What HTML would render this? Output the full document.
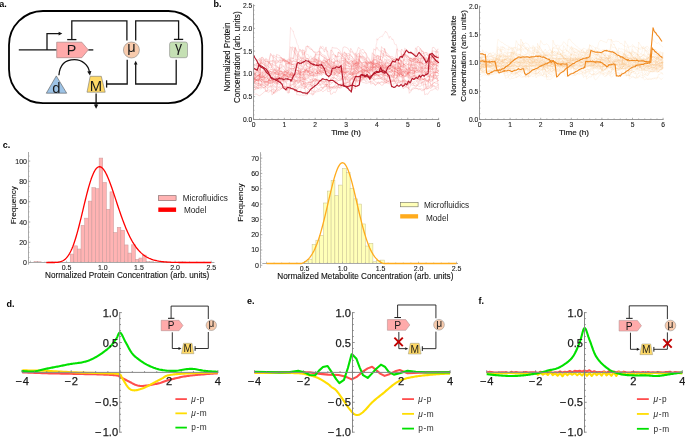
<!DOCTYPE html>
<html><head><meta charset="utf-8"><style>
html,body{margin:0;padding:0;background:#fff;}
svg{display:block;font-family:"Liberation Sans", sans-serif;will-change:transform;}
</style></head><body>
<svg width="685" height="437" viewBox="0 0 685 437">
<text x="-0.80" y="7.00" font-size="9.0" text-anchor="start" fill="#000" font-weight="bold" >a.</text>
<text x="213.50" y="7.00" font-size="9.0" text-anchor="start" fill="#000" font-weight="bold" >b.</text>
<text x="2.80" y="147.60" font-size="9.0" text-anchor="start" fill="#000" font-weight="bold" >c.</text>
<text x="6.60" y="307.30" font-size="9.0" text-anchor="start" fill="#000" font-weight="bold" >d.</text>
<text x="247.00" y="304.30" font-size="9.0" text-anchor="start" fill="#000" font-weight="bold" >e.</text>
<text x="478.50" y="304.30" font-size="9.0" text-anchor="start" fill="#000" font-weight="bold" >f.</text>
<g>
<rect x="9" y="11" width="193.2" height="92.2" rx="34" ry="34" fill="none" stroke="#000" stroke-width="1.8"/>
<line x1="18.8" y1="49.9" x2="56.7" y2="49.9" stroke="#151515" stroke-width="1.3"/>
<line x1="88.3" y1="49.9" x2="93.3" y2="49.9" stroke="#151515" stroke-width="1.3"/>
<polyline points="47,49.9 47,33.6 59.5,33.6" fill="none" stroke="#151515" stroke-width="1.3"/>
<polygon points="62.3,33.6 58.6,31.8 58.6,35.4" fill="#151515"/>
<polygon points="56.7,42.2 81.8,42.2 88.3,49.9 81.8,57.7 56.7,57.7" fill="#ffaaaa" stroke="#9a7a7a" stroke-width="0.6"/>
<text x="71.40" y="55.20" font-size="14.3" text-anchor="middle" fill="#1a1a1a" font-weight="normal" >P</text>
<polyline points="126.9,40.5 126.9,20.9 71.8,20.9 71.8,39.6" fill="none" stroke="#151515" stroke-width="1.3"/>
<line x1="67.2" y1="39.6" x2="76.4" y2="39.6" stroke="#151515" stroke-width="1.3"/>
<polyline points="135.7,40.5 135.7,20.9 178.6,20.9 178.6,39.4" fill="none" stroke="#151515" stroke-width="1.3"/>
<line x1="173.9" y1="39.4" x2="183.2" y2="39.4" stroke="#151515" stroke-width="1.3"/>
<circle cx="131.4" cy="50" r="8" fill="#f8cbad" stroke="#888" stroke-width="0.6"/>
<text x="131.40" y="51.90" font-size="14.6" text-anchor="middle" fill="#1a1a1a" font-weight="normal" >&#956;</text>
<rect x="169.6" y="42" width="17.9" height="15.7" rx="2.2" fill="#c5e0b4" stroke="#888" stroke-width="0.6"/>
<text x="178.60" y="51.90" font-size="14.2" text-anchor="middle" fill="#1a1a1a" font-weight="normal" >&#947;</text>
<polyline points="176.2,59.8 176.2,84 135.7,84 135.7,63.5" fill="none" stroke="#151515" stroke-width="1.3"/>
<polygon points="135.7,60.8 133.9,64.5 137.5,64.5" fill="#151515"/>
<polyline points="127.2,59.8 127.2,84 106.7,84" fill="none" stroke="#151515" stroke-width="1.3"/>
<line x1="106.6" y1="80.3" x2="106.6" y2="87.6" stroke="#151515" stroke-width="1.3"/>
<polygon points="56.3,75.9 66.7,93.2 46.3,93.2" fill="#9dc3e6" stroke="#555" stroke-width="0.6"/>
<text x="56.30" y="93.40" font-size="14.8" text-anchor="middle" fill="#1a1a1a" font-weight="normal" >d</text>
<polygon points="90.2,76.3 101.3,76.3 105.2,92.2 87,92.2" fill="#ffd966" stroke="#777" stroke-width="0.6"/>
<text x="95.90" y="90.80" font-size="14.8" text-anchor="middle" fill="#1a1a1a" font-weight="normal" >M</text>
<path d="M58.9,75.2 C60,62 68,59.6 74.5,59.6 C82,59.6 88.6,65 89.4,72" fill="none" stroke="#111" stroke-width="1.3"/>
<polygon points="90.0,75.6 87.2,71.4 91.4,70.9" fill="#111"/>
<line x1="96.1" y1="93.6" x2="96.1" y2="105.5" stroke="#111" stroke-width="1.3"/>
<polygon points="96.1,108.7 93.9,104.6 98.3,104.6" fill="#111"/>
</g>
<g fill="none" stroke-linejoin="round">
<polyline points="253.5,82.7 255.0,81.6 256.6,79.9 258.1,78.8 259.7,77.2 261.2,78.1 262.8,75.6 264.3,75.2 265.8,75.3 267.4,78.1 268.9,80.0 270.5,80.8 272.0,81.4 273.6,81.7 275.1,81.5 276.6,82.8 278.2,74.3 279.7,74.9 281.3,77.3 282.8,78.2 284.4,75.0 285.9,75.0 287.4,73.4 289.0,74.3 290.5,74.6 292.1,76.0 293.6,75.0 295.1,76.4 296.7,78.0 298.2,78.0 299.8,76.4 301.3,74.9 302.9,74.6 304.4,75.2 305.9,74.4 307.5,75.3 309.0,75.7 310.6,77.1 312.1,78.4 313.7,80.9 315.2,80.6 316.7,82.7 318.3,83.0 319.8,84.9 321.4,83.0 322.9,82.6 324.5,82.2 326.0,80.2 327.5,91.4 329.1,91.5 330.6,90.6 332.2,88.5 333.7,88.7 335.3,88.2 336.8,88.2 338.3,86.5 339.9,87.9 341.4,86.3 343.0,85.6 344.5,85.5 346.1,76.2 347.6,76.0 349.1,74.6 350.7,74.7 352.2,75.6 353.8,73.9 355.3,73.9 356.8,73.3 358.4,73.2 359.9,55.9 361.5,57.1 363.0,58.8 364.6,59.6 366.1,63.2 367.6,63.5 369.2,61.9 370.7,61.9 372.3,65.8 373.8,68.0 375.4,67.1 376.9,66.0 378.4,66.1 380.0,67.7 381.5,70.8 383.1,70.1 384.6,69.2 386.2,69.5 387.7,69.1 389.2,69.9 390.8,68.1 392.3,66.7 393.9,69.1 395.4,71.5 397.0,73.3 398.5,72.8 400.0,77.0 401.6,76.7 403.1,74.6 404.7,75.8 406.2,76.6 407.8,77.1 409.3,78.7 410.8,78.4 412.4,79.2 413.9,76.1 415.5,75.9 417.0,76.8 418.5,77.5 420.1,77.8 421.6,77.5 423.2,79.0 424.7,79.3 426.3,87.3 427.8,88.8 429.3,87.8 430.9,88.6 432.4,86.4 434.0,85.6 435.5,86.6 437.1,86.0 438.6,84.8" stroke="#ee5050" stroke-opacity="0.26" stroke-width="0.7"/>
<polyline points="253.5,83.0 255.0,81.6 256.6,80.9 258.1,79.2 259.7,78.1 261.2,76.6 262.8,77.1 264.3,79.4 265.8,77.0 267.4,78.6 268.9,61.7 270.5,61.7 272.0,60.6 273.6,60.4 275.1,63.2 276.6,63.4 278.2,62.2 279.7,62.4 281.3,62.6 282.8,59.9 284.4,58.7 285.9,62.1 287.4,64.2 289.0,63.6 290.5,61.3 292.1,46.9 293.6,47.6 295.1,49.6 296.7,66.6 298.2,67.8 299.8,68.7 301.3,69.9 302.9,68.4 304.4,66.9 305.9,67.8 307.5,71.6 309.0,73.3 310.6,73.4 312.1,71.7 313.7,76.4 315.2,75.0 316.7,75.2 318.3,66.5 319.8,66.7 321.4,67.6 322.9,69.7 324.5,70.6 326.0,71.3 327.5,72.4 329.1,73.4 330.6,74.1 332.2,72.0 333.7,61.9 335.3,66.0 336.8,66.5 338.3,66.2 339.9,68.7 341.4,68.4 343.0,68.7 344.5,68.9 346.1,53.4 347.6,55.8 349.1,55.4 350.7,54.6 352.2,57.0 353.8,59.3 355.3,60.2 356.8,59.0 358.4,60.5 359.9,61.0 361.5,62.9 363.0,66.5 364.6,65.0 366.1,68.1 367.6,67.5 369.2,66.8 370.7,68.8 372.3,70.2 373.8,69.1 375.4,70.1 376.9,67.4 378.4,67.1 380.0,69.3 381.5,70.1 383.1,68.7 384.6,58.8 386.2,60.1 387.7,62.7 389.2,61.7 390.8,61.8 392.3,63.3 393.9,62.1 395.4,61.7 397.0,63.0 398.5,62.7 400.0,65.4 401.6,67.1 403.1,67.5 404.7,48.3 406.2,49.5 407.8,50.5 409.3,52.6 410.8,52.8 412.4,53.5 413.9,53.5 415.5,54.3 417.0,57.3 418.5,58.2 420.1,58.5 421.6,58.7 423.2,57.9 424.7,59.1 426.3,59.6 427.8,62.0 429.3,63.0 430.9,64.4 432.4,64.6 434.0,64.1 435.5,64.5 437.1,64.9 438.6,67.1" stroke="#ee5050" stroke-opacity="0.26" stroke-width="0.7"/>
<polyline points="253.5,71.7 255.0,73.5 256.6,72.6 258.1,71.2 259.7,68.6 261.2,71.1 262.8,72.2 264.3,71.2 265.8,72.7 267.4,71.1 268.9,70.9 270.5,69.8 272.0,69.2 273.6,72.4 275.1,75.5 276.6,73.0 278.2,72.9 279.7,74.0 281.3,73.7 282.8,77.6 284.4,86.3 285.9,88.9 287.4,89.1 289.0,88.3 290.5,88.6 292.1,89.1 293.6,89.4 295.1,90.9 296.7,90.3 298.2,87.2 299.8,86.8 301.3,85.3 302.9,83.5 304.4,83.7 305.9,82.7 307.5,83.2 309.0,82.9 310.6,82.1 312.1,81.9 313.7,80.2 315.2,78.8 316.7,80.2 318.3,69.7 319.8,70.0 321.4,70.7 322.9,70.5 324.5,70.3 326.0,70.9 327.5,71.5 329.1,72.5 330.6,74.8 332.2,74.6 333.7,74.9 335.3,74.1 336.8,71.5 338.3,69.2 339.9,70.4 341.4,72.6 343.0,71.6 344.5,72.4 346.1,72.3 347.6,72.6 349.1,73.5 350.7,74.6 352.2,75.5 353.8,64.9 355.3,62.9 356.8,65.4 358.4,66.1 359.9,66.3 361.5,68.0 363.0,78.2 364.6,80.3 366.1,82.1 367.6,80.8 369.2,81.8 370.7,81.3 372.3,81.3 373.8,80.4 375.4,65.4 376.9,66.1 378.4,64.5 380.0,65.1 381.5,68.2 383.1,71.7 384.6,70.3 386.2,71.7 387.7,72.8 389.2,74.2 390.8,74.0 392.3,77.4 393.9,77.5 395.4,78.5 397.0,77.3 398.5,76.4 400.0,65.7 401.6,66.3 403.1,66.0 404.7,69.2 406.2,72.0 407.8,72.7 409.3,75.3 410.8,77.5 412.4,76.4 413.9,75.5 415.5,78.2 417.0,77.7 418.5,79.8 420.1,79.6 421.6,73.0 423.2,72.8 424.7,73.6 426.3,73.9 427.8,76.3 429.3,74.6 430.9,76.1 432.4,77.1 434.0,78.7 435.5,78.1 437.1,76.7 438.6,75.2" stroke="#ee5050" stroke-opacity="0.26" stroke-width="0.7"/>
<polyline points="253.5,75.9 255.0,77.8 256.6,80.0 258.1,80.9 259.7,79.6 261.2,81.4 262.8,80.3 264.3,77.6 265.8,78.1 267.4,78.4 268.9,79.2 270.5,77.7 272.0,77.4 273.6,93.9 275.1,91.0 276.6,89.8 278.2,90.3 279.7,90.3 281.3,88.8 282.8,86.8 284.4,86.5 285.9,88.7 287.4,87.3 289.0,86.9 290.5,85.7 292.1,85.0 293.6,84.3 295.1,83.7 296.7,81.5 298.2,80.1 299.8,80.6 301.3,80.8 302.9,81.3 304.4,83.4 305.9,84.4 307.5,82.7 309.0,82.3 310.6,82.7 312.1,80.1 313.7,80.5 315.2,78.4 316.7,80.0 318.3,79.9 319.8,80.9 321.4,81.5 322.9,80.9 324.5,80.9 326.0,81.8 327.5,81.8 329.1,83.5 330.6,94.3 332.2,94.0 333.7,91.8 335.3,92.8 336.8,89.9 338.3,87.2 339.9,88.3 341.4,88.0 343.0,85.8 344.5,84.4 346.1,85.0 347.6,86.1 349.1,87.4 350.7,78.9 352.2,77.7 353.8,77.4 355.3,77.5 356.8,78.7 358.4,78.6 359.9,78.0 361.5,79.9 363.0,68.0 364.6,69.0 366.1,70.2 367.6,71.0 369.2,69.7 370.7,69.6 372.3,70.4 373.8,72.2 375.4,73.8 376.9,74.3 378.4,75.7 380.0,75.8 381.5,77.4 383.1,77.8 384.6,77.9 386.2,78.9 387.7,78.3 389.2,78.0 390.8,79.4 392.3,79.1 393.9,79.9 395.4,79.1 397.0,76.5 398.5,74.6 400.0,75.7 401.6,77.3 403.1,76.9 404.7,79.4 406.2,81.5 407.8,82.0 409.3,80.3 410.8,77.2 412.4,75.8 413.9,77.0 415.5,62.2 417.0,61.9 418.5,62.9 420.1,62.5 421.6,50.4 423.2,52.5 424.7,56.2 426.3,54.2 427.8,56.0 429.3,56.7 430.9,58.4 432.4,59.1 434.0,60.2 435.5,60.6 437.1,61.5 438.6,62.1" stroke="#ee5050" stroke-opacity="0.26" stroke-width="0.7"/>
<polyline points="253.5,74.8 255.0,75.0 256.6,75.1 258.1,75.7 259.7,76.5 261.2,77.1 262.8,76.0 264.3,77.4 265.8,77.1 267.4,76.7 268.9,77.3 270.5,76.8 272.0,76.9 273.6,74.8 275.1,73.1 276.6,74.0 278.2,74.8 279.7,75.9 281.3,74.0 282.8,73.6 284.4,74.5 285.9,74.9 287.4,75.9 289.0,77.0 290.5,73.7 292.1,72.1 293.6,75.2 295.1,74.7 296.7,75.6 298.2,72.8 299.8,72.9 301.3,71.0 302.9,71.3 304.4,72.3 305.9,69.6 307.5,69.1 309.0,68.8 310.6,67.1 312.1,66.7 313.7,65.0 315.2,64.5 316.7,66.4 318.3,68.2 319.8,67.4 321.4,67.8 322.9,69.6 324.5,68.5 326.0,68.0 327.5,69.8 329.1,73.1 330.6,73.3 332.2,75.6 333.7,74.9 335.3,75.1 336.8,75.6 338.3,74.5 339.9,76.6 341.4,77.1 343.0,76.3 344.5,77.5 346.1,75.9 347.6,76.7 349.1,77.9 350.7,90.6 352.2,89.8 353.8,87.2 355.3,89.0 356.8,72.8 358.4,71.8 359.9,71.4 361.5,70.9 363.0,72.7 364.6,74.7 366.1,74.0 367.6,75.1 369.2,73.5 370.7,74.8 372.3,76.0 373.8,74.9 375.4,75.3 376.9,75.2 378.4,75.4 380.0,76.7 381.5,77.9 383.1,78.2 384.6,79.0 386.2,80.8 387.7,81.0 389.2,81.9 390.8,82.7 392.3,81.5 393.9,81.1 395.4,82.4 397.0,84.3 398.5,81.6 400.0,81.1 401.6,81.0 403.1,80.7 404.7,81.6 406.2,82.2 407.8,81.1 409.3,93.3 410.8,91.6 412.4,88.0 413.9,87.7 415.5,88.6 417.0,88.3 418.5,89.6 420.1,88.8 421.6,88.9 423.2,89.7 424.7,89.6 426.3,86.9 427.8,86.1 429.3,86.2 430.9,85.1 432.4,84.3 434.0,82.4 435.5,83.3 437.1,83.5 438.6,84.7" stroke="#ee5050" stroke-opacity="0.26" stroke-width="0.7"/>
<polyline points="253.5,78.8 255.0,79.0 256.6,77.6 258.1,76.6 259.7,76.0 261.2,79.4 262.8,79.7 264.3,79.9 265.8,81.5 267.4,82.3 268.9,83.3 270.5,83.1 272.0,82.3 273.6,82.2 275.1,82.3 276.6,80.7 278.2,80.8 279.7,81.0 281.3,81.4 282.8,81.2 284.4,80.3 285.9,82.6 287.4,83.9 289.0,84.0 290.5,84.5 292.1,73.7 293.6,75.5 295.1,75.8 296.7,78.1 298.2,79.8 299.8,79.5 301.3,68.3 302.9,69.6 304.4,52.0 305.9,62.1 307.5,63.2 309.0,63.8 310.6,64.3 312.1,66.7 313.7,65.0 315.2,65.4 316.7,65.5 318.3,69.4 319.8,71.5 321.4,71.8 322.9,70.3 324.5,70.1 326.0,69.5 327.5,69.9 329.1,70.3 330.6,71.1 332.2,70.5 333.7,71.8 335.3,73.1 336.8,72.3 338.3,72.9 339.9,72.7 341.4,70.1 343.0,71.9 344.5,62.0 346.1,65.3 347.6,63.0 349.1,63.8 350.7,65.1 352.2,69.2 353.8,68.2 355.3,67.3 356.8,52.2 358.4,47.4 359.9,48.4 361.5,50.2 363.0,49.2 364.6,51.7 366.1,54.0 367.6,67.1 369.2,69.4 370.7,67.5 372.3,68.1 373.8,67.3 375.4,65.7 376.9,65.8 378.4,56.7 380.0,58.4 381.5,60.8 383.1,62.8 384.6,64.6 386.2,64.0 387.7,65.9 389.2,63.8 390.8,64.0 392.3,66.2 393.9,66.8 395.4,67.4 397.0,70.5 398.5,70.2 400.0,70.5 401.6,72.6 403.1,74.7 404.7,72.6 406.2,72.7 407.8,74.0 409.3,58.4 410.8,58.1 412.4,59.2 413.9,58.7 415.5,59.3 417.0,61.2 418.5,62.5 420.1,62.4 421.6,62.5 423.2,64.9 424.7,65.3 426.3,65.8 427.8,59.9 429.3,60.3 430.9,64.0 432.4,65.9 434.0,67.1 435.5,66.9 437.1,70.4 438.6,70.2" stroke="#ee5050" stroke-opacity="0.26" stroke-width="0.7"/>
<polyline points="253.5,71.8 255.0,68.3 256.6,68.9 258.1,71.4 259.7,72.1 261.2,73.8 262.8,74.6 264.3,74.3 265.8,74.7 267.4,63.8 268.9,63.4 270.5,64.1 272.0,63.5 273.6,64.4 275.1,63.6 276.6,65.8 278.2,66.6 279.7,70.0 281.3,70.5 282.8,71.5 284.4,71.3 285.9,73.3 287.4,61.0 289.0,62.9 290.5,62.8 292.1,62.6 293.6,60.9 295.1,61.9 296.7,61.5 298.2,62.7 299.8,61.5 301.3,61.0 302.9,62.3 304.4,64.3 305.9,63.7 307.5,63.1 309.0,64.5 310.6,65.4 312.1,62.7 313.7,65.2 315.2,65.2 316.7,65.6 318.3,66.9 319.8,51.7 321.4,56.0 322.9,56.2 324.5,56.8 326.0,58.7 327.5,60.2 329.1,59.7 330.6,58.6 332.2,59.8 333.7,58.3 335.3,60.5 336.8,61.1 338.3,63.2 339.9,62.9 341.4,61.2 343.0,47.5 344.5,46.9 346.1,47.3 347.6,48.0 349.1,50.2 350.7,52.3 352.2,51.6 353.8,54.6 355.3,55.1 356.8,69.7 358.4,68.5 359.9,69.0 361.5,69.0 363.0,70.2 364.6,69.8 366.1,71.1 367.6,71.2 369.2,70.8 370.7,71.2 372.3,68.5 373.8,68.0 375.4,68.6 376.9,67.1 378.4,66.5 380.0,66.1 381.5,68.7 383.1,69.2 384.6,71.5 386.2,70.5 387.7,70.6 389.2,69.4 390.8,66.0 392.3,64.0 393.9,64.1 395.4,66.8 397.0,67.3 398.5,68.4 400.0,67.7 401.6,71.2 403.1,71.5 404.7,71.2 406.2,73.4 407.8,74.3 409.3,70.7 410.8,71.0 412.4,70.3 413.9,70.5 415.5,70.6 417.0,70.4 418.5,69.0 420.1,68.7 421.6,69.4 423.2,70.8 424.7,68.1 426.3,68.8 427.8,67.2 429.3,66.3 430.9,67.3 432.4,67.2 434.0,75.4 435.5,72.2 437.1,72.8 438.6,73.8" stroke="#ee5050" stroke-opacity="0.26" stroke-width="0.7"/>
<polyline points="253.5,73.4 255.0,70.9 256.6,70.2 258.1,68.2 259.7,69.2 261.2,81.9 262.8,80.8 264.3,82.4 265.8,81.1 267.4,80.9 268.9,81.2 270.5,81.0 272.0,79.3 273.6,81.0 275.1,82.1 276.6,81.0 278.2,79.2 279.7,78.3 281.3,78.2 282.8,77.2 284.4,78.0 285.9,76.7 287.4,76.1 289.0,75.0 290.5,74.7 292.1,75.3 293.6,76.6 295.1,77.8 296.7,76.5 298.2,78.1 299.8,77.4 301.3,77.4 302.9,75.3 304.4,77.4 305.9,78.8 307.5,78.8 309.0,77.2 310.6,76.0 312.1,76.0 313.7,73.7 315.2,72.6 316.7,71.3 318.3,72.6 319.8,73.6 321.4,71.7 322.9,72.5 324.5,71.2 326.0,71.9 327.5,70.0 329.1,70.8 330.6,71.7 332.2,71.9 333.7,73.1 335.3,71.8 336.8,71.9 338.3,71.6 339.9,70.5 341.4,71.2 343.0,69.9 344.5,79.0 346.1,79.2 347.6,79.7 349.1,80.4 350.7,78.9 352.2,78.5 353.8,81.0 355.3,80.5 356.8,82.1 358.4,81.3 359.9,82.5 361.5,80.0 363.0,79.7 364.6,63.4 366.1,64.3 367.6,66.3 369.2,66.5 370.7,68.2 372.3,66.8 373.8,57.5 375.4,57.9 376.9,56.2 378.4,56.2 380.0,56.8 381.5,60.5 383.1,61.1 384.6,63.3 386.2,63.6 387.7,63.2 389.2,62.9 390.8,65.9 392.3,67.9 393.9,67.8 395.4,69.5 397.0,70.2 398.5,70.4 400.0,71.7 401.6,70.6 403.1,71.3 404.7,73.0 406.2,74.1 407.8,73.4 409.3,72.7 410.8,69.7 412.4,67.7 413.9,68.3 415.5,67.9 417.0,68.8 418.5,69.4 420.1,60.5 421.6,61.4 423.2,60.2 424.7,58.6 426.3,60.6 427.8,61.5 429.3,62.2 430.9,61.0 432.4,62.9 434.0,61.6 435.5,62.4 437.1,61.0 438.6,63.4" stroke="#ee5050" stroke-opacity="0.26" stroke-width="0.7"/>
<polyline points="253.5,63.4 255.0,65.8 256.6,64.9 258.1,65.9 259.7,63.1 261.2,62.6 262.8,62.0 264.3,64.0 265.8,66.9 267.4,69.6 268.9,72.0 270.5,71.9 272.0,72.1 273.6,72.5 275.1,72.0 276.6,73.1 278.2,73.0 279.7,72.3 281.3,71.0 282.8,73.8 284.4,76.0 285.9,75.7 287.4,76.5 289.0,77.3 290.5,74.5 292.1,75.5 293.6,74.8 295.1,74.0 296.7,72.0 298.2,73.7 299.8,74.1 301.3,70.5 302.9,68.6 304.4,69.7 305.9,70.3 307.5,71.8 309.0,72.7 310.6,75.8 312.1,72.2 313.7,72.0 315.2,74.2 316.7,73.2 318.3,72.7 319.8,71.2 321.4,71.8 322.9,71.8 324.5,74.1 326.0,73.7 327.5,73.8 329.1,74.2 330.6,76.8 332.2,77.2 333.7,79.0 335.3,67.4 336.8,67.6 338.3,69.3 339.9,69.9 341.4,68.3 343.0,69.4 344.5,68.4 346.1,68.8 347.6,68.0 349.1,68.1 350.7,72.2 352.2,72.3 353.8,73.5 355.3,68.0 356.8,67.7 358.4,66.8 359.9,67.7 361.5,67.8 363.0,67.4 364.6,66.9 366.1,67.7 367.6,67.7 369.2,69.7 370.7,70.8 372.3,69.9 373.8,54.5 375.4,55.6 376.9,56.5 378.4,55.0 380.0,56.8 381.5,56.5 383.1,58.0 384.6,48.4 386.2,54.7 387.7,56.4 389.2,57.3 390.8,58.5 392.3,59.9 393.9,58.9 395.4,61.0 397.0,58.5 398.5,59.4 400.0,57.7 401.6,56.3 403.1,54.9 404.7,54.9 406.2,55.0 407.8,55.3 409.3,58.4 410.8,58.2 412.4,59.8 413.9,58.7 415.5,61.3 417.0,62.0 418.5,64.8 420.1,64.6 421.6,64.2 423.2,76.2 424.7,75.3 426.3,72.4 427.8,71.0 429.3,69.6 430.9,70.3 432.4,68.7 434.0,70.2 435.5,70.7 437.1,72.3 438.6,71.1" stroke="#ee5050" stroke-opacity="0.26" stroke-width="0.7"/>
<polyline points="253.5,73.2 255.0,75.2 256.6,74.9 258.1,75.2 259.7,74.9 261.2,76.3 262.8,77.4 264.3,77.6 265.8,77.1 267.4,75.3 268.9,75.3 270.5,73.5 272.0,74.2 273.6,73.1 275.1,72.3 276.6,72.3 278.2,72.6 279.7,72.0 281.3,72.6 282.8,75.4 284.4,74.4 285.9,75.7 287.4,74.5 289.0,74.5 290.5,75.0 292.1,57.7 293.6,59.1 295.1,46.9 296.7,52.3 298.2,56.2 299.8,57.2 301.3,59.4 302.9,58.4 304.4,58.9 305.9,61.4 307.5,71.9 309.0,73.0 310.6,75.4 312.1,75.5 313.7,75.4 315.2,74.1 316.7,71.1 318.3,73.8 319.8,73.7 321.4,75.7 322.9,62.0 324.5,56.9 326.0,59.4 327.5,59.1 329.1,59.9 330.6,62.5 332.2,64.7 333.7,64.7 335.3,66.6 336.8,65.1 338.3,65.4 339.9,65.4 341.4,65.3 343.0,67.7 344.5,66.8 346.1,69.2 347.6,68.9 349.1,68.6 350.7,68.8 352.2,68.0 353.8,69.2 355.3,68.4 356.8,69.6 358.4,71.2 359.9,73.9 361.5,75.4 363.0,75.6 364.6,73.3 366.1,61.2 367.6,64.5 369.2,65.7 370.7,66.3 372.3,68.2 373.8,67.5 375.4,67.3 376.9,66.4 378.4,67.9 380.0,66.0 381.5,68.3 383.1,67.7 384.6,67.2 386.2,66.9 387.7,67.2 389.2,68.5 390.8,68.3 392.3,70.6 393.9,67.9 395.4,67.8 397.0,70.3 398.5,72.3 400.0,75.2 401.6,60.1 403.1,64.2 404.7,64.8 406.2,66.0 407.8,67.4 409.3,68.3 410.8,70.0 412.4,71.1 413.9,70.4 415.5,72.4 417.0,62.8 418.5,56.2 420.1,55.0 421.6,57.2 423.2,57.9 424.7,59.3 426.3,60.9 427.8,63.8 429.3,65.1 430.9,66.9 432.4,65.9 434.0,55.2 435.5,56.2 437.1,57.2 438.6,57.6" stroke="#ee5050" stroke-opacity="0.26" stroke-width="0.7"/>
<polyline points="253.5,74.0 255.0,74.1 256.6,74.2 258.1,72.6 259.7,74.6 261.2,62.9 262.8,63.8 264.3,65.3 265.8,65.9 267.4,68.8 268.9,67.3 270.5,68.0 272.0,67.2 273.6,54.9 275.1,56.3 276.6,56.3 278.2,58.0 279.7,57.5 281.3,57.5 282.8,58.7 284.4,59.0 285.9,61.1 287.4,61.5 289.0,62.7 290.5,63.9 292.1,64.5 293.6,64.2 295.1,63.5 296.7,64.7 298.2,62.8 299.8,64.7 301.3,66.3 302.9,67.5 304.4,68.7 305.9,72.5 307.5,74.6 309.0,74.9 310.6,74.0 312.1,72.5 313.7,70.6 315.2,61.0 316.7,59.3 318.3,60.2 319.8,61.0 321.4,62.9 322.9,64.2 324.5,63.4 326.0,64.0 327.5,63.0 329.1,64.1 330.6,66.6 332.2,68.3 333.7,67.4 335.3,68.9 336.8,67.9 338.3,52.0 339.9,52.9 341.4,55.2 343.0,56.7 344.5,58.5 346.1,61.3 347.6,61.2 349.1,62.1 350.7,65.1 352.2,64.3 353.8,66.0 355.3,66.7 356.8,68.5 358.4,71.8 359.9,70.5 361.5,70.5 363.0,72.0 364.6,72.6 366.1,73.3 367.6,71.3 369.2,73.5 370.7,71.9 372.3,73.8 373.8,74.3 375.4,74.3 376.9,74.6 378.4,71.9 380.0,70.3 381.5,70.3 383.1,69.9 384.6,68.1 386.2,61.9 387.7,63.3 389.2,66.4 390.8,67.2 392.3,57.8 393.9,59.8 395.4,59.6 397.0,48.7 398.5,66.9 400.0,67.6 401.6,69.9 403.1,85.4 404.7,83.3 406.2,84.1 407.8,83.4 409.3,83.4 410.8,81.4 412.4,82.8 413.9,85.1 415.5,87.0 417.0,86.2 418.5,83.6 420.1,79.2 421.6,78.2 423.2,79.1 424.7,80.2 426.3,80.9 427.8,80.2 429.3,79.6 430.9,77.1 432.4,76.7 434.0,77.9 435.5,78.1 437.1,80.1 438.6,80.7" stroke="#ee5050" stroke-opacity="0.26" stroke-width="0.7"/>
<polyline points="253.5,78.7 255.0,79.4 256.6,75.9 258.1,74.9 259.7,76.2 261.2,77.5 262.8,76.8 264.3,75.9 265.8,74.7 267.4,76.0 268.9,75.7 270.5,74.4 272.0,73.1 273.6,71.8 275.1,72.9 276.6,72.0 278.2,70.4 279.7,71.1 281.3,71.4 282.8,72.0 284.4,72.7 285.9,70.9 287.4,70.2 289.0,72.5 290.5,73.0 292.1,73.3 293.6,86.6 295.1,86.6 296.7,87.5 298.2,86.0 299.8,85.3 301.3,83.6 302.9,84.0 304.4,82.5 305.9,95.5 307.5,94.0 309.0,92.7 310.6,93.7 312.1,94.0 313.7,93.9 315.2,92.2 316.7,91.8 318.3,91.5 319.8,91.1 321.4,90.1 322.9,87.5 324.5,87.2 326.0,85.5 327.5,83.8 329.1,82.8 330.6,79.2 332.2,77.5 333.7,76.9 335.3,78.6 336.8,78.3 338.3,75.2 339.9,72.3 341.4,71.0 343.0,73.2 344.5,72.0 346.1,73.3 347.6,77.4 349.1,76.7 350.7,77.3 352.2,77.2 353.8,77.1 355.3,75.9 356.8,74.9 358.4,74.8 359.9,75.8 361.5,74.1 363.0,72.1 364.6,70.9 366.1,70.3 367.6,69.7 369.2,70.8 370.7,69.5 372.3,66.9 373.8,67.2 375.4,67.2 376.9,65.5 378.4,68.1 380.0,59.0 381.5,60.6 383.1,77.1 384.6,75.1 386.2,75.8 387.7,77.0 389.2,76.4 390.8,75.4 392.3,74.7 393.9,75.4 395.4,73.7 397.0,74.3 398.5,57.8 400.0,60.2 401.6,62.5 403.1,60.7 404.7,60.2 406.2,62.5 407.8,59.2 409.3,59.2 410.8,60.6 412.4,61.3 413.9,61.0 415.5,47.8 417.0,49.9 418.5,53.0 420.1,53.1 421.6,54.0 423.2,53.6 424.7,53.1 426.3,52.6 427.8,55.3 429.3,55.3 430.9,57.1 432.4,56.9 434.0,56.6 435.5,59.6 437.1,60.7 438.6,62.5" stroke="#ee5050" stroke-opacity="0.26" stroke-width="0.7"/>
<polyline points="253.5,82.3 255.0,81.8 256.6,78.5 258.1,78.1 259.7,58.1 261.2,60.2 262.8,61.2 264.3,61.0 265.8,61.6 267.4,61.7 268.9,62.1 270.5,63.6 272.0,67.6 273.6,69.2 275.1,70.9 276.6,70.5 278.2,70.7 279.7,71.5 281.3,71.7 282.8,73.0 284.4,76.0 285.9,75.9 287.4,76.3 289.0,78.2 290.5,77.1 292.1,77.2 293.6,74.8 295.1,75.1 296.7,76.8 298.2,76.5 299.8,79.3 301.3,81.3 302.9,81.9 304.4,69.0 305.9,69.0 307.5,68.4 309.0,68.0 310.6,70.2 312.1,73.0 313.7,71.7 315.2,72.3 316.7,71.3 318.3,57.4 319.8,59.6 321.4,61.5 322.9,62.7 324.5,64.2 326.0,64.9 327.5,65.8 329.1,66.9 330.6,69.2 332.2,54.3 333.7,54.7 335.3,56.7 336.8,56.5 338.3,56.6 339.9,55.9 341.4,58.1 343.0,58.6 344.5,58.9 346.1,60.3 347.6,61.6 349.1,62.9 350.7,60.6 352.2,60.9 353.8,63.1 355.3,63.3 356.8,63.6 358.4,65.8 359.9,66.4 361.5,68.0 363.0,68.9 364.6,69.2 366.1,68.1 367.6,68.7 369.2,68.8 370.7,66.2 372.3,66.4 373.8,64.2 375.4,65.9 376.9,67.3 378.4,68.6 380.0,68.9 381.5,68.6 383.1,68.8 384.6,68.5 386.2,66.5 387.7,77.2 389.2,76.9 390.8,77.6 392.3,74.8 393.9,75.3 395.4,75.4 397.0,76.2 398.5,77.3 400.0,74.3 401.6,73.1 403.1,71.3 404.7,72.2 406.2,70.9 407.8,72.4 409.3,72.4 410.8,72.6 412.4,73.9 413.9,71.5 415.5,72.0 417.0,72.0 418.5,72.9 420.1,70.8 421.6,56.7 423.2,57.5 424.7,57.8 426.3,59.1 427.8,59.5 429.3,59.0 430.9,59.9 432.4,63.3 434.0,64.0 435.5,64.2 437.1,63.5 438.6,62.9" stroke="#ee5050" stroke-opacity="0.26" stroke-width="0.7"/>
<polyline points="253.5,71.0 255.0,74.6 256.6,71.5 258.1,59.2 259.7,60.9 261.2,61.2 262.8,64.2 264.3,64.6 265.8,65.9 267.4,66.0 268.9,66.7 270.5,64.6 272.0,65.7 273.6,67.6 275.1,69.1 276.6,69.7 278.2,74.7 279.7,73.6 281.3,73.7 282.8,74.4 284.4,74.1 285.9,76.0 287.4,70.5 289.0,69.0 290.5,68.6 292.1,68.2 293.6,68.6 295.1,68.5 296.7,70.6 298.2,70.9 299.8,70.3 301.3,72.3 302.9,71.8 304.4,72.2 305.9,72.3 307.5,72.6 309.0,70.7 310.6,71.4 312.1,71.2 313.7,70.7 315.2,70.2 316.7,69.2 318.3,74.1 319.8,74.2 321.4,73.5 322.9,74.6 324.5,59.7 326.0,61.5 327.5,63.1 329.1,64.5 330.6,66.5 332.2,68.1 333.7,67.2 335.3,65.5 336.8,66.4 338.3,67.3 339.9,60.1 341.4,60.1 343.0,61.1 344.5,60.5 346.1,61.9 347.6,62.1 349.1,66.7 350.7,69.1 352.2,69.8 353.8,68.7 355.3,71.1 356.8,71.6 358.4,56.7 359.9,57.2 361.5,58.3 363.0,60.9 364.6,61.0 366.1,62.5 367.6,64.1 369.2,63.4 370.7,65.4 372.3,68.2 373.8,60.0 375.4,59.7 376.9,62.2 378.4,63.5 380.0,62.8 381.5,62.2 383.1,65.8 384.6,65.4 386.2,67.2 387.7,68.0 389.2,66.4 390.8,64.8 392.3,65.2 393.9,66.1 395.4,67.5 397.0,68.6 398.5,68.5 400.0,69.5 401.6,70.2 403.1,71.2 404.7,70.2 406.2,69.5 407.8,71.4 409.3,72.6 410.8,71.8 412.4,72.8 413.9,73.3 415.5,71.1 417.0,70.2 418.5,71.7 420.1,69.4 421.6,67.7 423.2,69.3 424.7,67.6 426.3,68.8 427.8,69.0 429.3,69.0 430.9,57.9 432.4,56.7 434.0,58.1 435.5,59.5 437.1,61.0 438.6,63.3" stroke="#ee5050" stroke-opacity="0.26" stroke-width="0.7"/>
<polyline points="253.5,81.3 255.0,79.9 256.6,79.5 258.1,79.1 259.7,80.0 261.2,79.6 262.8,79.0 264.3,81.4 265.8,81.9 267.4,82.0 268.9,80.2 270.5,79.9 272.0,80.4 273.6,79.9 275.1,80.7 276.6,83.0 278.2,84.1 279.7,66.0 281.3,58.6 282.8,59.0 284.4,61.4 285.9,61.8 287.4,60.4 289.0,63.3 290.5,46.8 292.1,48.4 293.6,51.6 295.1,53.4 296.7,55.9 298.2,58.0 299.8,60.4 301.3,61.2 302.9,62.1 304.4,61.9 305.9,62.7 307.5,63.0 309.0,61.0 310.6,61.3 312.1,62.9 313.7,65.0 315.2,66.4 316.7,63.8 318.3,61.8 319.8,60.5 321.4,61.2 322.9,61.8 324.5,63.1 326.0,61.9 327.5,59.9 329.1,59.5 330.6,60.2 332.2,61.5 333.7,62.8 335.3,61.1 336.8,60.3 338.3,61.6 339.9,62.4 341.4,64.8 343.0,64.3 344.5,65.9 346.1,66.1 347.6,65.3 349.1,66.4 350.7,66.8 352.2,65.4 353.8,65.3 355.3,63.5 356.8,63.1 358.4,63.2 359.9,65.3 361.5,64.9 363.0,78.0 364.6,78.1 366.1,77.0 367.6,76.3 369.2,75.2 370.7,76.8 372.3,75.3 373.8,66.1 375.4,67.9 376.9,69.0 378.4,70.9 380.0,71.9 381.5,72.2 383.1,71.3 384.6,71.6 386.2,73.8 387.7,73.2 389.2,71.8 390.8,71.1 392.3,70.1 393.9,59.3 395.4,61.2 397.0,60.0 398.5,62.2 400.0,64.8 401.6,64.4 403.1,65.7 404.7,64.0 406.2,63.0 407.8,64.4 409.3,62.6 410.8,65.1 412.4,64.7 413.9,63.3 415.5,62.2 417.0,62.0 418.5,60.6 420.1,61.1 421.6,62.5 423.2,61.1 424.7,60.0 426.3,62.0 427.8,61.6 429.3,61.0 430.9,61.8 432.4,61.5 434.0,60.9 435.5,61.6 437.1,60.5 438.6,60.9" stroke="#ee5050" stroke-opacity="0.26" stroke-width="0.7"/>
<polyline points="253.5,72.2 255.0,84.5 256.6,84.3 258.1,85.1 259.7,85.2 261.2,84.8 262.8,85.0 264.3,85.4 265.8,84.2 267.4,84.3 268.9,83.2 270.5,75.5 272.0,74.9 273.6,74.6 275.1,72.5 276.6,72.0 278.2,69.4 279.7,70.2 281.3,71.3 282.8,72.4 284.4,72.0 285.9,72.4 287.4,72.5 289.0,75.2 290.5,76.3 292.1,74.7 293.6,75.4 295.1,74.3 296.7,74.0 298.2,73.4 299.8,74.2 301.3,74.3 302.9,73.3 304.4,73.0 305.9,74.1 307.5,74.0 309.0,76.1 310.6,75.0 312.1,75.9 313.7,76.4 315.2,75.8 316.7,75.1 318.3,72.1 319.8,71.0 321.4,70.3 322.9,71.9 324.5,73.1 326.0,73.6 327.5,73.9 329.1,72.2 330.6,72.2 332.2,71.4 333.7,70.4 335.3,71.2 336.8,71.1 338.3,72.7 339.9,73.4 341.4,61.6 343.0,60.2 344.5,61.4 346.1,62.5 347.6,61.4 349.1,63.3 350.7,63.3 352.2,62.1 353.8,60.4 355.3,62.2 356.8,62.2 358.4,62.3 359.9,61.6 361.5,64.7 363.0,64.8 364.6,66.1 366.1,64.9 367.6,65.2 369.2,63.4 370.7,64.1 372.3,65.3 373.8,64.5 375.4,64.7 376.9,66.4 378.4,69.5 380.0,68.8 381.5,69.8 383.1,52.9 384.6,55.4 386.2,55.5 387.7,55.2 389.2,56.9 390.8,58.0 392.3,61.1 393.9,60.2 395.4,61.8 397.0,64.2 398.5,66.0 400.0,65.9 401.6,68.3 403.1,69.8 404.7,69.4 406.2,68.1 407.8,70.7 409.3,73.3 410.8,58.4 412.4,58.0 413.9,58.2 415.5,58.1 417.0,59.0 418.5,60.5 420.1,48.3 421.6,50.0 423.2,51.6 424.7,57.1 426.3,57.2 427.8,59.0 429.3,61.5 430.9,62.8 432.4,62.3 434.0,65.5 435.5,51.7 437.1,52.7 438.6,53.2" stroke="#ee5050" stroke-opacity="0.26" stroke-width="0.7"/>
<polyline points="253.5,84.7 255.0,86.8 256.6,84.7 258.1,85.8 259.7,85.5 261.2,85.9 262.8,70.3 264.3,70.6 265.8,71.2 267.4,71.0 268.9,72.3 270.5,72.9 272.0,75.8 273.6,77.6 275.1,77.1 276.6,77.2 278.2,80.1 279.7,80.7 281.3,80.7 282.8,80.9 284.4,70.7 285.9,71.2 287.4,73.4 289.0,71.8 290.5,57.7 292.1,58.3 293.6,58.7 295.1,47.7 296.7,50.7 298.2,52.6 299.8,49.5 301.3,50.6 302.9,53.0 304.4,54.6 305.9,57.5 307.5,59.2 309.0,59.8 310.6,62.6 312.1,63.0 313.7,65.7 315.2,54.6 316.7,55.1 318.3,54.8 319.8,54.4 321.4,55.2 322.9,56.9 324.5,58.1 326.0,61.5 327.5,60.0 329.1,59.6 330.6,60.3 332.2,62.9 333.7,61.7 335.3,63.1 336.8,64.3 338.3,63.8 339.9,67.3 341.4,67.8 343.0,68.9 344.5,70.1 346.1,71.9 347.6,71.6 349.1,69.9 350.7,71.5 352.2,73.5 353.8,77.0 355.3,77.6 356.8,76.5 358.4,78.0 359.9,77.3 361.5,77.5 363.0,78.4 364.6,77.0 366.1,77.3 367.6,75.8 369.2,75.4 370.7,75.4 372.3,75.9 373.8,74.7 375.4,75.6 376.9,74.9 378.4,75.5 380.0,74.0 381.5,75.0 383.1,73.2 384.6,71.0 386.2,72.3 387.7,71.6 389.2,71.8 390.8,72.3 392.3,71.1 393.9,70.2 395.4,71.7 397.0,72.3 398.5,73.4 400.0,72.5 401.6,72.4 403.1,88.8 404.7,87.4 406.2,86.2 407.8,88.2 409.3,88.3 410.8,84.8 412.4,85.3 413.9,85.3 415.5,85.7 417.0,85.5 418.5,84.0 420.1,83.7 421.6,82.8 423.2,82.1 424.7,81.2 426.3,89.3 427.8,88.0 429.3,76.5 430.9,75.7 432.4,75.5 434.0,75.9 435.5,76.1 437.1,75.6 438.6,74.9" stroke="#ee5050" stroke-opacity="0.26" stroke-width="0.7"/>
<polyline points="253.5,77.3 255.0,75.2 256.6,76.1 258.1,75.7 259.7,75.2 261.2,57.8 262.8,57.8 264.3,60.7 265.8,58.4 267.4,59.5 268.9,60.4 270.5,54.7 272.0,55.6 273.6,57.1 275.1,57.6 276.6,59.6 278.2,61.4 279.7,59.1 281.3,57.4 282.8,59.3 284.4,61.9 285.9,61.2 287.4,62.0 289.0,63.0 290.5,63.1 292.1,64.6 293.6,64.2 295.1,64.3 296.7,64.7 298.2,64.7 299.8,64.6 301.3,64.6 302.9,66.7 304.4,65.7 305.9,64.7 307.5,66.6 309.0,67.5 310.6,67.0 312.1,68.6 313.7,70.0 315.2,69.1 316.7,67.6 318.3,68.6 319.8,67.1 321.4,68.1 322.9,69.6 324.5,70.4 326.0,61.2 327.5,64.4 329.1,64.3 330.6,66.4 332.2,66.7 333.7,66.5 335.3,68.9 336.8,70.8 338.3,71.3 339.9,71.5 341.4,71.6 343.0,72.1 344.5,72.5 346.1,55.8 347.6,57.3 349.1,59.8 350.7,48.3 352.2,50.7 353.8,53.5 355.3,54.3 356.8,56.4 358.4,56.0 359.9,56.4 361.5,56.2 363.0,57.4 364.6,58.3 366.1,60.5 367.6,61.9 369.2,62.8 370.7,62.3 372.3,61.1 373.8,59.2 375.4,59.2 376.9,59.2 378.4,63.1 380.0,64.2 381.5,64.0 383.1,66.9 384.6,78.3 386.2,79.9 387.7,82.0 389.2,80.8 390.8,82.0 392.3,81.5 393.9,80.9 395.4,82.4 397.0,80.0 398.5,80.4 400.0,72.3 401.6,74.5 403.1,76.0 404.7,77.4 406.2,75.5 407.8,76.1 409.3,77.7 410.8,77.2 412.4,77.1 413.9,75.3 415.5,75.6 417.0,75.9 418.5,76.3 420.1,75.3 421.6,84.3 423.2,81.2 424.7,94.7 426.3,93.9 427.8,94.3 429.3,91.9 430.9,90.2 432.4,90.0 434.0,88.9 435.5,88.7 437.1,87.2 438.6,88.7" stroke="#ee5050" stroke-opacity="0.26" stroke-width="0.7"/>
<polyline points="253.5,85.2 255.0,87.9 256.6,88.0 258.1,87.3 259.7,87.1 261.2,87.7 262.8,86.6 264.3,88.1 265.8,86.0 267.4,85.3 268.9,83.3 270.5,83.2 272.0,83.0 273.6,81.8 275.1,81.8 276.6,83.2 278.2,80.6 279.7,79.8 281.3,77.4 282.8,75.7 284.4,75.1 285.9,73.9 287.4,74.7 289.0,79.8 290.5,79.5 292.1,81.4 293.6,82.3 295.1,81.7 296.7,80.7 298.2,83.8 299.8,81.1 301.3,83.0 302.9,81.5 304.4,81.4 305.9,83.2 307.5,82.8 309.0,82.3 310.6,79.5 312.1,95.1 313.7,94.6 315.2,79.3 316.7,81.5 318.3,82.4 319.8,83.6 321.4,86.9 322.9,89.3 324.5,86.5 326.0,86.8 327.5,84.0 329.1,84.3 330.6,84.3 332.2,83.0 333.7,81.3 335.3,80.4 336.8,81.7 338.3,80.5 339.9,79.7 341.4,80.4 343.0,69.8 344.5,73.0 346.1,71.8 347.6,74.8 349.1,74.5 350.7,73.3 352.2,72.6 353.8,71.3 355.3,72.6 356.8,71.5 358.4,68.8 359.9,70.5 361.5,70.0 363.0,70.5 364.6,71.3 366.1,72.0 367.6,69.7 369.2,69.9 370.7,68.7 372.3,61.0 373.8,62.1 375.4,64.7 376.9,63.3 378.4,64.1 380.0,64.4 381.5,67.2 383.1,64.6 384.6,65.4 386.2,65.7 387.7,67.4 389.2,68.5 390.8,68.9 392.3,71.3 393.9,71.3 395.4,71.3 397.0,72.3 398.5,71.7 400.0,72.0 401.6,71.7 403.1,71.1 404.7,70.6 406.2,71.7 407.8,73.5 409.3,72.7 410.8,64.4 412.4,65.6 413.9,64.8 415.5,64.9 417.0,64.8 418.5,66.8 420.1,68.0 421.6,66.6 423.2,67.3 424.7,69.3 426.3,71.5 427.8,71.3 429.3,71.7 430.9,71.2 432.4,71.5 434.0,71.7 435.5,72.8 437.1,62.9 438.6,53.9" stroke="#ee5050" stroke-opacity="0.26" stroke-width="0.7"/>
<polyline points="253.5,83.0 255.0,83.2 256.6,82.8 258.1,83.0 259.7,84.8 261.2,84.7 262.8,85.0 264.3,86.0 265.8,86.7 267.4,88.4 268.9,87.0 270.5,87.0 272.0,85.5 273.6,84.6 275.1,86.8 276.6,88.5 278.2,72.9 279.7,74.4 281.3,73.5 282.8,72.7 284.4,74.3 285.9,74.8 287.4,72.2 289.0,70.9 290.5,71.7 292.1,73.4 293.6,73.9 295.1,74.7 296.7,74.1 298.2,74.7 299.8,74.3 301.3,73.4 302.9,71.2 304.4,71.6 305.9,70.5 307.5,70.7 309.0,70.8 310.6,71.4 312.1,71.2 313.7,60.8 315.2,60.9 316.7,62.9 318.3,64.6 319.8,48.1 321.4,47.9 322.9,48.8 324.5,52.1 326.0,46.9 327.5,55.2 329.1,58.6 330.6,58.0 332.2,47.3 333.7,47.9 335.3,48.1 336.8,48.2 338.3,49.3 339.9,50.6 341.4,54.0 343.0,54.4 344.5,55.5 346.1,54.9 347.6,57.8 349.1,61.3 350.7,61.7 352.2,61.5 353.8,61.0 355.3,63.6 356.8,62.6 358.4,65.1 359.9,50.2 361.5,51.7 363.0,53.5 364.6,52.3 366.1,53.0 367.6,57.1 369.2,58.5 370.7,61.8 372.3,62.8 373.8,64.2 375.4,63.9 376.9,63.2 378.4,61.5 380.0,63.2 381.5,62.6 383.1,62.9 384.6,64.3 386.2,66.8 387.7,67.2 389.2,67.9 390.8,67.9 392.3,70.2 393.9,68.5 395.4,68.7 397.0,70.2 398.5,70.2 400.0,72.7 401.6,74.8 403.1,76.1 404.7,76.3 406.2,76.2 407.8,74.7 409.3,75.5 410.8,77.0 412.4,77.3 413.9,78.3 415.5,79.8 417.0,78.4 418.5,79.4 420.1,77.7 421.6,79.3 423.2,79.7 424.7,78.4 426.3,80.3 427.8,81.3 429.3,82.1 430.9,84.3 432.4,86.1 434.0,72.8 435.5,71.9 437.1,72.3 438.6,74.0" stroke="#ee5050" stroke-opacity="0.26" stroke-width="0.7"/>
<polyline points="253.5,84.9 255.0,85.8 256.6,87.0 258.1,84.8 259.7,74.0 261.2,75.6 262.8,74.2 264.3,72.6 265.8,71.6 267.4,72.5 268.9,73.5 270.5,74.0 272.0,73.6 273.6,75.6 275.1,76.8 276.6,76.5 278.2,76.5 279.7,77.0 281.3,78.6 282.8,79.7 284.4,80.1 285.9,78.2 287.4,79.4 289.0,78.5 290.5,79.4 292.1,81.2 293.6,79.1 295.1,81.1 296.7,81.2 298.2,82.3 299.8,82.1 301.3,83.9 302.9,86.4 304.4,86.7 305.9,86.3 307.5,88.5 309.0,89.2 310.6,89.5 312.1,90.6 313.7,91.7 315.2,91.9 316.7,90.0 318.3,90.2 319.8,89.5 321.4,90.4 322.9,91.9 324.5,90.5 326.0,89.7 327.5,88.0 329.1,86.3 330.6,78.4 332.2,79.7 333.7,77.6 335.3,78.0 336.8,79.8 338.3,80.4 339.9,80.5 341.4,79.3 343.0,79.3 344.5,78.7 346.1,77.0 347.6,81.2 349.1,81.3 350.7,82.5 352.2,83.6 353.8,84.6 355.3,81.8 356.8,79.9 358.4,80.3 359.9,81.0 361.5,80.3 363.0,77.7 364.6,70.4 366.1,70.3 367.6,72.0 369.2,72.5 370.7,74.8 372.3,75.5 373.8,74.3 375.4,75.2 376.9,76.4 378.4,78.5 380.0,78.9 381.5,77.9 383.1,76.0 384.6,70.0 386.2,68.8 387.7,69.4 389.2,71.3 390.8,71.9 392.3,73.4 393.9,73.4 395.4,74.8 397.0,76.0 398.5,75.6 400.0,74.6 401.6,73.7 403.1,77.0 404.7,86.5 406.2,87.1 407.8,87.0 409.3,89.6 410.8,90.3 412.4,89.5 413.9,88.7 415.5,87.8 417.0,88.5 418.5,88.9 420.1,89.0 421.6,90.8 423.2,90.6 424.7,88.9 426.3,88.5 427.8,89.0 429.3,87.1 430.9,87.0 432.4,86.8 434.0,85.6 435.5,87.9 437.1,90.1 438.6,89.7" stroke="#ee5050" stroke-opacity="0.26" stroke-width="0.7"/>
<polyline points="253.5,79.9 255.0,81.3 256.6,80.3 258.1,80.5 259.7,80.9 261.2,79.6 262.8,80.7 264.3,81.9 265.8,81.8 267.4,81.8 268.9,82.4 270.5,83.1 272.0,83.3 273.6,82.8 275.1,83.9 276.6,84.2 278.2,83.7 279.7,84.5 281.3,84.9 282.8,85.0 284.4,82.3 285.9,80.3 287.4,80.5 289.0,77.4 290.5,77.7 292.1,77.2 293.6,75.8 295.1,73.4 296.7,74.0 298.2,74.5 299.8,60.7 301.3,60.3 302.9,60.6 304.4,61.7 305.9,63.9 307.5,67.1 309.0,66.7 310.6,67.4 312.1,60.0 313.7,57.3 315.2,58.1 316.7,59.6 318.3,60.9 319.8,61.5 321.4,62.2 322.9,62.2 324.5,63.1 326.0,61.8 327.5,63.9 329.1,65.9 330.6,50.1 332.2,50.7 333.7,54.0 335.3,54.9 336.8,57.6 338.3,52.3 339.9,53.5 341.4,55.7 343.0,56.0 344.5,57.7 346.1,60.1 347.6,63.4 349.1,63.4 350.7,63.2 352.2,62.8 353.8,64.1 355.3,64.1 356.8,65.5 358.4,67.8 359.9,52.6 361.5,53.9 363.0,56.8 364.6,57.9 366.1,59.1 367.6,61.0 369.2,63.2 370.7,62.7 372.3,63.1 373.8,64.4 375.4,63.5 376.9,63.7 378.4,62.8 380.0,62.5 381.5,46.6 383.1,48.8 384.6,49.0 386.2,54.7 387.7,56.5 389.2,56.4 390.8,56.5 392.3,56.4 393.9,57.8 395.4,58.3 397.0,60.7 398.5,61.8 400.0,64.1 401.6,63.4 403.1,64.2 404.7,64.7 406.2,67.1 407.8,76.5 409.3,77.6 410.8,70.4 412.4,69.5 413.9,72.3 415.5,73.0 417.0,72.0 418.5,70.8 420.1,71.3 421.6,72.1 423.2,71.2 424.7,72.4 426.3,72.5 427.8,71.6 429.3,72.1 430.9,71.7 432.4,72.5 434.0,71.4 435.5,71.9 437.1,72.5 438.6,71.4" stroke="#ee5050" stroke-opacity="0.26" stroke-width="0.7"/>
<polyline points="253.5,91.1 255.0,89.1 256.6,88.9 258.1,88.7 259.7,74.5 261.2,75.0 262.8,75.3 264.3,78.6 265.8,80.4 267.4,78.7 268.9,79.4 270.5,80.4 272.0,79.9 273.6,81.8 275.1,83.9 276.6,83.5 278.2,81.9 279.7,64.7 281.3,64.8 282.8,65.0 284.4,67.3 285.9,70.1 287.4,70.0 289.0,71.1 290.5,68.9 292.1,68.1 293.6,69.3 295.1,70.0 296.7,71.6 298.2,70.4 299.8,71.4 301.3,73.0 302.9,72.0 304.4,70.6 305.9,70.6 307.5,71.9 309.0,70.7 310.6,73.2 312.1,75.0 313.7,75.0 315.2,73.5 316.7,73.5 318.3,72.1 319.8,70.7 321.4,73.3 322.9,72.6 324.5,72.1 326.0,71.3 327.5,70.9 329.1,73.0 330.6,74.4 332.2,73.9 333.7,72.7 335.3,73.5 336.8,75.4 338.3,73.0 339.9,73.5 341.4,72.7 343.0,70.6 344.5,69.1 346.1,70.0 347.6,70.4 349.1,72.7 350.7,73.9 352.2,74.2 353.8,74.7 355.3,74.8 356.8,73.7 358.4,72.6 359.9,71.2 361.5,71.4 363.0,69.1 364.6,71.3 366.1,70.2 367.6,62.3 369.2,62.9 370.7,63.8 372.3,63.6 373.8,67.0 375.4,66.2 376.9,65.4 378.4,64.0 380.0,65.5 381.5,65.3 383.1,66.0 384.6,67.1 386.2,68.2 387.7,67.9 389.2,69.1 390.8,66.6 392.3,68.0 393.9,66.7 395.4,68.9 397.0,68.5 398.5,68.7 400.0,69.1 401.6,69.6 403.1,69.3 404.7,72.6 406.2,75.7 407.8,74.8 409.3,74.5 410.8,74.1 412.4,74.1 413.9,58.2 415.5,59.0 417.0,61.6 418.5,63.0 420.1,62.9 421.6,63.4 423.2,63.5 424.7,65.5 426.3,66.1 427.8,67.0 429.3,68.8 430.9,68.6 432.4,70.4 434.0,61.2 435.5,63.0 437.1,63.1 438.6,63.7" stroke="#ee5050" stroke-opacity="0.26" stroke-width="0.7"/>
<polyline points="253.5,81.8 255.0,81.3 256.6,80.2 258.1,79.3 259.7,79.6 261.2,81.5 262.8,82.2 264.3,81.7 265.8,82.3 267.4,81.5 268.9,80.1 270.5,78.4 272.0,78.5 273.6,76.9 275.1,76.9 276.6,78.5 278.2,81.4 279.7,80.9 281.3,78.2 282.8,78.5 284.4,80.2 285.9,80.2 287.4,92.9 289.0,93.1 290.5,79.3 292.1,79.9 293.6,81.8 295.1,80.2 296.7,80.1 298.2,80.6 299.8,81.0 301.3,78.9 302.9,79.8 304.4,79.3 305.9,79.5 307.5,78.0 309.0,75.6 310.6,68.6 312.1,69.8 313.7,67.9 315.2,69.2 316.7,70.9 318.3,70.6 319.8,69.2 321.4,68.9 322.9,67.4 324.5,68.3 326.0,67.5 327.5,68.7 329.1,69.5 330.6,70.2 332.2,70.8 333.7,69.9 335.3,68.3 336.8,69.2 338.3,70.5 339.9,71.1 341.4,72.3 343.0,71.4 344.5,72.0 346.1,71.8 347.6,71.6 349.1,71.5 350.7,72.2 352.2,63.4 353.8,63.9 355.3,62.9 356.8,63.8 358.4,64.0 359.9,58.4 361.5,57.1 363.0,58.3 364.6,60.0 366.1,60.1 367.6,61.4 369.2,61.6 370.7,62.3 372.3,63.3 373.8,64.1 375.4,63.6 376.9,63.5 378.4,63.9 380.0,65.5 381.5,66.5 383.1,65.5 384.6,64.0 386.2,61.8 387.7,62.4 389.2,64.1 390.8,65.8 392.3,66.8 393.9,65.2 395.4,64.8 397.0,66.6 398.5,66.9 400.0,68.8 401.6,71.5 403.1,72.8 404.7,71.8 406.2,69.7 407.8,69.4 409.3,68.2 410.8,68.0 412.4,67.4 413.9,67.7 415.5,67.6 417.0,70.6 418.5,71.5 420.1,69.6 421.6,70.7 423.2,72.6 424.7,71.3 426.3,75.5 427.8,76.6 429.3,76.3 430.9,86.7 432.4,84.5 434.0,82.6 435.5,82.1 437.1,81.7 438.6,80.2" stroke="#ee5050" stroke-opacity="0.26" stroke-width="0.7"/>
<polyline points="253.5,78.9 255.0,80.4 256.6,79.4 258.1,77.8 259.7,76.2 261.2,75.9 262.8,75.8 264.3,76.0 265.8,91.4 267.4,90.7 268.9,89.7 270.5,90.8 272.0,91.3 273.6,93.0 275.1,90.4 276.6,92.2 278.2,89.4 279.7,88.9 281.3,88.8 282.8,87.1 284.4,86.8 285.9,86.7 287.4,86.2 289.0,86.0 290.5,84.9 292.1,84.6 293.6,83.6 295.1,81.5 296.7,80.6 298.2,81.5 299.8,80.8 301.3,79.3 302.9,77.5 304.4,80.1 305.9,79.8 307.5,80.8 309.0,82.1 310.6,82.5 312.1,83.1 313.7,80.3 315.2,79.5 316.7,80.1 318.3,81.6 319.8,80.9 321.4,80.4 322.9,79.4 324.5,79.5 326.0,79.5 327.5,79.5 329.1,78.0 330.6,72.8 332.2,71.6 333.7,74.3 335.3,73.7 336.8,73.4 338.3,73.4 339.9,73.3 341.4,75.2 343.0,74.5 344.5,77.5 346.1,63.0 347.6,62.1 349.1,64.5 350.7,65.2 352.2,66.1 353.8,66.4 355.3,52.8 356.8,55.8 358.4,53.2 359.9,55.8 361.5,56.9 363.0,56.0 364.6,57.2 366.1,58.5 367.6,57.5 369.2,60.3 370.7,61.7 372.3,63.5 373.8,48.8 375.4,50.4 376.9,47.2 378.4,49.9 380.0,51.5 381.5,50.3 383.1,51.0 384.6,52.0 386.2,52.2 387.7,54.2 389.2,55.3 390.8,57.8 392.3,58.3 393.9,59.9 395.4,58.9 397.0,58.9 398.5,60.2 400.0,60.4 401.6,60.8 403.1,59.3 404.7,59.6 406.2,58.8 407.8,61.8 409.3,60.6 410.8,61.1 412.4,61.2 413.9,62.0 415.5,63.0 417.0,61.5 418.5,62.2 420.1,66.2 421.6,68.2 423.2,67.0 424.7,66.1 426.3,64.7 427.8,63.1 429.3,65.4 430.9,77.3 432.4,76.9 434.0,75.1 435.5,75.4 437.1,60.8 438.6,60.2" stroke="#ee5050" stroke-opacity="0.26" stroke-width="0.7"/>
<polyline points="253.5,94.4 255.0,94.1 256.6,94.1 258.1,95.2 259.7,95.7 261.2,94.6 262.8,93.3 264.3,91.9 265.8,91.2 267.4,90.7 268.9,76.8 270.5,77.5 272.0,80.1 273.6,78.8 275.1,80.4 276.6,80.4 278.2,77.9 279.7,77.7 281.3,77.0 282.8,76.1 284.4,76.5 285.9,75.8 287.4,76.7 289.0,74.6 290.5,75.4 292.1,73.6 293.6,74.0 295.1,89.9 296.7,89.6 298.2,88.2 299.8,87.2 301.3,87.5 302.9,88.0 304.4,88.6 305.9,86.4 307.5,84.3 309.0,84.2 310.6,84.3 312.1,81.0 313.7,81.6 315.2,80.9 316.7,80.4 318.3,80.5 319.8,80.6 321.4,81.9 322.9,83.9 324.5,84.0 326.0,84.9 327.5,84.5 329.1,87.1 330.6,86.6 332.2,87.1 333.7,87.5 335.3,86.2 336.8,86.6 338.3,85.0 339.9,84.9 341.4,85.1 343.0,83.9 344.5,86.0 346.1,86.8 347.6,86.5 349.1,84.7 350.7,85.3 352.2,83.4 353.8,85.2 355.3,85.8 356.8,72.8 358.4,70.6 359.9,71.8 361.5,72.0 363.0,72.0 364.6,73.4 366.1,77.1 367.6,77.2 369.2,77.1 370.7,78.6 372.3,78.4 373.8,76.7 375.4,74.0 376.9,74.9 378.4,76.9 380.0,65.7 381.5,65.9 383.1,66.9 384.6,67.0 386.2,59.6 387.7,60.6 389.2,59.4 390.8,60.5 392.3,62.5 393.9,62.0 395.4,61.6 397.0,62.1 398.5,64.0 400.0,64.2 401.6,66.6 403.1,67.7 404.7,67.4 406.2,69.2 407.8,68.9 409.3,68.9 410.8,67.9 412.4,59.6 413.9,59.9 415.5,62.0 417.0,63.4 418.5,62.0 420.1,62.5 421.6,63.1 423.2,64.5 424.7,67.7 426.3,66.4 427.8,65.5 429.3,65.0 430.9,66.2 432.4,67.1 434.0,66.2 435.5,64.5 437.1,66.3 438.6,65.0" stroke="#ee5050" stroke-opacity="0.26" stroke-width="0.7"/>
<polyline points="253.5,84.6 255.0,83.4 256.6,82.7 258.1,83.5 259.7,83.0 261.2,86.2 262.8,87.0 264.3,89.0 265.8,90.4 267.4,92.0 268.9,92.2 270.5,90.7 272.0,89.7 273.6,89.0 275.1,90.1 276.6,89.7 278.2,87.5 279.7,87.6 281.3,88.3 282.8,88.8 284.4,88.3 285.9,86.4 287.4,89.3 289.0,92.8 290.5,85.4 292.1,87.5 293.6,88.1 295.1,86.4 296.7,84.3 298.2,82.1 299.8,81.9 301.3,80.4 302.9,78.9 304.4,88.7 305.9,87.0 307.5,85.8 309.0,86.4 310.6,84.0 312.1,86.0 313.7,84.5 315.2,81.9 316.7,80.4 318.3,81.2 319.8,81.2 321.4,81.2 322.9,81.6 324.5,82.4 326.0,84.9 327.5,86.9 329.1,89.5 330.6,87.1 332.2,87.1 333.7,86.8 335.3,87.2 336.8,85.9 338.3,85.6 339.9,85.6 341.4,86.8 343.0,85.8 344.5,83.4 346.1,84.1 347.6,84.2 349.1,84.7 350.7,86.7 352.2,86.1 353.8,72.4 355.3,73.3 356.8,73.4 358.4,72.7 359.9,71.6 361.5,71.8 363.0,73.6 364.6,75.1 366.1,73.1 367.6,71.6 369.2,72.8 370.7,84.2 372.3,83.5 373.8,82.7 375.4,85.6 376.9,83.9 378.4,81.7 380.0,84.1 381.5,85.2 383.1,85.1 384.6,81.4 386.2,65.5 387.7,65.9 389.2,67.4 390.8,69.3 392.3,71.1 393.9,73.2 395.4,72.8 397.0,75.3 398.5,74.3 400.0,73.3 401.6,74.8 403.1,75.2 404.7,76.5 406.2,74.4 407.8,73.6 409.3,76.0 410.8,75.6 412.4,75.1 413.9,75.1 415.5,76.5 417.0,76.3 418.5,78.4 420.1,79.9 421.6,78.9 423.2,79.5 424.7,78.7 426.3,81.2 427.8,82.1 429.3,80.2 430.9,81.9 432.4,81.0 434.0,72.2 435.5,74.7 437.1,77.3 438.6,88.5" stroke="#ee5050" stroke-opacity="0.26" stroke-width="0.7"/>
<polyline points="253.5,89.7 255.0,89.8 256.6,87.0 258.1,88.4 259.7,88.8 261.2,89.0 262.8,87.4 264.3,87.8 265.8,86.1 267.4,85.7 268.9,83.4 270.5,82.0 272.0,80.7 273.6,79.6 275.1,80.6 276.6,80.3 278.2,80.1 279.7,82.2 281.3,80.5 282.8,78.4 284.4,77.9 285.9,76.6 287.4,76.7 289.0,76.8 290.5,76.5 292.1,68.8 293.6,68.8 295.1,66.7 296.7,64.6 298.2,65.2 299.8,79.0 301.3,77.1 302.9,78.2 304.4,79.8 305.9,68.9 307.5,70.9 309.0,71.5 310.6,60.6 312.1,62.3 313.7,61.0 315.2,61.8 316.7,63.2 318.3,65.9 319.8,66.3 321.4,67.6 322.9,66.9 324.5,64.8 326.0,65.1 327.5,67.6 329.1,68.0 330.6,68.4 332.2,70.0 333.7,69.9 335.3,70.4 336.8,69.4 338.3,68.0 339.9,69.6 341.4,71.0 343.0,73.0 344.5,72.7 346.1,72.6 347.6,72.6 349.1,73.3 350.7,74.7 352.2,61.5 353.8,64.6 355.3,65.0 356.8,66.1 358.4,67.8 359.9,68.4 361.5,68.7 363.0,69.9 364.6,70.6 366.1,71.3 367.6,71.8 369.2,73.0 370.7,73.9 372.3,74.9 373.8,74.5 375.4,73.5 376.9,73.9 378.4,74.1 380.0,77.7 381.5,78.3 383.1,79.2 384.6,79.6 386.2,82.7 387.7,74.5 389.2,72.2 390.8,71.9 392.3,73.7 393.9,76.4 395.4,78.1 397.0,77.7 398.5,79.5 400.0,81.2 401.6,81.2 403.1,80.4 404.7,80.2 406.2,83.6 407.8,83.8 409.3,67.1 410.8,70.9 412.4,69.9 413.9,71.3 415.5,71.5 417.0,72.5 418.5,72.9 420.1,72.0 421.6,73.2 423.2,57.7 424.7,57.7 426.3,61.8 427.8,60.7 429.3,61.6 430.9,60.5 432.4,50.7 434.0,51.2 435.5,51.6 437.1,51.0 438.6,51.5" stroke="#ee5050" stroke-opacity="0.26" stroke-width="0.7"/>
<polyline points="253.5,77.7 255.0,76.9 256.6,77.3 258.1,75.6 259.7,74.7 261.2,72.4 262.8,73.6 264.3,73.8 265.8,72.7 267.4,73.4 268.9,71.6 270.5,71.0 272.0,72.8 273.6,70.2 275.1,70.4 276.6,54.4 278.2,55.1 279.7,55.6 281.3,58.5 282.8,59.4 284.4,60.3 285.9,64.1 287.4,68.2 289.0,67.7 290.5,68.3 292.1,70.1 293.6,70.8 295.1,70.2 296.7,69.8 298.2,70.9 299.8,74.9 301.3,75.2 302.9,78.0 304.4,70.8 305.9,69.6 307.5,70.6 309.0,72.3 310.6,73.8 312.1,72.2 313.7,74.5 315.2,76.5 316.7,75.6 318.3,75.2 319.8,75.2 321.4,61.9 322.9,62.6 324.5,62.4 326.0,61.2 327.5,61.7 329.1,64.2 330.6,65.9 332.2,65.5 333.7,67.9 335.3,70.6 336.8,71.6 338.3,73.3 339.9,71.4 341.4,72.8 343.0,73.5 344.5,75.1 346.1,72.1 347.6,71.1 349.1,71.9 350.7,72.3 352.2,74.2 353.8,73.6 355.3,73.7 356.8,56.1 358.4,59.3 359.9,60.4 361.5,62.8 363.0,63.9 364.6,65.7 366.1,66.8 367.6,67.2 369.2,68.1 370.7,67.8 372.3,68.0 373.8,67.9 375.4,67.9 376.9,69.0 378.4,70.2 380.0,72.1 381.5,73.4 383.1,73.8 384.6,75.5 386.2,75.6 387.7,76.8 389.2,74.6 390.8,76.7 392.3,75.3 393.9,79.6 395.4,82.1 397.0,80.2 398.5,66.7 400.0,67.5 401.6,65.4 403.1,66.4 404.7,66.0 406.2,68.9 407.8,70.5 409.3,69.4 410.8,70.2 412.4,69.9 413.9,68.8 415.5,78.9 417.0,81.6 418.5,78.3 420.1,79.0 421.6,67.8 423.2,68.5 424.7,68.2 426.3,67.3 427.8,68.8 429.3,68.8 430.9,69.0 432.4,69.8 434.0,69.0 435.5,69.6 437.1,70.3 438.6,71.6" stroke="#ee5050" stroke-opacity="0.26" stroke-width="0.7"/>
<polyline points="253.5,78.9 255.0,79.1 256.6,79.5 258.1,80.4 259.7,79.4 261.2,60.1 262.8,59.0 264.3,63.4 265.8,64.5 267.4,65.8 268.9,64.1 270.5,53.3 272.0,55.2 273.6,59.1 275.1,60.6 276.6,62.4 278.2,61.6 279.7,60.5 281.3,61.0 282.8,60.5 284.4,60.3 285.9,60.5 287.4,61.6 289.0,64.2 290.5,65.3 292.1,66.4 293.6,66.4 295.1,66.2 296.7,63.0 298.2,53.4 299.8,56.1 301.3,58.9 302.9,58.8 304.4,59.3 305.9,60.2 307.5,58.1 309.0,60.2 310.6,61.7 312.1,58.2 313.7,58.0 315.2,59.4 316.7,60.6 318.3,64.4 319.8,72.8 321.4,62.1 322.9,60.3 324.5,60.5 326.0,61.3 327.5,61.8 329.1,63.4 330.6,63.7 332.2,64.1 333.7,62.9 335.3,61.5 336.8,61.4 338.3,60.3 339.9,58.8 341.4,58.7 343.0,53.2 344.5,52.6 346.1,54.4 347.6,55.7 349.1,57.6 350.7,58.2 352.2,59.3 353.8,62.4 355.3,75.8 356.8,75.6 358.4,77.8 359.9,78.2 361.5,77.7 363.0,77.6 364.6,77.6 366.1,77.1 367.6,76.3 369.2,75.9 370.7,78.2 372.3,76.3 373.8,75.5 375.4,75.1 376.9,74.3 378.4,75.7 380.0,75.1 381.5,74.4 383.1,75.6 384.6,74.2 386.2,75.0 387.7,76.2 389.2,75.5 390.8,77.4 392.3,77.0 393.9,77.4 395.4,67.8 397.0,67.8 398.5,68.9 400.0,68.3 401.6,69.7 403.1,69.0 404.7,54.3 406.2,55.0 407.8,56.5 409.3,58.6 410.8,58.8 412.4,68.9 413.9,68.3 415.5,68.1 417.0,70.9 418.5,69.6 420.1,70.9 421.6,70.9 423.2,70.1 424.7,71.2 426.3,74.0 427.8,65.4 429.3,63.8 430.9,63.8 432.4,65.7 434.0,63.1 435.5,66.2 437.1,65.6 438.6,64.9" stroke="#ee5050" stroke-opacity="0.26" stroke-width="0.7"/>
<polyline points="253.5,79.4 255.0,79.3 256.6,63.1 258.1,64.1 259.7,65.1 261.2,66.6 262.8,68.9 264.3,70.3 265.8,58.9 267.4,61.3 268.9,62.7 270.5,65.0 272.0,68.0 273.6,69.2 275.1,69.8 276.6,71.8 278.2,71.1 279.7,71.7 281.3,71.9 282.8,73.3 284.4,72.2 285.9,71.1 287.4,72.8 289.0,72.2 290.5,73.9 292.1,74.3 293.6,75.4 295.1,76.3 296.7,76.0 298.2,75.9 299.8,75.3 301.3,64.7 302.9,50.2 304.4,50.7 305.9,52.2 307.5,45.7 309.0,48.3 310.6,49.3 312.1,49.3 313.7,52.3 315.2,52.4 316.7,64.7 318.3,64.1 319.8,65.7 321.4,68.6 322.9,68.0 324.5,69.5 326.0,68.3 327.5,69.4 329.1,70.8 330.6,72.2 332.2,71.2 333.7,73.3 335.3,74.4 336.8,75.9 338.3,76.5 339.9,77.3 341.4,79.0 343.0,78.9 344.5,79.6 346.1,78.6 347.6,79.4 349.1,78.9 350.7,79.1 352.2,79.2 353.8,76.0 355.3,77.4 356.8,80.7 358.4,80.6 359.9,80.2 361.5,79.8 363.0,80.2 364.6,79.2 366.1,80.5 367.6,69.7 369.2,73.2 370.7,66.1 372.3,52.7 373.8,54.6 375.4,56.9 376.9,58.0 378.4,58.6 380.0,60.0 381.5,51.3 383.1,55.4 384.6,56.3 386.2,56.9 387.7,59.6 389.2,60.4 390.8,63.4 392.3,66.3 393.9,67.0 395.4,70.1 397.0,70.0 398.5,71.6 400.0,70.1 401.6,72.7 403.1,73.4 404.7,72.3 406.2,70.8 407.8,73.1 409.3,72.9 410.8,72.8 412.4,71.9 413.9,74.0 415.5,68.0 417.0,68.7 418.5,71.2 420.1,72.1 421.6,71.7 423.2,74.7 424.7,75.5 426.3,60.0 427.8,62.1 429.3,53.6 430.9,54.9 432.4,57.2 434.0,56.8 435.5,55.8 437.1,57.3 438.6,57.1" stroke="#ee5050" stroke-opacity="0.26" stroke-width="0.7"/>
<polyline points="253.5,77.2 255.0,77.9 256.6,76.6 258.1,75.6 259.7,75.7 261.2,77.6 262.8,77.7 264.3,75.9 265.8,79.5 267.4,80.0 268.9,80.2 270.5,80.9 272.0,82.3 273.6,81.1 275.1,78.5 276.6,77.9 278.2,78.1 279.7,77.9 281.3,77.8 282.8,76.1 284.4,74.0 285.9,73.9 287.4,73.6 289.0,73.2 290.5,73.8 292.1,72.5 293.6,73.4 295.1,72.6 296.7,72.7 298.2,71.8 299.8,71.9 301.3,72.3 302.9,74.8 304.4,74.1 305.9,86.9 307.5,88.3 309.0,86.9 310.6,86.1 312.1,87.6 313.7,71.5 315.2,72.7 316.7,73.5 318.3,73.3 319.8,73.4 321.4,72.6 322.9,72.0 324.5,72.6 326.0,73.7 327.5,60.5 329.1,61.6 330.6,61.9 332.2,61.8 333.7,63.5 335.3,63.9 336.8,66.9 338.3,67.4 339.9,66.4 341.4,67.5 343.0,66.5 344.5,51.7 346.1,53.9 347.6,53.9 349.1,53.5 350.7,56.3 352.2,56.6 353.8,60.5 355.3,60.6 356.8,62.2 358.4,62.5 359.9,63.7 361.5,65.9 363.0,66.6 364.6,66.2 366.1,68.6 367.6,67.1 369.2,69.7 370.7,71.3 372.3,71.5 373.8,59.9 375.4,59.6 376.9,61.0 378.4,61.3 380.0,62.1 381.5,64.2 383.1,66.7 384.6,68.4 386.2,68.3 387.7,69.3 389.2,69.2 390.8,70.4 392.3,71.8 393.9,71.4 395.4,71.4 397.0,72.4 398.5,73.4 400.0,74.0 401.6,74.8 403.1,75.4 404.7,73.5 406.2,74.3 407.8,73.1 409.3,73.6 410.8,73.6 412.4,74.6 413.9,73.3 415.5,74.1 417.0,74.0 418.5,74.7 420.1,73.9 421.6,75.1 423.2,74.8 424.7,78.5 426.3,78.0 427.8,77.1 429.3,75.5 430.9,74.0 432.4,73.2 434.0,77.7 435.5,78.0 437.1,78.2 438.6,81.0" stroke="#ee5050" stroke-opacity="0.26" stroke-width="0.7"/>
<polyline points="253.5,78.5 255.0,78.8 256.6,80.6 258.1,81.9 259.7,80.7 261.2,81.7 262.8,82.3 264.3,83.9 265.8,82.1 267.4,82.1 268.9,80.2 270.5,80.5 272.0,79.5 273.6,80.1 275.1,79.4 276.6,80.6 278.2,80.1 279.7,79.4 281.3,79.1 282.8,81.2 284.4,81.2 285.9,82.2 287.4,81.3 289.0,80.5 290.5,79.5 292.1,80.2 293.6,79.0 295.1,79.9 296.7,81.0 298.2,78.0 299.8,76.5 301.3,78.0 302.9,78.0 304.4,79.2 305.9,77.7 307.5,75.7 309.0,79.1 310.6,79.5 312.1,79.5 313.7,78.2 315.2,78.9 316.7,79.5 318.3,79.9 319.8,80.2 321.4,80.4 322.9,81.1 324.5,82.0 326.0,81.8 327.5,82.1 329.1,82.9 330.6,82.4 332.2,82.6 333.7,81.0 335.3,81.0 336.8,80.1 338.3,78.4 339.9,79.0 341.4,78.8 343.0,76.0 344.5,77.8 346.1,77.2 347.6,78.8 349.1,77.7 350.7,76.7 352.2,74.5 353.8,71.1 355.3,71.1 356.8,71.9 358.4,73.0 359.9,74.7 361.5,75.8 363.0,76.1 364.6,76.4 366.1,78.8 367.6,79.2 369.2,77.5 370.7,77.5 372.3,78.2 373.8,79.4 375.4,82.2 376.9,82.3 378.4,82.8 380.0,82.5 381.5,81.7 383.1,82.4 384.6,83.5 386.2,83.1 387.7,80.8 389.2,81.7 390.8,80.0 392.3,80.4 393.9,79.8 395.4,63.9 397.0,65.4 398.5,66.8 400.0,70.6 401.6,61.0 403.1,63.9 404.7,64.5 406.2,63.6 407.8,65.1 409.3,64.8 410.8,66.6 412.4,67.7 413.9,69.7 415.5,57.5 417.0,58.3 418.5,60.5 420.1,63.9 421.6,63.2 423.2,62.9 424.7,63.4 426.3,64.1 427.8,62.2 429.3,61.6 430.9,62.9 432.4,47.7 434.0,47.3 435.5,49.5 437.1,51.5 438.6,53.1" stroke="#ee5050" stroke-opacity="0.26" stroke-width="0.7"/>
<polyline points="253.5,86.8 255.0,88.1 256.6,86.6 258.1,88.9 259.7,86.9 261.2,87.2 262.8,82.9 264.3,82.7 265.8,84.2 267.4,83.6 268.9,80.0 270.5,77.8 272.0,79.8 273.6,80.1 275.1,79.3 276.6,66.8 278.2,67.9 279.7,68.4 281.3,69.0 282.8,68.9 284.4,70.3 285.9,72.1 287.4,72.1 289.0,73.0 290.5,76.9 292.1,79.1 293.6,78.0 295.1,79.3 296.7,94.8 298.2,94.7 299.8,95.3 301.3,94.8 302.9,95.4 304.4,95.4 305.9,93.8 307.5,90.6 309.0,89.1 310.6,89.4 312.1,88.0 313.7,84.5 315.2,83.4 316.7,84.2 318.3,85.4 319.8,85.2 321.4,84.7 322.9,83.7 324.5,84.7 326.0,86.5 327.5,86.0 329.1,87.7 330.6,88.4 332.2,87.7 333.7,86.7 335.3,84.4 336.8,86.4 338.3,86.1 339.9,84.0 341.4,83.8 343.0,83.5 344.5,83.0 346.1,84.2 347.6,82.0 349.1,82.9 350.7,78.6 352.2,78.4 353.8,80.1 355.3,79.5 356.8,79.5 358.4,80.0 359.9,80.3 361.5,81.6 363.0,82.5 364.6,82.8 366.1,83.3 367.6,83.0 369.2,82.5 370.7,81.9 372.3,82.7 373.8,83.9 375.4,85.2 376.9,83.5 378.4,83.8 380.0,83.3 381.5,82.2 383.1,81.9 384.6,82.0 386.2,82.9 387.7,82.2 389.2,82.3 390.8,82.2 392.3,80.3 393.9,80.7 395.4,80.2 397.0,78.6 398.5,61.6 400.0,64.3 401.6,49.0 403.1,50.9 404.7,55.1 406.2,56.0 407.8,56.4 409.3,57.9 410.8,58.5 412.4,59.9 413.9,58.3 415.5,59.0 417.0,59.2 418.5,60.0 420.1,62.6 421.6,62.5 423.2,64.1 424.7,63.6 426.3,64.4 427.8,65.1 429.3,66.3 430.9,67.7 432.4,68.6 434.0,68.6 435.5,68.0 437.1,68.5 438.6,67.1" stroke="#ee5050" stroke-opacity="0.26" stroke-width="0.7"/>
<polyline points="253.5,68.3 255.0,69.1 256.6,70.7 258.1,71.1 259.7,70.5 261.2,57.5 262.8,57.3 264.3,59.6 265.8,61.7 267.4,60.7 268.9,62.3 270.5,63.0 272.0,64.6 273.6,65.8 275.1,65.3 276.6,66.5 278.2,67.9 279.7,68.5 281.3,67.7 282.8,58.8 284.4,59.3 285.9,61.3 287.4,59.8 289.0,58.9 290.5,61.3 292.1,61.8 293.6,60.8 295.1,59.2 296.7,59.8 298.2,59.9 299.8,58.7 301.3,57.4 302.9,57.9 304.4,56.8 305.9,58.5 307.5,58.6 309.0,58.5 310.6,59.4 312.1,58.4 313.7,60.0 315.2,59.1 316.7,59.5 318.3,63.2 319.8,64.1 321.4,62.8 322.9,64.6 324.5,68.3 326.0,68.2 327.5,72.4 329.1,71.3 330.6,71.2 332.2,70.8 333.7,69.7 335.3,55.0 336.8,59.9 338.3,61.7 339.9,60.8 341.4,63.0 343.0,63.1 344.5,63.8 346.1,65.1 347.6,66.0 349.1,66.5 350.7,67.0 352.2,66.3 353.8,66.3 355.3,67.6 356.8,61.2 358.4,64.5 359.9,62.4 361.5,63.6 363.0,62.5 364.6,62.6 366.1,63.4 367.6,62.9 369.2,63.0 370.7,62.8 372.3,61.3 373.8,62.8 375.4,62.9 376.9,63.0 378.4,65.0 380.0,72.6 381.5,70.8 383.1,72.7 384.6,70.7 386.2,70.6 387.7,72.0 389.2,71.2 390.8,72.1 392.3,71.3 393.9,73.1 395.4,75.0 397.0,75.9 398.5,73.1 400.0,72.1 401.6,74.3 403.1,72.2 404.7,85.6 406.2,86.5 407.8,84.3 409.3,84.0 410.8,84.3 412.4,83.7 413.9,83.0 415.5,83.8 417.0,85.0 418.5,86.1 420.1,86.6 421.6,85.2 423.2,85.0 424.7,84.1 426.3,85.1 427.8,83.4 429.3,79.2 430.9,62.4 432.4,64.3 434.0,65.2 435.5,64.1 437.1,49.3 438.6,49.2" stroke="#ee5050" stroke-opacity="0.26" stroke-width="0.7"/>
<polyline points="253.5,77.4 255.0,79.3 256.6,80.6 258.1,80.6 259.7,78.2 261.2,77.8 262.8,77.3 264.3,75.8 265.8,74.5 267.4,74.0 268.9,73.0 270.5,71.1 272.0,73.2 273.6,73.7 275.1,73.2 276.6,74.6 278.2,74.0 279.7,73.6 281.3,76.3 282.8,75.1 284.4,75.8 285.9,62.6 287.4,63.4 289.0,63.6 290.5,63.2 292.1,64.1 293.6,64.4 295.1,65.8 296.7,67.2 298.2,67.4 299.8,69.4 301.3,86.4 302.9,84.6 304.4,84.8 305.9,85.1 307.5,84.7 309.0,83.8 310.6,85.1 312.1,85.7 313.7,86.9 315.2,86.9 316.7,87.6 318.3,89.6 319.8,87.8 321.4,87.5 322.9,87.7 324.5,85.7 326.0,83.9 327.5,84.6 329.1,86.6 330.6,87.5 332.2,87.6 333.7,86.6 335.3,87.4 336.8,87.9 338.3,87.2 339.9,87.2 341.4,85.5 343.0,85.2 344.5,84.4 346.1,82.1 347.6,82.4 349.1,83.4 350.7,83.5 352.2,89.8 353.8,78.2 355.3,80.7 356.8,80.6 358.4,83.3 359.9,82.1 361.5,70.2 363.0,69.3 364.6,71.4 366.1,70.8 367.6,70.1 369.2,71.6 370.7,69.2 372.3,69.4 373.8,71.8 375.4,70.5 376.9,54.8 378.4,56.3 380.0,73.5 381.5,75.1 383.1,75.0 384.6,73.7 386.2,73.0 387.7,73.4 389.2,75.6 390.8,75.1 392.3,76.4 393.9,76.9 395.4,63.7 397.0,64.2 398.5,63.5 400.0,63.9 401.6,54.6 403.1,57.0 404.7,55.6 406.2,57.3 407.8,59.1 409.3,60.4 410.8,60.5 412.4,61.5 413.9,61.3 415.5,60.3 417.0,46.9 418.5,46.5 420.1,48.2 421.6,51.3 423.2,51.8 424.7,52.8 426.3,52.5 427.8,53.1 429.3,57.4 430.9,57.6 432.4,58.2 434.0,58.5 435.5,59.4 437.1,60.6 438.6,61.8" stroke="#ee5050" stroke-opacity="0.26" stroke-width="0.7"/>
<polyline points="253.5,79.1 255.0,76.9 256.6,77.1 258.1,74.8 259.7,74.4 261.2,74.0 262.8,72.5 264.3,72.7 265.8,73.5 267.4,72.4 268.9,72.2 270.5,71.6 272.0,71.9 273.6,71.1 275.1,73.3 276.6,74.5 278.2,74.0 279.7,75.3 281.3,76.7 282.8,79.3 284.4,76.6 285.9,77.5 287.4,78.2 289.0,62.1 290.5,64.5 292.1,64.1 293.6,65.8 295.1,68.9 296.7,70.6 298.2,70.5 299.8,73.6 301.3,75.3 302.9,74.6 304.4,71.8 305.9,70.6 307.5,72.4 309.0,71.6 310.6,62.8 312.1,60.9 313.7,61.5 315.2,61.9 316.7,62.6 318.3,63.7 319.8,65.8 321.4,66.0 322.9,68.4 324.5,68.5 326.0,67.1 327.5,67.0 329.1,67.5 330.6,70.9 332.2,71.5 333.7,71.7 335.3,72.0 336.8,72.0 338.3,72.0 339.9,73.2 341.4,72.2 343.0,74.0 344.5,73.7 346.1,82.9 347.6,82.5 349.1,80.1 350.7,80.8 352.2,78.6 353.8,69.1 355.3,70.7 356.8,69.7 358.4,59.0 359.9,60.2 361.5,63.1 363.0,62.1 364.6,62.3 366.1,62.5 367.6,65.6 369.2,62.1 370.7,62.3 372.3,63.3 373.8,63.2 375.4,64.8 376.9,64.4 378.4,65.3 380.0,65.4 381.5,66.6 383.1,67.9 384.6,67.8 386.2,67.7 387.7,68.8 389.2,68.3 390.8,70.6 392.3,70.4 393.9,71.3 395.4,72.2 397.0,71.9 398.5,74.6 400.0,74.7 401.6,75.9 403.1,75.1 404.7,76.4 406.2,74.5 407.8,74.2 409.3,59.4 410.8,60.8 412.4,63.8 413.9,65.7 415.5,66.1 417.0,68.2 418.5,67.9 420.1,67.8 421.6,68.0 423.2,69.2 424.7,71.6 426.3,72.3 427.8,74.8 429.3,77.5 430.9,73.6 432.4,72.8 434.0,72.5 435.5,72.6 437.1,72.4 438.6,73.3" stroke="#ee5050" stroke-opacity="0.26" stroke-width="0.7"/>
<polyline points="253.5,79.6 255.0,79.3 256.6,80.5 258.1,81.1 259.7,78.1 261.2,79.3 262.8,79.1 264.3,82.4 265.8,81.8 267.4,82.3 268.9,82.5 270.5,80.7 272.0,95.1 273.6,92.7 275.1,93.1 276.6,88.5 278.2,80.1 279.7,80.1 281.3,78.9 282.8,80.2 284.4,80.2 285.9,77.8 287.4,78.4 289.0,76.8 290.5,77.1 292.1,77.5 293.6,68.0 295.1,67.3 296.7,68.0 298.2,53.8 299.8,50.5 301.3,51.8 302.9,55.1 304.4,54.2 305.9,46.5 307.5,46.3 309.0,46.7 310.6,47.9 312.1,50.1 313.7,51.5 315.2,52.0 316.7,52.3 318.3,51.6 319.8,51.0 321.4,53.4 322.9,54.9 324.5,55.4 326.0,56.3 327.5,61.4 329.1,66.1 330.6,67.3 332.2,68.3 333.7,69.1 335.3,67.6 336.8,70.5 338.3,68.0 339.9,68.2 341.4,70.6 343.0,69.9 344.5,59.6 346.1,59.0 347.6,58.9 349.1,59.5 350.7,60.2 352.2,60.9 353.8,64.9 355.3,65.5 356.8,65.6 358.4,64.8 359.9,66.3 361.5,68.1 363.0,63.4 364.6,61.6 366.1,62.3 367.6,77.7 369.2,79.1 370.7,79.2 372.3,78.8 373.8,79.7 375.4,79.1 376.9,78.9 378.4,78.9 380.0,77.7 381.5,79.4 383.1,79.9 384.6,81.7 386.2,82.3 387.7,83.4 389.2,83.7 390.8,84.1 392.3,86.3 393.9,83.2 395.4,83.4 397.0,83.2 398.5,82.9 400.0,82.8 401.6,81.6 403.1,81.3 404.7,79.9 406.2,80.7 407.8,82.0 409.3,81.8 410.8,79.6 412.4,79.4 413.9,78.3 415.5,77.5 417.0,78.6 418.5,79.9 420.1,80.3 421.6,80.1 423.2,79.3 424.7,78.5 426.3,79.2 427.8,80.8 429.3,79.4 430.9,80.5 432.4,80.0 434.0,76.6 435.5,75.6 437.1,76.1 438.6,75.5" stroke="#ee5050" stroke-opacity="0.26" stroke-width="0.7"/>
<polyline points="253.5,72.2 254.3,76.5 255.0,72.7 255.8,73.4 256.6,72.1 257.4,72.8 258.1,71.4 258.9,72.9 259.7,73.2 260.4,72.1 261.2,72.1 262.0,72.6 262.8,72.4 263.5,71.4 264.3,71.2 265.1,72.2 265.8,71.9 266.6,73.1 267.4,69.8 268.2,71.4 268.9,69.8 269.7,70.5 270.5,69.0 271.2,69.2 272.0,70.2 272.8,69.0 273.6,71.0 274.3,68.9 275.1,71.2 275.9,69.4 276.6,68.6 277.4,69.3 278.1,69.7 278.2,70.1 279.0,69.2 279.7,67.4 280.5,67.1 281.3,67.6 282.0,68.0 282.8,65.8 283.6,67.2 284.4,65.9 285.1,65.6 285.9,63.8 286.7,63.7 287.4,63.1 288.2,62.7 288.9,63.2 289.0,62.0 289.0,61.2 289.7,45.5 290.4,30.5 290.5,28.5 290.5,27.4 291.3,28.9 292.1,29.8 292.8,31.5 293.5,31.2 293.6,33.2 294.4,35.5 295.1,38.0 295.9,39.2 296.7,42.6 297.5,44.9 298.1,45.5 298.2,45.5 298.2,46.0 299.0,49.8 299.8,49.0 300.5,49.8 301.3,50.7 302.1,50.7 302.7,49.3 302.9,51.4 303.6,52.4 304.4,51.6 305.2,52.8 305.9,53.3 306.7,54.6 307.5,54.5 308.3,54.7 309.0,57.4 309.8,57.7 310.6,55.8 311.3,56.6 312.1,58.4 312.9,59.4 313.7,59.3 314.4,60.7 315.1,60.4 315.2,58.7 316.0,60.5 316.7,59.9 317.5,61.6 318.3,61.4 319.1,60.9 319.8,63.7 320.6,63.2 321.4,63.4 322.1,63.4 322.9,62.6 323.7,63.8 324.5,66.1 325.2,65.4 326.0,66.3 326.8,66.8 327.5,64.4 328.3,67.6 329.1,66.8 329.9,68.1 330.6,67.0 331.4,67.9 332.2,68.5 332.9,69.0 333.6,68.2 333.7,70.2 334.5,70.2 335.3,70.7 336.0,68.7 336.8,70.4 337.6,71.2 338.3,70.8 339.1,68.4 339.9,70.9 340.7,70.3 341.4,70.8 342.2,71.4 343.0,72.2 343.7,72.1 344.5,72.3 345.3,74.2 346.1,70.0 346.8,71.7 347.6,72.6 348.4,73.1 349.1,73.8 349.9,72.4 350.7,73.7 351.4,73.3 352.1,75.1 352.2,73.5 353.0,71.9 353.8,73.9 354.5,72.7 355.3,73.3 356.1,72.2 356.8,72.1 357.6,72.8 358.4,73.3 359.2,72.3 359.9,72.4 360.7,72.9 361.5,71.8 362.2,71.6 363.0,72.7 363.8,71.8 364.6,68.9 365.3,70.7 366.1,71.2 366.9,68.9 367.6,71.4 368.4,73.1 369.2,72.5 370.0,72.0 370.7,70.2 371.5,69.4 372.3,72.2 373.0,69.0 373.8,71.0 374.6,69.5 375.4,69.2 376.1,69.1 376.8,69.3 376.9,69.2 377.7,70.3 378.4,68.8 379.2,68.1 380.0,68.0 380.8,66.4 381.5,67.7 382.3,67.9 383.1,66.9 383.8,68.1 384.6,69.4 385.4,70.1 386.2,66.8 386.9,67.3 387.7,67.0 388.5,67.9 389.2,67.2 390.0,65.7 390.8,67.0 391.6,68.2 392.3,67.4 393.1,65.7 393.9,67.8 394.6,69.1 395.4,68.7 396.2,67.7 397.0,65.6 397.7,66.2 398.5,66.8 399.3,67.2 400.0,66.0 400.8,65.9 401.6,66.2 402.4,65.8 403.1,66.2 403.9,63.7 404.7,67.4 405.4,65.0 406.2,65.9 407.0,64.2 407.6,65.0 407.8,64.4 408.5,64.4 409.3,64.8 410.1,64.2 410.8,66.5 411.6,64.5 412.4,65.7 413.1,65.2 413.9,64.3 414.7,64.8 415.5,64.1 416.2,68.1 417.0,67.0 417.8,65.4 418.5,67.4 419.3,66.6 420.1,65.0 420.9,65.9 421.6,67.7 422.4,66.5 423.2,66.5 423.9,67.1 424.7,67.4 425.5,67.3 426.3,68.9 427.0,67.5 427.8,68.6 428.6,67.5 429.3,67.6 430.1,68.9 430.9,67.6 431.7,68.0 432.4,68.5 433.2,67.9 434.0,68.9 434.7,69.0 435.5,68.8 436.3,69.0 437.1,68.1 437.8,71.4 438.5,69.6 438.6,71.2" stroke="#f26b6b" stroke-opacity="0.22" stroke-width="0.7"/>
<polyline points="253.5,63.1 254.3,67.5 255.0,63.7 255.8,64.4 256.6,63.1 257.4,63.9 258.1,62.4 258.9,64.0 259.7,64.3 260.4,63.2 261.2,63.2 262.0,63.8 262.8,63.6 263.5,62.6 264.3,62.5 265.1,63.5 265.8,63.3 266.6,64.5 267.4,61.2 268.2,62.8 268.9,61.3 269.7,62.0 270.5,60.5 271.2,60.8 272.0,61.8 272.8,60.6 273.6,62.7 274.3,60.6 275.1,62.9 275.9,61.2 276.6,60.4 277.4,61.0 278.2,61.5 279.0,61.8 279.7,61.2 280.5,59.8 281.3,59.9 282.0,60.8 282.8,61.6 283.6,59.7 284.2,61.6 284.4,60.7 285.1,61.0 285.9,59.8 286.7,60.4 287.4,60.3 288.2,60.5 289.0,61.5 289.7,60.5 290.5,59.8 291.3,61.3 292.1,60.8 292.8,61.6 293.6,60.7 294.4,61.1 295.1,61.0 295.9,61.6 296.7,60.6 297.5,62.5 298.2,62.6 299.0,62.9 299.8,61.9 300.5,63.2 301.3,63.3 302.1,62.2 302.9,61.9 303.6,62.5 304.4,65.6 305.2,64.2 305.9,64.4 306.7,64.6 307.5,64.0 308.3,62.1 309.0,64.1 309.8,64.6 310.6,63.5 311.3,64.1 312.1,64.2 312.9,65.1 313.7,64.5 314.4,64.3 315.1,66.5 315.2,66.2 316.0,63.9 316.7,64.2 317.5,65.6 318.3,66.2 319.1,65.5 319.8,66.5 320.6,65.9 321.4,64.2 322.1,65.7 322.9,64.9 323.7,66.2 324.5,65.8 325.2,65.0 326.0,67.6 326.8,66.8 327.5,66.7 328.3,66.5 329.1,65.4 329.9,66.3 330.6,68.4 331.4,67.4 332.2,68.1 332.9,68.2 333.7,65.7 334.5,68.6 335.3,67.5 336.0,68.5 336.8,67.2 337.6,67.8 338.3,68.1 339.1,68.4 339.9,67.4 340.7,69.4 341.4,69.3 342.2,69.8 343.0,67.7 343.7,69.3 344.5,70.0 345.3,69.6 345.9,67.0 346.1,69.4 346.8,68.5 347.6,68.7 348.4,69.1 349.1,69.6 349.9,69.2 350.7,69.1 351.4,70.7 352.2,66.2 353.0,67.6 353.8,68.3 354.5,68.5 355.3,68.9 356.1,67.2 356.8,68.2 357.6,67.5 358.4,69.1 359.2,67.4 359.9,65.8 360.7,67.8 361.5,66.7 362.2,67.3 363.0,66.2 363.8,66.2 364.4,67.0 364.6,67.6 365.3,66.6 366.1,66.6 366.9,67.0 367.6,65.9 368.4,65.7 369.2,66.7 370.0,65.8 370.7,62.9 371.5,64.6 372.3,65.1 373.0,62.7 373.7,65.2 373.8,67.0 373.8,66.5 374.6,59.9 375.4,52.0 376.1,45.1 376.8,42.7 376.9,38.7 377.7,40.3 378.4,38.4 379.2,37.6 380.0,37.1 380.8,36.9 381.5,36.2 382.3,36.8 383.1,34.9 383.8,33.7 384.6,33.2 385.4,31.1 386.0,32.0 386.2,32.3 386.9,32.3 387.7,34.4 388.5,36.6 389.2,38.4 390.0,36.0 390.8,37.5 391.6,38.1 392.2,39.9 392.3,39.4 393.1,39.2 393.9,41.7 394.6,44.2 395.4,44.7 396.2,44.2 397.0,47.6 397.7,50.1 398.5,50.9 399.3,51.2 400.0,50.4 400.8,52.2 401.5,53.9 401.6,54.6 401.6,53.5 402.4,54.0 403.1,54.8 403.9,54.9 404.7,55.8 405.4,53.9 406.2,58.1 407.0,56.3 407.8,57.7 408.5,56.6 409.3,57.9 410.1,57.8 410.8,58.0 411.6,58.8 412.4,58.5 413.1,61.1 413.8,59.3 413.9,60.4 414.7,59.7 415.5,58.5 416.2,58.8 417.0,57.8 417.8,61.6 418.5,60.2 419.3,58.4 420.1,60.1 420.9,59.1 421.6,57.2 422.4,57.9 423.2,59.4 423.9,58.0 424.7,57.6 425.5,58.0 426.1,58.1 426.3,57.8 426.3,59.3 427.0,57.7 427.8,58.5 428.6,57.2 429.3,57.0 430.1,58.0 430.9,56.5 431.7,56.6 432.4,56.8 433.2,56.0 434.0,56.8 434.7,56.6 435.5,56.2 436.3,56.2 437.1,54.9 437.8,58.0 438.5,56.0 438.6,57.5" stroke="#f26b6b" stroke-opacity="0.22" stroke-width="0.7"/>
<polyline points="253.5,83.0 254.3,81.9 255.0,82.1 255.8,83.8 256.6,83.7 257.4,84.0 258.1,83.1 258.9,83.8 259.7,83.2 260.4,85.7 261.2,82.7 262.0,84.3 262.8,83.7 263.5,84.6 264.3,84.9 265.1,84.3 265.8,84.1 266.6,85.1 267.4,85.2 268.2,84.5 268.9,86.1 269.7,86.8 270.5,85.1 271.2,86.2 272.0,87.5 272.8,86.6 273.6,86.4 274.3,87.1 275.1,87.5 275.9,86.3 276.6,85.6 277.4,86.7 278.2,87.3 279.0,86.4 279.7,86.2 280.5,87.2 281.3,86.6 282.0,86.2 282.8,87.5 283.6,88.2 284.2,87.2 284.4,87.3 285.1,86.8 285.9,89.2 286.7,88.8 287.4,89.2 288.2,90.3 289.0,88.8 289.7,88.6 290.5,90.0 291.3,88.3 292.1,89.1 292.8,89.5 293.6,89.9 294.4,89.6 295.1,91.9 295.9,90.4 296.7,90.6 297.5,93.0 298.2,91.3 299.0,92.1 299.7,91.3 299.8,92.5 300.5,90.3 301.3,88.1 302.1,87.4 302.9,84.3 303.6,83.1 304.4,80.7 305.2,79.8 305.9,76.5 306.7,75.1 307.5,74.0 308.3,71.5 309.0,69.1 309.8,66.8 310.6,68.0 311.3,64.0 312.1,62.5 312.9,61.2 313.7,60.2 314.4,56.3 315.1,57.1 315.2,55.2 316.0,53.3 316.7,54.9 317.5,52.5 318.3,52.3 319.1,49.8 319.8,47.5 320.6,45.9 321.2,48.4 321.4,47.1 322.1,46.5 322.9,46.3 323.7,47.9 324.5,49.5 325.2,49.1 326.0,50.0 326.8,50.7 327.4,51.7 327.5,50.8 327.5,50.8 328.3,54.6 329.1,58.1 329.9,62.5 330.5,64.7 330.6,63.7 331.4,65.4 332.2,67.0 332.9,64.9 333.7,66.1 334.5,65.1 335.3,67.5 336.0,68.4 336.8,69.7 337.6,67.7 338.3,67.0 339.1,70.5 339.9,70.8 340.7,70.2 341.4,71.9 342.2,71.9 343.0,72.4 343.7,72.3 344.5,72.0 345.3,73.4 345.9,73.0 346.1,74.3 346.8,73.7 347.6,76.1 348.4,75.5 349.1,73.6 349.9,75.0 350.7,74.0 351.4,74.2 352.2,73.6 353.0,74.2 353.8,74.1 354.5,75.2 355.3,75.9 356.1,76.0 356.8,75.9 357.6,76.6 358.4,76.2 359.2,75.9 359.9,75.7 360.7,76.4 361.5,77.9 362.2,76.3 363.0,76.2 363.8,75.5 364.6,76.1 365.3,77.3 366.1,77.5 366.9,75.1 367.6,76.4 368.4,75.5 369.2,75.4 370.0,78.2 370.7,77.2 371.5,77.2 372.3,77.2 373.0,77.4 373.8,77.8 374.6,77.9 375.4,79.6 376.1,78.5 376.8,79.1 376.9,78.3 377.7,79.0 378.4,78.1 379.2,78.0 380.0,78.6 380.8,78.7 381.5,79.0 382.3,79.6 383.1,79.5 383.8,79.9 384.6,79.2 385.4,79.7 386.2,79.3 386.9,81.1 387.7,79.2 388.5,80.8 389.2,80.9 390.0,80.5 390.8,81.0 391.6,80.3 392.3,81.2 393.1,81.8 393.9,81.7 394.6,79.9 395.4,81.1 396.2,82.3 397.0,81.4 397.7,82.9 398.5,80.0 399.3,83.1 400.0,81.4 400.8,81.5 401.6,83.4 402.4,81.9 403.1,81.4 403.9,82.0 404.7,82.3 405.4,81.8 406.2,82.6 407.0,82.6 407.6,83.1 407.8,82.4 408.5,83.7 409.3,82.0 410.1,83.1 410.8,83.5 411.6,82.1 412.4,80.8 413.1,81.3 413.9,82.5 414.7,81.3 415.5,82.3 416.2,81.8 417.0,81.5 417.8,83.6 418.5,81.2 419.3,82.2 420.1,81.8 420.9,82.4 421.6,82.3 422.4,81.7 423.2,80.0 423.9,79.1 424.7,80.5 425.5,79.4 426.3,80.5 427.0,81.9 427.8,79.9 428.6,79.5 429.3,80.2 430.1,79.4 430.9,79.0 431.7,80.2 432.4,80.7 433.2,79.4 434.0,79.3 434.7,79.3 435.5,78.0 436.3,77.2 437.1,79.0 437.8,77.9 438.5,77.6 438.6,77.8" stroke="#f26b6b" stroke-opacity="0.22" stroke-width="0.7"/>
<polyline points="253.5,55.1 255.0,58.0 256.6,60.3 258.1,63.5 259.2,64.6 259.4,65.3 259.7,65.2 261.2,65.9 262.8,66.8 262.9,66.9 263.1,67.4 264.3,67.9 265.8,68.9 266.6,69.3 266.8,70.1 267.4,70.9 268.9,73.4 269.1,73.6 269.2,73.9 270.5,76.6 271.0,77.4 271.1,77.6 272.0,78.8 273.6,79.0 273.7,79.0 273.9,79.1 275.1,79.5 276.2,80.5 276.3,80.1 276.6,80.4 278.2,81.3 279.7,82.3 279.9,82.2 280.0,82.0 281.3,83.5 281.8,84.0 281.9,83.8 282.8,86.1 283.0,87.2 283.1,87.6 284.4,88.6 285.9,89.9 286.1,90.0 286.2,89.0 287.3,87.5 287.4,87.4 289.0,87.6 290.5,87.7 290.7,88.3 290.8,88.2 292.1,88.6 293.6,89.0 295.1,90.3 295.6,90.2 295.8,89.8 296.7,90.9 298.2,91.5 299.8,91.6 301.3,92.0 302.9,92.9 303.4,93.0 303.5,92.8 304.4,92.9 305.9,93.3 307.1,93.2 307.2,93.9 307.5,93.0 309.0,91.6 310.6,89.5 310.8,89.5 310.9,88.9 312.1,88.2 313.7,86.9 314.5,86.2 314.6,85.9 315.2,85.7 316.7,84.6 318.2,83.3 318.3,82.8 319.8,80.9 321.4,80.0 322.2,78.8 322.3,79.2 322.9,78.8 324.5,79.5 325.9,79.8 326.0,79.4 327.5,79.8 328.3,80.7 328.5,81.0 329.1,80.9 330.6,80.4 332.2,80.4 333.0,80.4 333.1,80.5 333.7,80.8 335.3,82.4 335.4,82.1 335.6,82.6 336.8,83.1 338.2,84.4 338.3,84.6 339.9,84.8 341.4,85.4 343.0,85.0 343.5,84.9 343.6,85.3 344.5,85.9 346.1,86.3 347.6,86.8 347.8,86.9 347.9,86.2 349.1,86.2 350.7,85.4 351.8,85.5 351.9,85.0 352.2,85.2 353.8,85.5 355.2,86.3 355.3,86.2 355.3,86.4 356.8,86.1 358.4,85.4 359.2,84.9 359.3,84.9 359.9,80.7 360.4,77.2 360.5,75.9 361.5,75.8 363.0,75.4 364.4,75.1 364.6,75.2 366.1,75.7 367.6,76.8 369.1,77.5 369.2,77.5 370.7,76.1 372.3,75.3 373.7,74.1 373.8,74.2 373.8,73.8 375.4,73.4 376.9,72.3 378.4,72.5 379.9,71.6 380.0,71.1 380.0,71.0 381.5,71.6 382.9,70.2 383.1,70.7 384.6,71.6 384.8,71.4 384.9,71.5 386.2,72.2 387.7,74.5 388.8,75.4 388.9,75.5 389.2,76.5 390.4,80.8 390.5,80.9 390.8,82.9 391.6,86.3 391.7,86.6 392.3,86.6 393.9,87.5 394.4,87.4 394.5,87.0 395.4,86.9 397.0,85.0 397.1,84.9 397.3,85.5 398.5,86.1 399.0,86.2 399.1,86.2 400.0,85.6 400.8,84.6 401.0,84.3 401.6,85.0 402.7,86.3 402.8,86.6 403.1,85.9 404.7,84.9 405.2,83.7 405.3,83.6 406.2,84.3 406.7,84.3 406.8,85.0 407.8,82.7 408.6,81.1 408.7,81.5 409.3,81.8 410.1,82.8 410.2,82.6 410.8,81.4 411.9,78.9 412.1,78.7 412.4,78.4 413.8,79.5 413.9,79.5 415.5,77.9 416.0,77.9 416.1,77.6 417.0,78.0 417.5,78.2 417.6,78.5 418.5,76.9 419.0,75.9 419.2,75.4 420.1,76.8 420.6,76.6 420.7,77.1 421.6,75.9 422.1,75.5 422.2,75.1 423.2,75.4 424.0,75.7 424.1,76.3 424.7,75.6 426.1,74.2 426.3,74.3 426.3,74.7 427.8,73.5 428.0,73.9 428.1,73.6 429.3,58.2 429.5,55.2 429.7,54.4 430.9,54.8 432.0,55.1 432.1,55.5 432.4,56.5 434.0,58.1 435.1,59.8 435.2,59.5 435.5,60.2 437.1,61.6 438.5,62.4 438.6,61.9" stroke="#b81a2c" stroke-width="1.15"/>
<polyline points="253.5,68.1 255.0,69.1 256.6,69.8 257.1,69.8 257.2,70.3 258.1,67.5 258.6,65.8 258.7,64.7 259.7,66.0 261.2,67.2 262.6,68.0 262.8,67.9 262.8,67.9 264.3,69.2 265.8,71.4 267.4,73.5 268.8,74.2 268.9,74.7 270.5,76.7 271.0,77.6 271.1,77.8 272.0,77.6 273.4,79.2 273.6,79.1 275.1,79.4 276.6,78.9 277.1,79.2 277.3,79.5 278.2,78.8 279.6,77.9 279.7,78.7 279.7,78.7 281.3,78.7 282.8,79.1 283.6,79.6 283.7,79.5 284.4,79.3 285.9,78.8 287.3,79.3 287.4,78.7 289.0,79.5 290.5,79.8 291.0,81.3 291.1,80.8 292.1,79.1 293.6,75.7 294.7,74.4 294.8,74.0 295.1,72.4 296.7,65.5 297.2,63.4 297.3,63.3 298.2,62.5 299.8,63.4 300.9,63.3 301.0,63.1 301.3,63.3 302.9,62.1 304.4,61.6 305.8,60.3 305.9,60.4 305.9,60.7 307.5,61.0 308.3,61.4 308.4,60.9 309.0,61.8 310.6,63.2 312.1,63.9 313.2,64.8 313.3,64.0 313.7,64.3 315.2,65.0 316.7,65.4 316.9,64.6 317.1,65.2 318.3,65.6 319.8,64.8 321.2,65.3 321.4,64.4 322.9,66.5 324.3,68.6 324.5,68.6 324.5,69.1 325.9,73.4 326.0,74.3 327.5,75.6 328.3,76.1 328.5,76.7 329.1,76.2 330.6,74.8 330.8,74.4 330.9,74.6 332.0,69.1 332.2,68.3 332.2,68.4 333.7,68.2 335.3,67.9 335.4,67.7 335.6,67.3 336.7,66.7 336.8,66.7 338.3,67.4 339.4,67.3 339.6,67.4 339.9,66.7 341.0,66.1 341.1,65.3 341.4,68.1 342.2,74.7 342.3,75.0 343.0,80.4 343.5,85.6 343.6,86.1 344.5,86.3 346.1,86.9 347.6,88.2 347.8,87.8 347.9,87.9 349.1,89.7 350.7,91.1 351.2,92.1 351.3,92.1 352.2,86.2 352.4,84.6 352.5,83.7 353.8,80.8 355.2,77.2 355.3,76.6 355.3,76.5 356.8,76.6 358.4,76.7 359.2,76.3 359.3,76.7 359.9,76.1 361.5,74.4 362.0,74.7 362.1,74.3 363.0,75.0 364.6,76.6 364.7,76.9 364.9,76.9 366.1,76.0 366.9,74.5 367.0,74.4 367.6,75.2 369.2,77.7 369.7,79.1 369.8,79.3 370.7,77.5 370.9,77.4 371.0,77.5 372.3,75.5 373.7,73.1 373.8,73.0 373.8,73.0 375.4,72.1 376.5,71.2 376.6,71.3 376.9,71.2 378.4,71.8 379.2,71.8 379.4,71.6 380.0,69.1 380.5,67.9 380.6,67.3 381.5,69.4 382.0,71.2 382.1,71.7 383.1,72.6 384.6,72.9 384.8,72.6 384.9,73.3 386.0,71.4 386.2,71.2 387.6,67.7 387.7,67.8 387.7,67.3 389.2,65.8 390.4,65.2 390.5,65.6 390.8,64.1 392.3,61.7 392.8,60.9 392.9,61.2 393.9,61.5 395.0,62.1 395.1,62.0 395.4,61.6 396.8,58.8 397.0,59.2 398.4,60.5 398.5,60.3 400.0,56.9 400.5,56.8 400.7,56.6 401.6,56.4 402.1,57.6 402.2,57.5 403.1,55.4 404.7,53.3 406.1,50.4 406.2,50.1 407.8,51.7 408.6,52.5 408.7,52.7 409.3,52.6 410.8,52.2 411.0,53.2 411.1,52.4 412.4,53.5 413.9,54.8 415.5,56.1 416.0,56.5 416.1,56.4 417.0,56.0 418.5,53.1 419.0,52.5 419.2,52.5 420.1,53.7 421.6,55.3 423.1,56.7 423.2,57.0 424.7,59.6 426.1,62.8 426.3,62.0 426.3,62.5 427.8,60.8 428.0,60.3 428.1,59.9 429.3,56.0 429.5,54.6 429.7,54.5 430.9,53.8 432.0,53.5 432.1,53.2 432.4,53.7 434.0,55.5 435.1,56.7 435.2,56.7 435.5,56.5 437.1,57.5 438.5,57.7 438.6,57.6" stroke="#b81a2c" stroke-width="1.15"/>
</g>
<line x1="253.50" y1="4.40" x2="253.50" y2="120.00" stroke="#999" stroke-width="1"/>
<line x1="253.00" y1="119.50" x2="439.10" y2="119.50" stroke="#999" stroke-width="1"/>
<line x1="253.50" y1="117.80" x2="253.50" y2="119.40" stroke="#888" stroke-width="0.7"/>
<line x1="259.67" y1="118.50" x2="259.67" y2="119.40" stroke="#888" stroke-width="0.7"/>
<line x1="265.84" y1="118.50" x2="265.84" y2="119.40" stroke="#888" stroke-width="0.7"/>
<line x1="272.01" y1="118.50" x2="272.01" y2="119.40" stroke="#888" stroke-width="0.7"/>
<line x1="278.18" y1="118.50" x2="278.18" y2="119.40" stroke="#888" stroke-width="0.7"/>
<line x1="284.35" y1="117.80" x2="284.35" y2="119.40" stroke="#888" stroke-width="0.7"/>
<line x1="290.52" y1="118.50" x2="290.52" y2="119.40" stroke="#888" stroke-width="0.7"/>
<line x1="296.69" y1="118.50" x2="296.69" y2="119.40" stroke="#888" stroke-width="0.7"/>
<line x1="302.86" y1="118.50" x2="302.86" y2="119.40" stroke="#888" stroke-width="0.7"/>
<line x1="309.03" y1="118.50" x2="309.03" y2="119.40" stroke="#888" stroke-width="0.7"/>
<line x1="315.20" y1="117.80" x2="315.20" y2="119.40" stroke="#888" stroke-width="0.7"/>
<line x1="321.37" y1="118.50" x2="321.37" y2="119.40" stroke="#888" stroke-width="0.7"/>
<line x1="327.54" y1="118.50" x2="327.54" y2="119.40" stroke="#888" stroke-width="0.7"/>
<line x1="333.71" y1="118.50" x2="333.71" y2="119.40" stroke="#888" stroke-width="0.7"/>
<line x1="339.88" y1="118.50" x2="339.88" y2="119.40" stroke="#888" stroke-width="0.7"/>
<line x1="346.05" y1="117.80" x2="346.05" y2="119.40" stroke="#888" stroke-width="0.7"/>
<line x1="352.22" y1="118.50" x2="352.22" y2="119.40" stroke="#888" stroke-width="0.7"/>
<line x1="358.39" y1="118.50" x2="358.39" y2="119.40" stroke="#888" stroke-width="0.7"/>
<line x1="364.56" y1="118.50" x2="364.56" y2="119.40" stroke="#888" stroke-width="0.7"/>
<line x1="370.73" y1="118.50" x2="370.73" y2="119.40" stroke="#888" stroke-width="0.7"/>
<line x1="376.90" y1="117.80" x2="376.90" y2="119.40" stroke="#888" stroke-width="0.7"/>
<line x1="383.07" y1="118.50" x2="383.07" y2="119.40" stroke="#888" stroke-width="0.7"/>
<line x1="389.24" y1="118.50" x2="389.24" y2="119.40" stroke="#888" stroke-width="0.7"/>
<line x1="395.41" y1="118.50" x2="395.41" y2="119.40" stroke="#888" stroke-width="0.7"/>
<line x1="401.58" y1="118.50" x2="401.58" y2="119.40" stroke="#888" stroke-width="0.7"/>
<line x1="407.75" y1="117.80" x2="407.75" y2="119.40" stroke="#888" stroke-width="0.7"/>
<line x1="413.92" y1="118.50" x2="413.92" y2="119.40" stroke="#888" stroke-width="0.7"/>
<line x1="420.09" y1="118.50" x2="420.09" y2="119.40" stroke="#888" stroke-width="0.7"/>
<line x1="426.26" y1="118.50" x2="426.26" y2="119.40" stroke="#888" stroke-width="0.7"/>
<line x1="432.43" y1="118.50" x2="432.43" y2="119.40" stroke="#888" stroke-width="0.7"/>
<line x1="438.60" y1="117.80" x2="438.60" y2="119.40" stroke="#888" stroke-width="0.7"/>
<line x1="253.50" y1="119.40" x2="255.10" y2="119.40" stroke="#888" stroke-width="0.7"/>
<line x1="253.50" y1="114.85" x2="254.40" y2="114.85" stroke="#888" stroke-width="0.7"/>
<line x1="253.50" y1="110.30" x2="254.40" y2="110.30" stroke="#888" stroke-width="0.7"/>
<line x1="253.50" y1="105.74" x2="254.40" y2="105.74" stroke="#888" stroke-width="0.7"/>
<line x1="253.50" y1="101.19" x2="254.40" y2="101.19" stroke="#888" stroke-width="0.7"/>
<line x1="253.50" y1="96.64" x2="255.10" y2="96.64" stroke="#888" stroke-width="0.7"/>
<line x1="253.50" y1="92.09" x2="254.40" y2="92.09" stroke="#888" stroke-width="0.7"/>
<line x1="253.50" y1="87.54" x2="254.40" y2="87.54" stroke="#888" stroke-width="0.7"/>
<line x1="253.50" y1="82.98" x2="254.40" y2="82.98" stroke="#888" stroke-width="0.7"/>
<line x1="253.50" y1="78.43" x2="254.40" y2="78.43" stroke="#888" stroke-width="0.7"/>
<line x1="253.50" y1="73.88" x2="255.10" y2="73.88" stroke="#888" stroke-width="0.7"/>
<line x1="253.50" y1="69.33" x2="254.40" y2="69.33" stroke="#888" stroke-width="0.7"/>
<line x1="253.50" y1="64.78" x2="254.40" y2="64.78" stroke="#888" stroke-width="0.7"/>
<line x1="253.50" y1="60.22" x2="254.40" y2="60.22" stroke="#888" stroke-width="0.7"/>
<line x1="253.50" y1="55.67" x2="254.40" y2="55.67" stroke="#888" stroke-width="0.7"/>
<line x1="253.50" y1="51.12" x2="255.10" y2="51.12" stroke="#888" stroke-width="0.7"/>
<line x1="253.50" y1="46.57" x2="254.40" y2="46.57" stroke="#888" stroke-width="0.7"/>
<line x1="253.50" y1="42.02" x2="254.40" y2="42.02" stroke="#888" stroke-width="0.7"/>
<line x1="253.50" y1="37.46" x2="254.40" y2="37.46" stroke="#888" stroke-width="0.7"/>
<line x1="253.50" y1="32.91" x2="254.40" y2="32.91" stroke="#888" stroke-width="0.7"/>
<line x1="253.50" y1="28.36" x2="255.10" y2="28.36" stroke="#888" stroke-width="0.7"/>
<line x1="253.50" y1="23.81" x2="254.40" y2="23.81" stroke="#888" stroke-width="0.7"/>
<line x1="253.50" y1="19.26" x2="254.40" y2="19.26" stroke="#888" stroke-width="0.7"/>
<line x1="253.50" y1="14.70" x2="254.40" y2="14.70" stroke="#888" stroke-width="0.7"/>
<line x1="253.50" y1="10.15" x2="254.40" y2="10.15" stroke="#888" stroke-width="0.7"/>
<line x1="253.50" y1="5.60" x2="255.10" y2="5.60" stroke="#888" stroke-width="0.7"/>
<text x="253.50" y="127.20" font-size="6.7" text-anchor="middle" fill="#222" font-weight="normal" stroke="#222" stroke-width="0.12">0</text>
<text x="284.35" y="127.20" font-size="6.7" text-anchor="middle" fill="#222" font-weight="normal" stroke="#222" stroke-width="0.12">1</text>
<text x="315.20" y="127.20" font-size="6.7" text-anchor="middle" fill="#222" font-weight="normal" stroke="#222" stroke-width="0.12">2</text>
<text x="346.05" y="127.20" font-size="6.7" text-anchor="middle" fill="#222" font-weight="normal" stroke="#222" stroke-width="0.12">3</text>
<text x="376.90" y="127.20" font-size="6.7" text-anchor="middle" fill="#222" font-weight="normal" stroke="#222" stroke-width="0.12">4</text>
<text x="407.75" y="127.20" font-size="6.7" text-anchor="middle" fill="#222" font-weight="normal" stroke="#222" stroke-width="0.12">5</text>
<text x="438.60" y="127.20" font-size="6.7" text-anchor="middle" fill="#222" font-weight="normal" stroke="#222" stroke-width="0.12">6</text>
<text x="252.30" y="121.80" font-size="6.7" text-anchor="end" fill="#222" font-weight="normal" stroke="#222" stroke-width="0.12">0.0</text>
<text x="252.30" y="99.04" font-size="6.7" text-anchor="end" fill="#222" font-weight="normal" stroke="#222" stroke-width="0.12">0.5</text>
<text x="252.30" y="76.28" font-size="6.7" text-anchor="end" fill="#222" font-weight="normal" stroke="#222" stroke-width="0.12">1.0</text>
<text x="252.30" y="53.52" font-size="6.7" text-anchor="end" fill="#222" font-weight="normal" stroke="#222" stroke-width="0.12">1.5</text>
<text x="252.30" y="30.76" font-size="6.7" text-anchor="end" fill="#222" font-weight="normal" stroke="#222" stroke-width="0.12">2.0</text>
<text x="252.30" y="8.00" font-size="6.7" text-anchor="end" fill="#222" font-weight="normal" stroke="#222" stroke-width="0.12">2.5</text>
<text x="346.05" y="134.50" font-size="8.1" text-anchor="middle" fill="#111" font-weight="normal" stroke="#111" stroke-width="0.15">Time (h)</text>
<text transform="translate(229.7,57.0) rotate(-90)" font-size="8.15" text-anchor="middle" fill="#111" stroke="#111" stroke-width="0.12">Normalized Protein</text>
<text transform="translate(240.0,57.2) rotate(-90)" font-size="8.15" text-anchor="middle" fill="#111" stroke="#111" stroke-width="0.12">Concentration (arb. units)</text>
<g fill="none" stroke-linejoin="round">
<polyline points="479.5,68.8 481.0,68.7 482.6,69.5 484.1,70.3 485.6,70.4 487.1,71.3 488.7,70.9 490.2,70.4 491.7,70.1 493.3,69.5 494.8,69.4 496.3,71.6 497.9,70.1 499.4,69.6 500.9,68.5 502.4,69.4 504.0,70.3 505.5,70.2 507.0,69.7 508.6,77.9 510.1,79.3 511.6,78.4 513.2,78.5 514.7,77.8 516.2,77.1 517.8,76.7 519.3,75.0 520.8,74.2 522.3,73.1 523.9,72.0 525.4,72.6 526.9,72.9 528.5,70.7 530.0,70.6 531.5,72.3 533.0,73.2 534.6,73.7 536.1,73.1 537.6,73.6 539.2,71.6 540.7,60.5 542.2,61.1 543.8,53.2 545.3,53.1 546.8,52.7 548.4,52.4 549.9,53.5 551.4,51.9 552.9,51.2 554.5,51.6 556.0,53.1 557.5,53.1 559.1,52.3 560.6,54.3 562.1,55.8 563.6,56.3 565.2,58.8 566.7,59.7 568.2,62.8 569.8,61.4 571.3,62.3 572.8,63.5 574.4,63.5 575.9,64.2 577.4,63.9 579.0,62.3 580.5,62.3 582.0,62.7 583.5,61.0 585.1,61.2 586.6,60.7 588.1,60.8 589.7,61.3 591.2,61.7 592.7,61.8 594.2,61.3 595.8,62.5 597.3,63.9 598.8,66.2 600.4,66.3 601.9,66.2 603.4,66.2 605.0,65.5 606.5,65.1 608.0,64.7 609.5,64.5 611.1,64.0 612.6,63.2 614.1,62.1 615.7,59.7 617.2,59.1 618.7,59.6 620.3,60.0 621.8,56.6 623.3,56.5 624.9,56.8 626.4,59.9 627.9,61.2 629.4,61.9 631.0,62.2 632.5,62.1 634.0,62.2 635.6,62.3 637.1,62.3 638.6,62.7 640.1,60.6 641.7,59.8 643.2,60.8 644.7,59.5 646.3,60.1 647.8,61.8 649.3,61.8 650.9,59.8 652.4,60.8 653.9,61.7 655.5,62.7 657.0,61.7 658.5,61.2 660.0,63.3 661.6,62.6 663.1,61.0" stroke="#f7a04a" stroke-opacity="0.14" stroke-width="0.7"/>
<polyline points="479.5,65.6 481.0,66.9 482.6,69.0 484.1,62.3 485.6,62.8 487.1,62.0 488.7,62.9 490.2,62.6 491.7,63.7 493.3,63.7 494.8,63.3 496.3,56.5 497.9,55.6 499.4,55.6 500.9,56.8 502.4,57.2 504.0,56.4 505.5,57.1 507.0,56.3 508.6,56.1 510.1,56.6 511.6,56.7 513.2,58.2 514.7,58.0 516.2,59.6 517.8,60.0 519.3,58.6 520.8,60.6 522.3,60.3 523.9,61.7 525.4,60.5 526.9,58.8 528.5,60.5 530.0,63.3 531.5,63.5 533.0,57.4 534.6,47.8 536.1,49.6 537.6,50.1 539.2,53.2 540.7,54.8 542.2,54.4 543.8,55.1 545.3,55.4 546.8,53.7 548.4,53.0 549.9,54.9 551.4,55.6 552.9,54.8 554.5,55.2 556.0,56.0 557.5,54.7 559.1,47.0 560.6,49.9 562.1,51.2 563.6,50.3 565.2,49.4 566.7,50.7 568.2,51.5 569.8,53.5 571.3,55.3 572.8,54.3 574.4,55.8 575.9,57.8 577.4,59.5 579.0,60.1 580.5,59.1 582.0,60.1 583.5,58.8 585.1,58.2 586.6,60.1 588.1,60.1 589.7,61.9 591.2,63.7 592.7,64.2 594.2,63.6 595.8,61.0 597.3,59.8 598.8,60.8 600.4,62.6 601.9,56.9 603.4,57.7 605.0,57.1 606.5,58.6 608.0,59.2 609.5,61.6 611.1,69.6 612.6,69.1 614.1,69.8 615.7,70.3 617.2,70.3 618.7,70.5 620.3,70.4 621.8,73.0 623.3,75.0 624.9,75.0 626.4,75.5 627.9,75.4 629.4,75.8 631.0,72.6 632.5,72.4 634.0,71.4 635.6,73.2 637.1,78.0 638.6,77.7 640.1,74.6 641.7,75.2 643.2,75.4 644.7,75.0 646.3,72.6 647.8,73.6 649.3,70.3 650.9,71.6 652.4,70.9 653.9,71.2 655.5,70.1 657.0,69.1 658.5,71.9 660.0,69.7 661.6,69.8 663.1,68.6" stroke="#f7a04a" stroke-opacity="0.14" stroke-width="0.7"/>
<polyline points="479.5,66.1 481.0,66.3 482.6,64.0 484.1,63.3 485.6,61.5 487.1,64.3 488.7,64.2 490.2,63.0 491.7,63.0 493.3,61.1 494.8,60.6 496.3,59.7 497.9,59.2 499.4,58.2 500.9,59.8 502.4,59.2 504.0,60.5 505.5,60.1 507.0,58.6 508.6,47.4 510.1,47.2 511.6,47.7 513.2,48.8 514.7,51.9 516.2,40.6 517.8,43.6 519.3,44.9 520.8,47.0 522.3,48.0 523.9,50.7 525.4,52.3 526.9,53.6 528.5,54.0 530.0,56.0 531.5,58.3 533.0,59.8 534.6,59.5 536.1,59.7 537.6,60.8 539.2,62.8 540.7,62.9 542.2,63.4 543.8,63.2 545.3,63.7 546.8,62.3 548.4,70.7 549.9,70.2 551.4,69.7 552.9,68.8 554.5,67.4 556.0,67.7 557.5,66.0 559.1,66.7 560.6,67.7 562.1,66.1 563.6,65.9 565.2,66.3 566.7,65.8 568.2,65.5 569.8,63.8 571.3,54.8 572.8,53.4 574.4,54.3 575.9,54.4 577.4,53.4 579.0,54.7 580.5,55.4 582.0,49.0 583.5,50.0 585.1,57.9 586.6,58.2 588.1,48.5 589.7,49.9 591.2,50.7 592.7,50.2 594.2,50.1 595.8,52.3 597.3,51.7 598.8,52.6 600.4,53.2 601.9,53.9 603.4,54.2 605.0,55.9 606.5,49.5 608.0,50.0 609.5,50.3 611.1,52.0 612.6,51.6 614.1,53.1 615.7,52.3 617.2,52.4 618.7,52.6 620.3,51.7 621.8,51.0 623.3,53.5 624.9,54.5 626.4,55.1 627.9,55.1 629.4,56.1 631.0,56.5 632.5,57.4 634.0,59.0 635.6,58.2 637.1,63.2 638.6,61.7 640.1,61.0 641.7,70.6 643.2,69.9 644.7,69.3 646.3,71.0 647.8,70.7 649.3,71.9 650.9,71.4 652.4,72.3 653.9,71.7 655.5,71.9 657.0,71.5 658.5,71.3 660.0,70.3 661.6,69.4 663.1,67.6" stroke="#f7a04a" stroke-opacity="0.14" stroke-width="0.7"/>
<polyline points="479.5,69.4 481.0,68.9 482.6,66.7 484.1,67.8 485.6,67.2 487.1,65.8 488.7,64.8 490.2,65.8 491.7,65.6 493.3,57.3 494.8,59.7 496.3,57.7 497.9,48.9 499.4,50.2 500.9,49.4 502.4,49.6 504.0,49.8 505.5,52.5 507.0,53.4 508.6,56.2 510.1,61.8 511.6,52.8 513.2,52.3 514.7,51.8 516.2,53.4 517.8,53.1 519.3,54.7 520.8,54.5 522.3,56.3 523.9,56.0 525.4,56.5 526.9,57.3 528.5,57.3 530.0,58.9 531.5,57.8 533.0,58.8 534.6,61.6 536.1,62.5 537.6,63.3 539.2,63.2 540.7,64.8 542.2,64.9 543.8,63.2 545.3,64.5 546.8,64.8 548.4,64.4 549.9,63.7 551.4,62.7 552.9,62.3 554.5,63.6 556.0,63.0 557.5,63.9 559.1,62.7 560.6,63.4 562.1,62.1 563.6,62.4 565.2,62.6 566.7,62.3 568.2,62.3 569.8,62.4 571.3,64.0 572.8,64.1 574.4,65.3 575.9,69.2 577.4,67.1 579.0,66.6 580.5,68.0 582.0,68.9 583.5,67.1 585.1,66.5 586.6,66.5 588.1,65.7 589.7,65.9 591.2,66.2 592.7,63.4 594.2,64.6 595.8,63.6 597.3,63.3 598.8,61.8 600.4,64.0 601.9,63.8 603.4,64.1 605.0,62.4 606.5,61.2 608.0,61.7 609.5,55.0 611.1,55.1 612.6,54.7 614.1,54.8 615.7,55.6 617.2,56.7 618.7,55.8 620.3,57.2 621.8,58.8 623.3,58.2 624.9,58.0 626.4,59.4 627.9,57.2 629.4,58.5 631.0,61.3 632.5,61.4 634.0,62.0 635.6,55.3 637.1,56.4 638.6,48.0 640.1,48.3 641.7,47.0 643.2,48.4 644.7,48.8 646.3,46.2 647.8,46.5 649.3,49.2 650.9,51.3 652.4,52.0 653.9,53.7 655.5,54.7 657.0,55.4 658.5,56.6 660.0,54.2 661.6,55.2 663.1,54.5" stroke="#f7a04a" stroke-opacity="0.14" stroke-width="0.7"/>
<polyline points="479.5,72.9 481.0,72.6 482.6,73.0 484.1,72.8 485.6,72.1 487.1,71.8 488.7,70.7 490.2,70.8 491.7,70.3 493.3,70.9 494.8,70.9 496.3,69.6 497.9,69.7 499.4,68.6 500.9,70.2 502.4,67.5 504.0,74.7 505.5,75.8 507.0,75.2 508.6,74.7 510.1,75.1 511.6,71.8 513.2,71.4 514.7,73.6 516.2,72.7 517.8,71.8 519.3,71.1 520.8,71.6 522.3,71.8 523.9,71.1 525.4,71.0 526.9,61.8 528.5,60.8 530.0,72.0 531.5,70.1 533.0,57.3 534.6,48.9 536.1,51.4 537.6,53.4 539.2,45.8 540.7,48.4 542.2,50.5 543.8,53.0 545.3,55.3 546.8,57.7 548.4,60.1 549.9,58.5 551.4,52.3 552.9,54.8 554.5,54.0 556.0,54.2 557.5,53.9 559.1,54.1 560.6,53.8 562.1,53.8 563.6,52.7 565.2,52.2 566.7,51.8 568.2,39.4 569.8,39.0 571.3,41.3 572.8,43.1 574.4,44.1 575.9,46.1 577.4,46.6 579.0,48.8 580.5,49.2 582.0,51.2 583.5,48.1 585.1,48.7 586.6,49.9 588.1,49.9 589.7,49.9 591.2,52.4 592.7,53.4 594.2,54.9 595.8,55.0 597.3,55.1 598.8,56.6 600.4,57.1 601.9,57.5 603.4,57.6 605.0,58.1 606.5,60.1 608.0,58.7 609.5,58.4 611.1,60.3 612.6,59.3 614.1,51.3 615.7,51.7 617.2,51.3 618.7,53.1 620.3,53.4 621.8,54.5 623.3,54.1 624.9,53.8 626.4,56.7 627.9,57.3 629.4,57.1 631.0,59.3 632.5,58.2 634.0,58.9 635.6,60.2 637.1,59.4 638.6,58.5 640.1,59.9 641.7,60.3 643.2,60.0 644.7,61.2 646.3,62.9 647.8,62.5 649.3,62.8 650.9,64.8 652.4,64.3 653.9,65.2 655.5,64.8 657.0,65.4 658.5,58.9 660.0,51.5 661.6,52.8 663.1,52.7" stroke="#f7a04a" stroke-opacity="0.14" stroke-width="0.7"/>
<polyline points="479.5,58.3 481.0,58.5 482.6,60.7 484.1,60.8 485.6,61.3 487.1,61.1 488.7,61.1 490.2,61.5 491.7,62.2 493.3,63.2 494.8,62.9 496.3,60.5 497.9,63.1 499.4,62.8 500.9,61.9 502.4,61.1 504.0,59.4 505.5,59.6 507.0,59.3 508.6,61.4 510.1,61.1 511.6,60.3 513.2,59.8 514.7,59.7 516.2,58.6 517.8,58.8 519.3,59.3 520.8,58.5 522.3,58.0 523.9,59.7 525.4,58.1 526.9,59.8 528.5,59.8 530.0,58.9 531.5,61.3 533.0,61.4 534.6,61.9 536.1,63.0 537.6,62.9 539.2,64.0 540.7,63.3 542.2,62.1 543.8,64.8 545.3,55.1 546.8,55.8 548.4,55.4 549.9,53.1 551.4,51.3 552.9,51.8 554.5,53.7 556.0,54.6 557.5,55.3 559.1,54.5 560.6,54.7 562.1,55.6 563.6,55.7 565.2,55.6 566.7,56.0 568.2,55.7 569.8,56.4 571.3,58.1 572.8,58.6 574.4,60.3 575.9,59.4 577.4,58.4 579.0,58.9 580.5,59.3 582.0,59.2 583.5,59.8 585.1,59.9 586.6,60.3 588.1,59.9 589.7,59.5 591.2,59.7 592.7,60.5 594.2,61.5 595.8,62.9 597.3,63.7 598.8,62.0 600.4,63.2 601.9,64.1 603.4,65.9 605.0,66.2 606.5,65.9 608.0,66.1 609.5,57.7 611.1,56.8 612.6,57.8 614.1,57.7 615.7,57.6 617.2,60.2 618.7,61.8 620.3,64.0 621.8,64.6 623.3,64.2 624.9,63.6 626.4,75.9 627.9,75.0 629.4,72.0 631.0,72.7 632.5,71.3 634.0,71.2 635.6,72.1 637.1,71.5 638.6,70.6 640.1,70.0 641.7,69.3 643.2,68.7 644.7,68.7 646.3,66.6 647.8,67.8 649.3,68.4 650.9,67.5 652.4,67.7 653.9,67.8 655.5,68.2 657.0,66.9 658.5,65.1 660.0,65.5 661.6,65.9 663.1,66.4" stroke="#f7a04a" stroke-opacity="0.14" stroke-width="0.7"/>
<polyline points="479.5,68.1 481.0,70.6 482.6,71.9 484.1,64.4 485.6,65.1 487.1,61.8 488.7,61.0 490.2,59.2 491.7,57.9 493.3,59.5 494.8,60.2 496.3,59.3 497.9,59.2 499.4,58.5 500.9,56.5 502.4,46.5 504.0,47.4 505.5,48.8 507.0,49.3 508.6,49.8 510.1,49.5 511.6,47.8 513.2,48.3 514.7,47.4 516.2,47.5 517.8,48.9 519.3,48.7 520.8,49.4 522.3,50.3 523.9,48.5 525.4,49.3 526.9,47.0 528.5,48.2 530.0,50.9 531.5,51.8 533.0,50.5 534.6,50.9 536.1,52.5 537.6,52.0 539.2,51.9 540.7,52.8 542.2,52.8 543.8,53.3 545.3,54.4 546.8,55.5 548.4,56.1 549.9,58.2 551.4,59.2 552.9,69.6 554.5,70.5 556.0,70.5 557.5,71.5 559.1,70.3 560.6,67.8 562.1,67.5 563.6,67.7 565.2,68.3 566.7,68.6 568.2,69.5 569.8,68.7 571.3,69.3 572.8,62.8 574.4,63.2 575.9,63.7 577.4,64.0 579.0,64.1 580.5,65.2 582.0,65.3 583.5,65.0 585.1,65.5 586.6,64.6 588.1,62.2 589.7,61.0 591.2,50.7 592.7,53.2 594.2,53.7 595.8,54.1 597.3,54.0 598.8,55.9 600.4,57.4 601.9,57.5 603.4,60.5 605.0,61.8 606.5,62.9 608.0,63.7 609.5,64.9 611.1,64.7 612.6,64.8 614.1,65.4 615.7,63.4 617.2,63.8 618.7,64.1 620.3,64.5 621.8,63.9 623.3,63.7 624.9,63.7 626.4,65.7 627.9,66.9 629.4,66.8 631.0,68.0 632.5,65.5 634.0,65.2 635.6,65.0 637.1,64.4 638.6,64.8 640.1,63.5 641.7,64.7 643.2,65.3 644.7,65.3 646.3,65.3 647.8,65.9 649.3,64.3 650.9,65.2 652.4,65.5 653.9,64.5 655.5,65.4 657.0,64.6 658.5,63.8 660.0,66.3 661.6,67.1 663.1,68.8" stroke="#f7a04a" stroke-opacity="0.14" stroke-width="0.7"/>
<polyline points="479.5,67.9 481.0,68.2 482.6,69.8 484.1,68.2 485.6,67.5 487.1,68.4 488.7,66.6 490.2,67.7 491.7,66.0 493.3,65.5 494.8,64.5 496.3,64.1 497.9,65.3 499.4,63.7 500.9,63.4 502.4,60.7 504.0,60.5 505.5,60.7 507.0,63.5 508.6,64.9 510.1,64.4 511.6,65.2 513.2,63.9 514.7,65.0 516.2,64.8 517.8,66.4 519.3,66.5 520.8,63.3 522.3,63.4 523.9,63.4 525.4,62.2 526.9,63.3 528.5,64.4 530.0,65.0 531.5,64.8 533.0,62.4 534.6,60.5 536.1,59.8 537.6,59.2 539.2,58.7 540.7,58.8 542.2,60.7 543.8,59.8 545.3,60.1 546.8,63.2 548.4,62.2 549.9,64.7 551.4,66.7 552.9,66.7 554.5,65.4 556.0,65.6 557.5,64.9 559.1,66.2 560.6,64.6 562.1,66.1 563.6,66.9 565.2,64.2 566.7,63.2 568.2,62.6 569.8,63.9 571.3,65.2 572.8,66.5 574.4,69.0 575.9,69.4 577.4,68.8 579.0,67.0 580.5,62.0 582.0,60.7 583.5,60.4 585.1,61.4 586.6,58.6 588.1,57.3 589.7,58.6 591.2,59.1 592.7,60.1 594.2,61.1 595.8,63.0 597.3,53.0 598.8,48.4 600.4,50.1 601.9,51.7 603.4,51.4 605.0,54.4 606.5,53.6 608.0,54.8 609.5,56.5 611.1,54.7 612.6,53.3 614.1,54.9 615.7,55.5 617.2,55.8 618.7,59.4 620.3,67.5 621.8,68.4 623.3,66.3 624.9,65.5 626.4,64.9 627.9,66.1 629.4,75.9 631.0,74.6 632.5,65.8 634.0,67.6 635.6,68.0 637.1,68.4 638.6,68.1 640.1,67.0 641.7,66.6 643.2,66.2 644.7,66.7 646.3,67.9 647.8,68.5 649.3,68.5 650.9,68.6 652.4,69.6 653.9,69.8 655.5,69.0 657.0,69.7 658.5,69.2 660.0,67.7 661.6,68.7 663.1,69.2" stroke="#f7a04a" stroke-opacity="0.14" stroke-width="0.7"/>
<polyline points="479.5,58.0 481.0,58.2 482.6,57.6 484.1,57.2 485.6,56.4 487.1,56.7 488.7,57.5 490.2,56.3 491.7,56.9 493.3,58.1 494.8,58.3 496.3,58.1 497.9,59.6 499.4,60.3 500.9,60.0 502.4,62.3 504.0,63.0 505.5,54.7 507.0,55.0 508.6,55.6 510.1,56.8 511.6,49.4 513.2,50.7 514.7,59.8 516.2,59.7 517.8,62.0 519.3,62.5 520.8,62.3 522.3,62.8 523.9,63.0 525.4,62.3 526.9,62.0 528.5,61.3 530.0,64.2 531.5,62.3 533.0,62.5 534.6,62.7 536.1,64.3 537.6,65.2 539.2,74.0 540.7,72.6 542.2,75.3 543.8,75.1 545.3,63.1 546.8,64.3 548.4,63.9 549.9,64.1 551.4,63.7 552.9,64.0 554.5,62.3 556.0,61.6 557.5,51.8 559.1,51.6 560.6,53.7 562.1,55.0 563.6,54.8 565.2,55.4 566.7,54.0 568.2,54.2 569.8,48.6 571.3,47.3 572.8,49.5 574.4,48.4 575.9,49.0 577.4,49.7 579.0,50.6 580.5,50.8 582.0,50.4 583.5,52.0 585.1,52.8 586.6,52.0 588.1,52.7 589.7,53.7 591.2,64.1 592.7,63.6 594.2,61.6 595.8,62.5 597.3,61.9 598.8,61.5 600.4,59.8 601.9,58.6 603.4,60.1 605.0,61.8 606.5,60.7 608.0,60.7 609.5,61.6 611.1,62.3 612.6,60.7 614.1,61.8 615.7,62.0 617.2,61.7 618.7,61.9 620.3,60.8 621.8,59.7 623.3,58.6 624.9,56.5 626.4,57.6 627.9,54.7 629.4,52.8 631.0,53.0 632.5,51.2 634.0,52.4 635.6,54.3 637.1,54.3 638.6,56.0 640.1,57.3 641.7,56.5 643.2,57.7 644.7,58.6 646.3,59.8 647.8,57.6 649.3,57.1 650.9,52.0 652.4,53.1 653.9,54.7 655.5,54.5 657.0,54.7 658.5,56.9 660.0,57.3 661.6,56.6 663.1,60.8" stroke="#f7a04a" stroke-opacity="0.14" stroke-width="0.7"/>
<polyline points="479.5,71.0 481.0,72.8 482.6,72.3 484.1,73.0 485.6,74.7 487.1,72.7 488.7,71.5 490.2,71.6 491.7,70.3 493.3,68.3 494.8,67.5 496.3,66.0 497.9,66.0 499.4,64.0 500.9,61.1 502.4,62.2 504.0,63.6 505.5,64.1 507.0,63.0 508.6,62.5 510.1,61.5 511.6,60.1 513.2,62.2 514.7,60.3 516.2,58.9 517.8,58.2 519.3,58.4 520.8,57.5 522.3,55.5 523.9,58.1 525.4,57.4 526.9,58.5 528.5,58.5 530.0,58.2 531.5,58.8 533.0,57.3 534.6,57.8 536.1,56.3 537.6,57.2 539.2,57.4 540.7,59.1 542.2,58.7 543.8,60.7 545.3,62.3 546.8,63.6 548.4,61.9 549.9,63.9 551.4,64.6 552.9,64.1 554.5,62.0 556.0,60.7 557.5,61.7 559.1,61.9 560.6,61.2 562.1,61.5 563.6,62.5 565.2,61.4 566.7,63.2 568.2,62.9 569.8,64.3 571.3,65.8 572.8,66.8 574.4,65.0 575.9,64.5 577.4,65.0 579.0,63.1 580.5,65.5 582.0,65.8 583.5,67.1 585.1,67.1 586.6,79.3 588.1,77.8 589.7,76.6 591.2,77.1 592.7,74.2 594.2,73.4 595.8,74.8 597.3,73.0 598.8,71.8 600.4,73.1 601.9,74.1 603.4,75.4 605.0,77.1 606.5,74.8 608.0,73.9 609.5,73.4 611.1,72.3 612.6,70.3 614.1,69.8 615.7,67.5 617.2,68.2 618.7,68.7 620.3,69.0 621.8,68.3 623.3,65.9 624.9,67.4 626.4,68.3 627.9,68.8 629.4,68.7 631.0,57.5 632.5,49.3 634.0,52.3 635.6,52.6 637.1,54.0 638.6,57.0 640.1,59.7 641.7,60.6 643.2,60.7 644.7,59.8 646.3,60.0 647.8,62.3 649.3,62.7 650.9,63.2 652.4,64.2 653.9,65.0 655.5,64.0 657.0,55.6 658.5,56.8 660.0,57.0 661.6,57.7 663.1,55.8" stroke="#f7a04a" stroke-opacity="0.14" stroke-width="0.7"/>
<polyline points="479.5,65.2 481.0,66.1 482.6,64.8 484.1,63.6 485.6,63.5 487.1,64.6 488.7,65.7 490.2,67.1 491.7,66.2 493.3,66.8 494.8,68.1 496.3,67.5 497.9,70.3 499.4,70.2 500.9,69.2 502.4,68.2 504.0,68.3 505.5,65.5 507.0,64.6 508.6,65.7 510.1,64.8 511.6,65.1 513.2,66.1 514.7,65.8 516.2,65.7 517.8,64.8 519.3,64.9 520.8,67.4 522.3,66.5 523.9,67.4 525.4,68.5 526.9,67.8 528.5,69.2 530.0,69.1 531.5,68.8 533.0,67.7 534.6,67.9 536.1,66.4 537.6,67.1 539.2,66.8 540.7,66.7 542.2,66.8 543.8,66.0 545.3,66.7 546.8,67.6 548.4,68.5 549.9,70.2 551.4,71.4 552.9,72.3 554.5,71.8 556.0,70.0 557.5,65.7 559.1,58.1 560.6,59.2 562.1,58.1 563.6,58.1 565.2,59.2 566.7,59.6 568.2,57.5 569.8,56.3 571.3,55.3 572.8,47.3 574.4,48.7 575.9,49.1 577.4,50.2 579.0,52.2 580.5,51.5 582.0,52.1 583.5,51.8 585.1,52.8 586.6,54.0 588.1,55.2 589.7,55.7 591.2,55.5 592.7,55.5 594.2,54.7 595.8,54.9 597.3,54.3 598.8,52.4 600.4,52.6 601.9,53.8 603.4,52.8 605.0,54.7 606.5,57.7 608.0,58.2 609.5,61.4 611.1,62.6 612.6,64.5 614.1,65.9 615.7,63.5 617.2,65.2 618.7,67.6 620.3,66.1 621.8,66.9 623.3,55.4 624.9,56.4 626.4,59.0 627.9,58.8 629.4,60.0 631.0,60.2 632.5,59.8 634.0,60.8 635.6,59.8 637.1,58.8 638.6,58.6 640.1,58.3 641.7,59.4 643.2,59.2 644.7,58.7 646.3,57.8 647.8,59.0 649.3,55.6 650.9,56.5 652.4,56.2 653.9,57.5 655.5,57.8 657.0,56.7 658.5,59.6 660.0,59.3 661.6,60.4 663.1,62.9" stroke="#f7a04a" stroke-opacity="0.14" stroke-width="0.7"/>
<polyline points="479.5,59.0 481.0,58.0 482.6,59.1 484.1,60.2 485.6,59.1 487.1,56.1 488.7,54.5 490.2,56.0 491.7,55.9 493.3,58.3 494.8,57.8 496.3,58.7 497.9,58.5 499.4,56.1 500.9,56.4 502.4,55.8 504.0,55.8 505.5,56.6 507.0,56.8 508.6,57.4 510.1,58.6 511.6,59.5 513.2,47.7 514.7,47.7 516.2,49.1 517.8,50.9 519.3,50.2 520.8,47.8 522.3,45.4 523.9,46.4 525.4,47.9 526.9,49.6 528.5,50.3 530.0,53.1 531.5,53.9 533.0,52.5 534.6,53.6 536.1,54.4 537.6,55.5 539.2,55.8 540.7,55.7 542.2,55.3 543.8,57.3 545.3,55.7 546.8,56.1 548.4,55.6 549.9,55.9 551.4,56.3 552.9,58.7 554.5,57.6 556.0,58.0 557.5,56.7 559.1,56.4 560.6,57.0 562.1,55.2 563.6,58.8 565.2,59.4 566.7,57.7 568.2,59.4 569.8,56.8 571.3,59.4 572.8,60.7 574.4,60.3 575.9,58.1 577.4,57.3 579.0,59.4 580.5,59.6 582.0,59.8 583.5,60.4 585.1,60.6 586.6,61.5 588.1,62.8 589.7,63.5 591.2,64.6 592.7,65.4 594.2,64.6 595.8,65.4 597.3,66.1 598.8,63.1 600.4,65.5 601.9,71.7 603.4,61.8 605.0,59.6 606.5,61.7 608.0,64.4 609.5,64.1 611.1,64.0 612.6,62.2 614.1,63.3 615.7,61.2 617.2,60.7 618.7,59.9 620.3,61.2 621.8,61.8 623.3,65.0 624.9,64.0 626.4,63.1 627.9,63.0 629.4,61.4 631.0,60.5 632.5,60.2 634.0,61.0 635.6,61.7 637.1,63.5 638.6,62.8 640.1,67.8 641.7,68.7 643.2,69.9 644.7,69.2 646.3,70.1 647.8,70.1 649.3,71.8 650.9,70.6 652.4,69.0 653.9,67.4 655.5,68.5 657.0,67.6 658.5,68.4 660.0,69.4 661.6,69.2 663.1,67.0" stroke="#f7a04a" stroke-opacity="0.14" stroke-width="0.7"/>
<polyline points="479.5,61.6 481.0,61.6 482.6,49.7 484.1,52.7 485.6,52.1 487.1,51.9 488.7,53.6 490.2,53.2 491.7,55.6 493.3,55.4 494.8,57.9 496.3,58.3 497.9,60.3 499.4,59.5 500.9,61.1 502.4,60.8 504.0,61.1 505.5,58.5 507.0,61.0 508.6,61.0 510.1,62.7 511.6,63.9 513.2,54.2 514.7,52.0 516.2,51.5 517.8,49.2 519.3,49.6 520.8,50.7 522.3,52.7 523.9,54.9 525.4,54.3 526.9,54.5 528.5,48.2 530.0,48.2 531.5,47.3 533.0,47.5 534.6,47.1 536.1,50.1 537.6,55.9 539.2,62.9 540.7,63.2 542.2,63.1 543.8,66.0 545.3,66.2 546.8,65.4 548.4,65.5 549.9,65.7 551.4,66.1 552.9,66.4 554.5,63.8 556.0,62.9 557.5,64.2 559.1,64.7 560.6,65.5 562.1,66.4 563.6,66.3 565.2,64.4 566.7,61.2 568.2,61.6 569.8,59.7 571.3,60.5 572.8,59.5 574.4,59.2 575.9,59.6 577.4,61.0 579.0,60.2 580.5,60.2 582.0,59.6 583.5,58.9 585.1,59.3 586.6,59.7 588.1,60.5 589.7,61.5 591.2,63.4 592.7,62.6 594.2,62.1 595.8,63.9 597.3,63.9 598.8,64.7 600.4,65.7 601.9,64.4 603.4,64.5 605.0,65.8 606.5,64.9 608.0,65.7 609.5,65.4 611.1,65.2 612.6,65.7 614.1,64.5 615.7,67.9 617.2,68.6 618.7,69.7 620.3,68.1 621.8,66.8 623.3,67.1 624.9,68.3 626.4,68.8 627.9,71.6 629.4,71.4 631.0,69.2 632.5,67.8 634.0,65.1 635.6,64.2 637.1,65.2 638.6,63.0 640.1,64.1 641.7,64.8 643.2,65.9 644.7,64.4 646.3,64.4 647.8,63.3 649.3,63.7 650.9,62.6 652.4,62.5 653.9,62.9 655.5,62.9 657.0,64.2 658.5,64.1 660.0,62.2 661.6,62.2 663.1,62.4" stroke="#f7a04a" stroke-opacity="0.14" stroke-width="0.7"/>
<polyline points="479.5,66.3 481.0,66.0 482.6,66.8 484.1,57.9 485.6,57.2 487.1,59.8 488.7,58.9 490.2,59.8 491.7,61.3 493.3,63.0 494.8,61.7 496.3,64.0 497.9,63.9 499.4,54.0 500.9,55.6 502.4,56.6 504.0,58.4 505.5,59.2 507.0,58.4 508.6,58.2 510.1,60.7 511.6,59.7 513.2,59.6 514.7,59.5 516.2,61.3 517.8,63.5 519.3,63.0 520.8,63.9 522.3,62.6 523.9,63.7 525.4,56.2 526.9,57.1 528.5,57.6 530.0,59.4 531.5,61.3 533.0,61.4 534.6,61.2 536.1,61.9 537.6,61.1 539.2,54.0 540.7,55.1 542.2,56.5 543.8,58.7 545.3,59.2 546.8,60.3 548.4,62.8 549.9,60.6 551.4,63.9 552.9,64.5 554.5,64.5 556.0,62.6 557.5,62.9 559.1,63.1 560.6,63.3 562.1,62.9 563.6,61.7 565.2,61.7 566.7,63.0 568.2,61.9 569.8,61.8 571.3,61.6 572.8,61.1 574.4,60.7 575.9,61.1 577.4,62.0 579.0,62.0 580.5,61.8 582.0,63.0 583.5,62.1 585.1,61.2 586.6,61.6 588.1,54.6 589.7,54.5 591.2,54.5 592.7,54.9 594.2,56.2 595.8,57.3 597.3,58.1 598.8,59.0 600.4,61.7 601.9,52.2 603.4,53.8 605.0,57.6 606.5,59.0 608.0,58.8 609.5,58.3 611.1,56.8 612.6,56.8 614.1,55.5 615.7,55.7 617.2,55.2 618.7,55.3 620.3,56.7 621.8,57.0 623.3,60.1 624.9,61.9 626.4,60.5 627.9,60.9 629.4,60.1 631.0,60.9 632.5,63.5 634.0,62.6 635.6,62.4 637.1,60.1 638.6,61.1 640.1,60.0 641.7,61.2 643.2,61.1 644.7,60.7 646.3,60.8 647.8,62.5 649.3,60.5 650.9,62.8 652.4,63.1 653.9,61.7 655.5,60.8 657.0,59.2 658.5,60.4 660.0,60.5 661.6,60.0 663.1,60.6" stroke="#f7a04a" stroke-opacity="0.14" stroke-width="0.7"/>
<polyline points="479.5,68.8 481.0,67.4 482.6,66.8 484.1,66.6 485.6,66.6 487.1,67.2 488.7,65.5 490.2,65.8 491.7,64.4 493.3,65.0 494.8,66.4 496.3,64.8 497.9,65.5 499.4,64.6 500.9,65.6 502.4,63.5 504.0,52.3 505.5,53.0 507.0,53.4 508.6,52.3 510.1,52.6 511.6,53.2 513.2,54.5 514.7,52.2 516.2,54.0 517.8,54.8 519.3,54.5 520.8,56.1 522.3,57.7 523.9,56.9 525.4,57.4 526.9,58.7 528.5,59.9 530.0,56.6 531.5,55.5 533.0,56.8 534.6,59.8 536.1,57.7 537.6,57.6 539.2,56.5 540.7,58.1 542.2,66.3 543.8,66.7 545.3,67.6 546.8,79.7 548.4,79.1 549.9,79.5 551.4,79.0 552.9,77.1 554.5,76.4 556.0,70.9 557.5,70.4 559.1,72.2 560.6,72.2 562.1,71.8 563.6,72.6 565.2,76.2 566.7,76.7 568.2,76.4 569.8,75.2 571.3,74.6 572.8,76.1 574.4,74.8 575.9,74.3 577.4,73.6 579.0,72.0 580.5,71.4 582.0,71.7 583.5,77.6 585.1,75.9 586.6,76.9 588.1,74.9 589.7,72.5 591.2,74.3 592.7,74.9 594.2,74.5 595.8,75.2 597.3,74.3 598.8,72.1 600.4,71.8 601.9,69.3 603.4,70.1 605.0,69.3 606.5,68.1 608.0,67.8 609.5,68.1 611.1,67.4 612.6,67.7 614.1,67.4 615.7,68.2 617.2,69.1 618.7,69.4 620.3,67.5 621.8,66.1 623.3,54.1 624.9,53.9 626.4,56.1 627.9,57.7 629.4,58.6 631.0,58.9 632.5,58.0 634.0,56.5 635.6,57.5 637.1,59.5 638.6,60.0 640.1,59.9 641.7,60.5 643.2,61.5 644.7,60.8 646.3,61.0 647.8,59.6 649.3,56.7 650.9,56.6 652.4,56.8 653.9,58.8 655.5,59.6 657.0,59.1 658.5,61.6 660.0,62.9 661.6,62.5 663.1,52.1" stroke="#f7a04a" stroke-opacity="0.14" stroke-width="0.7"/>
<polyline points="479.5,61.4 481.0,60.5 482.6,59.9 484.1,62.9 485.6,65.0 487.1,65.9 488.7,67.5 490.2,66.2 491.7,65.1 493.3,65.1 494.8,67.2 496.3,65.4 497.9,63.7 499.4,63.5 500.9,63.5 502.4,63.9 504.0,62.4 505.5,64.1 507.0,67.3 508.6,66.9 510.1,70.0 511.6,71.9 513.2,70.7 514.7,70.5 516.2,70.5 517.8,72.0 519.3,72.0 520.8,70.8 522.3,70.6 523.9,69.1 525.4,68.3 526.9,68.7 528.5,68.0 530.0,64.7 531.5,65.6 533.0,66.6 534.6,67.3 536.1,68.5 537.6,68.2 539.2,67.3 540.7,65.4 542.2,67.0 543.8,74.5 545.3,73.8 546.8,76.6 548.4,77.0 549.9,76.7 551.4,76.9 552.9,75.8 554.5,75.0 556.0,75.1 557.5,73.9 559.1,73.9 560.6,71.8 562.1,70.3 563.6,70.1 565.2,70.0 566.7,69.9 568.2,72.2 569.8,73.5 571.3,73.2 572.8,73.6 574.4,73.0 575.9,72.8 577.4,71.6 579.0,70.0 580.5,66.6 582.0,67.5 583.5,67.8 585.1,65.8 586.6,66.2 588.1,67.0 589.7,64.4 591.2,66.8 592.7,66.4 594.2,78.6 595.8,79.9 597.3,78.2 598.8,76.4 600.4,74.8 601.9,73.4 603.4,73.9 605.0,72.6 606.5,72.9 608.0,73.2 609.5,70.4 611.1,69.8 612.6,69.2 614.1,68.2 615.7,68.7 617.2,68.8 618.7,69.5 620.3,69.0 621.8,68.4 623.3,68.7 624.9,69.0 626.4,67.9 627.9,67.0 629.4,66.5 631.0,67.9 632.5,68.4 634.0,68.7 635.6,69.1 637.1,68.2 638.6,68.1 640.1,66.5 641.7,65.6 643.2,64.0 644.7,65.6 646.3,67.2 647.8,65.6 649.3,65.1 650.9,57.1 652.4,57.5 653.9,57.0 655.5,58.4 657.0,58.4 658.5,58.3 660.0,56.6 661.6,56.6 663.1,56.0" stroke="#f7a04a" stroke-opacity="0.14" stroke-width="0.7"/>
<polyline points="479.5,77.0 481.0,76.6 482.6,75.6 484.1,74.9 485.6,75.1 487.1,75.6 488.7,75.7 490.2,74.8 491.7,74.0 493.3,73.7 494.8,72.5 496.3,71.2 497.9,71.9 499.4,70.1 500.9,70.0 502.4,70.3 504.0,70.4 505.5,69.8 507.0,68.1 508.6,68.0 510.1,68.9 511.6,69.1 513.2,68.9 514.7,70.0 516.2,67.2 517.8,66.3 519.3,66.1 520.8,66.0 522.3,64.9 523.9,65.2 525.4,65.9 526.9,66.2 528.5,66.2 530.0,65.9 531.5,66.1 533.0,64.1 534.6,63.3 536.1,65.0 537.6,64.8 539.2,64.7 540.7,64.7 542.2,64.5 543.8,63.2 545.3,62.8 546.8,66.3 548.4,65.5 549.9,65.7 551.4,64.1 552.9,62.9 554.5,62.5 556.0,63.0 557.5,64.3 559.1,66.2 560.6,65.4 562.1,66.5 563.6,66.0 565.2,65.6 566.7,66.0 568.2,62.2 569.8,62.6 571.3,61.3 572.8,59.8 574.4,60.5 575.9,59.7 577.4,60.0 579.0,61.2 580.5,60.5 582.0,62.9 583.5,63.4 585.1,61.4 586.6,62.4 588.1,63.1 589.7,65.4 591.2,64.9 592.7,65.1 594.2,63.2 595.8,62.8 597.3,62.7 598.8,64.4 600.4,65.9 601.9,66.4 603.4,66.2 605.0,66.0 606.5,65.8 608.0,66.1 609.5,65.3 611.1,66.0 612.6,64.7 614.1,66.8 615.7,68.1 617.2,68.1 618.7,68.1 620.3,67.6 621.8,68.6 623.3,66.2 624.9,65.9 626.4,66.5 627.9,66.0 629.4,65.2 631.0,65.2 632.5,65.0 634.0,66.6 635.6,66.6 637.1,69.9 638.6,69.2 640.1,66.3 641.7,68.9 643.2,68.8 644.7,68.8 646.3,69.0 647.8,69.0 649.3,69.4 650.9,66.2 652.4,66.8 653.9,68.4 655.5,67.4 657.0,66.6 658.5,66.1 660.0,65.8 661.6,64.6 663.1,64.0" stroke="#f7a04a" stroke-opacity="0.14" stroke-width="0.7"/>
<polyline points="479.5,68.7 481.0,67.6 482.6,65.6 484.1,67.2 485.6,67.2 487.1,65.8 488.7,64.3 490.2,62.4 491.7,61.3 493.3,62.4 494.8,62.0 496.3,62.8 497.9,61.7 499.4,60.1 500.9,53.2 502.4,54.0 504.0,55.8 505.5,57.2 507.0,57.8 508.6,59.3 510.1,59.5 511.6,59.3 513.2,58.3 514.7,59.5 516.2,57.6 517.8,56.7 519.3,58.5 520.8,58.7 522.3,58.8 523.9,59.9 525.4,60.4 526.9,60.4 528.5,60.0 530.0,60.0 531.5,57.1 533.0,58.3 534.6,59.4 536.1,74.0 537.6,73.3 539.2,71.8 540.7,70.7 542.2,70.6 543.8,69.5 545.3,67.2 546.8,67.0 548.4,66.4 549.9,66.2 551.4,65.3 552.9,63.8 554.5,62.9 556.0,62.7 557.5,64.9 559.1,66.2 560.6,65.3 562.1,64.9 563.6,64.2 565.2,67.1 566.7,67.0 568.2,66.9 569.8,65.8 571.3,66.1 572.8,65.8 574.4,66.2 575.9,65.2 577.4,66.7 579.0,67.5 580.5,66.2 582.0,66.5 583.5,66.5 585.1,65.9 586.6,65.5 588.1,67.2 589.7,65.5 591.2,65.7 592.7,65.6 594.2,65.6 595.8,61.3 597.3,55.1 598.8,53.8 600.4,60.8 601.9,61.2 603.4,59.5 605.0,61.2 606.5,59.2 608.0,59.6 609.5,61.7 611.1,60.4 612.6,62.3 614.1,61.1 615.7,61.1 617.2,62.1 618.7,62.5 620.3,61.3 621.8,64.5 623.3,65.1 624.9,63.3 626.4,64.2 627.9,64.2 629.4,63.6 631.0,63.4 632.5,64.2 634.0,63.0 635.6,64.2 637.1,56.3 638.6,55.7 640.1,56.8 641.7,56.8 643.2,54.2 644.7,56.3 646.3,55.9 647.8,57.4 649.3,57.3 650.9,57.8 652.4,60.5 653.9,61.4 655.5,61.3 657.0,62.9 658.5,63.0 660.0,63.4 661.6,63.2 663.1,64.2" stroke="#f7a04a" stroke-opacity="0.14" stroke-width="0.7"/>
<polyline points="479.5,62.7 481.0,61.5 482.6,60.1 484.1,62.8 485.6,61.9 487.1,64.1 488.7,63.5 490.2,63.8 491.7,63.5 493.3,64.6 494.8,65.3 496.3,66.6 497.9,66.4 499.4,65.8 500.9,67.9 502.4,69.5 504.0,68.8 505.5,66.6 507.0,65.1 508.6,66.5 510.1,66.5 511.6,66.4 513.2,65.9 514.7,65.4 516.2,65.6 517.8,66.8 519.3,66.4 520.8,67.7 522.3,67.2 523.9,68.5 525.4,69.4 526.9,68.8 528.5,69.1 530.0,71.0 531.5,71.4 533.0,71.2 534.6,69.0 536.1,67.6 537.6,67.1 539.2,66.7 540.7,53.7 542.2,52.6 543.8,52.8 545.3,52.6 546.8,54.6 548.4,54.7 549.9,55.8 551.4,55.7 552.9,55.4 554.5,55.6 556.0,56.2 557.5,59.2 559.1,59.6 560.6,58.9 562.1,58.9 563.6,58.9 565.2,58.7 566.7,59.2 568.2,59.1 569.8,59.5 571.3,59.5 572.8,60.8 574.4,60.7 575.9,60.8 577.4,59.4 579.0,59.7 580.5,61.0 582.0,61.7 583.5,63.2 585.1,63.9 586.6,64.0 588.1,53.4 589.7,55.5 591.2,57.9 592.7,59.8 594.2,59.7 595.8,60.9 597.3,59.4 598.8,59.0 600.4,59.5 601.9,59.9 603.4,59.3 605.0,58.8 606.5,57.5 608.0,57.4 609.5,56.9 611.1,57.9 612.6,60.1 614.1,60.7 615.7,62.3 617.2,62.3 618.7,63.9 620.3,63.4 621.8,62.5 623.3,62.4 624.9,60.8 626.4,53.1 627.9,51.7 629.4,53.2 631.0,53.6 632.5,56.4 634.0,58.1 635.6,59.0 637.1,58.8 638.6,61.2 640.1,61.6 641.7,61.1 643.2,62.7 644.7,60.8 646.3,61.7 647.8,63.5 649.3,64.1 650.9,63.5 652.4,63.1 653.9,63.0 655.5,62.0 657.0,62.6 658.5,63.2 660.0,64.1 661.6,63.8 663.1,64.5" stroke="#f7a04a" stroke-opacity="0.14" stroke-width="0.7"/>
<polyline points="479.5,59.8 481.0,59.2 482.6,57.1 484.1,56.9 485.6,57.9 487.1,59.0 488.7,53.7 490.2,53.8 491.7,54.6 493.3,56.0 494.8,53.8 496.3,52.6 497.9,39.3 499.4,40.6 500.9,42.2 502.4,42.3 504.0,44.1 505.5,44.7 507.0,45.9 508.6,46.1 510.1,48.7 511.6,48.2 513.2,52.2 514.7,53.4 516.2,54.8 517.8,57.5 519.3,57.3 520.8,56.9 522.3,59.4 523.9,58.9 525.4,59.6 526.9,60.2 528.5,60.3 530.0,60.0 531.5,60.0 533.0,59.5 534.6,60.4 536.1,59.8 537.6,60.5 539.2,50.2 540.7,40.4 542.2,43.4 543.8,44.8 545.3,44.6 546.8,43.7 548.4,45.3 549.9,48.8 551.4,51.7 552.9,53.5 554.5,51.5 556.0,51.2 557.5,52.6 559.1,54.9 560.6,54.1 562.1,56.4 563.6,58.0 565.2,60.4 566.7,60.3 568.2,60.5 569.8,60.7 571.3,61.1 572.8,58.7 574.4,59.0 575.9,59.7 577.4,59.0 579.0,61.1 580.5,61.7 582.0,63.0 583.5,63.3 585.1,63.7 586.6,63.8 588.1,64.2 589.7,61.5 591.2,60.7 592.7,61.9 594.2,61.6 595.8,63.4 597.3,62.8 598.8,62.4 600.4,61.3 601.9,62.8 603.4,74.6 605.0,74.5 606.5,76.2 608.0,73.4 609.5,75.6 611.1,74.4 612.6,73.5 614.1,71.6 615.7,71.4 617.2,70.2 618.7,70.2 620.3,68.3 621.8,68.8 623.3,66.2 624.9,65.0 626.4,63.9 627.9,65.0 629.4,65.6 631.0,66.2 632.5,65.6 634.0,65.1 635.6,65.4 637.1,66.4 638.6,65.3 640.1,67.9 641.7,68.6 643.2,78.7 644.7,79.9 646.3,78.9 647.8,79.4 649.3,79.4 650.9,79.6 652.4,79.1 653.9,77.5 655.5,78.9 657.0,79.0 658.5,74.3 660.0,74.4 661.6,72.8 663.1,74.8" stroke="#f7a04a" stroke-opacity="0.14" stroke-width="0.7"/>
<polyline points="479.5,55.8 481.0,56.3 482.6,57.0 484.1,57.5 485.6,57.4 487.1,57.2 488.7,56.2 490.2,56.6 491.7,56.6 493.3,55.9 494.8,55.0 496.3,55.4 497.9,53.4 499.4,56.2 500.9,55.6 502.4,54.9 504.0,54.8 505.5,56.0 507.0,56.1 508.6,57.3 510.1,55.2 511.6,51.9 513.2,54.4 514.7,53.6 516.2,54.6 517.8,54.9 519.3,54.5 520.8,55.5 522.3,42.2 523.9,44.0 525.4,42.8 526.9,43.5 528.5,44.4 530.0,47.8 531.5,48.6 533.0,48.2 534.6,51.7 536.1,52.9 537.6,52.5 539.2,52.9 540.7,53.4 542.2,56.4 543.8,55.2 545.3,55.4 546.8,55.0 548.4,57.5 549.9,58.7 551.4,59.6 552.9,58.3 554.5,58.9 556.0,58.8 557.5,59.5 559.1,58.0 560.6,58.0 562.1,56.6 563.6,57.1 565.2,56.8 566.7,57.1 568.2,58.4 569.8,60.4 571.3,58.2 572.8,59.0 574.4,57.1 575.9,57.8 577.4,60.3 579.0,53.5 580.5,53.1 582.0,52.8 583.5,52.0 585.1,51.7 586.6,53.7 588.1,59.9 589.7,58.7 591.2,56.8 592.7,57.3 594.2,59.3 595.8,61.4 597.3,60.5 598.8,59.8 600.4,59.3 601.9,59.0 603.4,64.6 605.0,65.3 606.5,65.7 608.0,64.8 609.5,65.2 611.1,65.5 612.6,67.5 614.1,66.1 615.7,63.9 617.2,64.2 618.7,62.6 620.3,66.0 621.8,67.5 623.3,69.1 624.9,68.7 626.4,72.0 627.9,72.3 629.4,71.6 631.0,70.2 632.5,67.8 634.0,66.4 635.6,65.8 637.1,67.4 638.6,66.6 640.1,67.6 641.7,67.0 643.2,68.3 644.7,68.2 646.3,68.4 647.8,68.2 649.3,68.4 650.9,69.1 652.4,69.2 653.9,68.7 655.5,66.1 657.0,65.2 658.5,65.0 660.0,65.3 661.6,64.4 663.1,60.7" stroke="#f7a04a" stroke-opacity="0.14" stroke-width="0.7"/>
<polyline points="479.5,69.1 481.0,70.8 482.6,70.7 484.1,71.6 485.6,72.5 487.1,72.2 488.7,71.6 490.2,70.9 491.7,71.3 493.3,71.5 494.8,72.8 496.3,72.8 497.9,72.4 499.4,71.9 500.9,71.0 502.4,70.6 504.0,71.3 505.5,72.8 507.0,72.8 508.6,71.7 510.1,70.6 511.6,67.4 513.2,67.4 514.7,69.2 516.2,70.1 517.8,68.0 519.3,70.9 520.8,70.0 522.3,68.9 523.9,69.6 525.4,69.6 526.9,70.6 528.5,69.9 530.0,70.2 531.5,70.1 533.0,70.7 534.6,69.5 536.1,78.0 537.6,75.6 539.2,74.7 540.7,75.4 542.2,76.0 543.8,74.0 545.3,70.8 546.8,72.2 548.4,71.2 549.9,71.9 551.4,72.0 552.9,71.2 554.5,69.2 556.0,68.3 557.5,69.5 559.1,67.4 560.6,68.0 562.1,70.4 563.6,69.7 565.2,70.1 566.7,70.9 568.2,69.6 569.8,67.2 571.3,66.9 572.8,66.9 574.4,64.6 575.9,64.2 577.4,65.1 579.0,65.3 580.5,66.1 582.0,65.0 583.5,64.6 585.1,64.4 586.6,62.7 588.1,62.8 589.7,60.9 591.2,61.9 592.7,62.4 594.2,59.7 595.8,57.7 597.3,59.6 598.8,58.6 600.4,59.3 601.9,58.4 603.4,58.1 605.0,59.5 606.5,58.1 608.0,59.2 609.5,52.1 611.1,44.1 612.6,47.5 614.1,47.3 615.7,47.8 617.2,50.3 618.7,51.0 620.3,52.1 621.8,53.1 623.3,52.9 624.9,55.5 626.4,55.8 627.9,58.5 629.4,58.3 631.0,59.0 632.5,59.3 634.0,58.5 635.6,59.3 637.1,59.3 638.6,60.6 640.1,59.7 641.7,61.1 643.2,62.4 644.7,63.3 646.3,65.4 647.8,67.1 649.3,69.0 650.9,67.0 652.4,68.5 653.9,69.5 655.5,69.8 657.0,67.8 658.5,67.8 660.0,66.9 661.6,65.7 663.1,61.9" stroke="#f7a04a" stroke-opacity="0.14" stroke-width="0.7"/>
<polyline points="479.5,60.7 481.0,60.8 482.6,62.9 484.1,62.2 485.6,61.6 487.1,60.1 488.7,61.4 490.2,62.0 491.7,61.2 493.3,60.6 494.8,59.8 496.3,71.4 497.9,69.5 499.4,69.4 500.9,68.8 502.4,66.9 504.0,66.6 505.5,68.4 507.0,69.2 508.6,68.6 510.1,67.9 511.6,68.9 513.2,69.0 514.7,67.9 516.2,67.2 517.8,64.9 519.3,64.1 520.8,64.7 522.3,64.6 523.9,66.3 525.4,65.2 526.9,66.1 528.5,66.5 530.0,66.5 531.5,64.6 533.0,65.7 534.6,66.5 536.1,66.3 537.6,64.0 539.2,62.6 540.7,60.8 542.2,60.3 543.8,61.6 545.3,62.8 546.8,62.6 548.4,66.1 549.9,66.2 551.4,62.5 552.9,63.7 554.5,66.3 556.0,65.7 557.5,64.8 559.1,65.9 560.6,65.1 562.1,66.3 563.6,63.8 565.2,64.1 566.7,65.0 568.2,64.4 569.8,62.7 571.3,63.7 572.8,65.0 574.4,69.0 575.9,69.0 577.4,68.0 579.0,69.4 580.5,69.5 582.0,68.8 583.5,69.6 585.1,70.8 586.6,69.8 588.1,69.8 589.7,69.3 591.2,68.7 592.7,68.0 594.2,68.1 595.8,67.3 597.3,66.6 598.8,68.5 600.4,68.2 601.9,69.6 603.4,67.9 605.0,66.9 606.5,65.6 608.0,66.2 609.5,64.4 611.1,66.0 612.6,64.0 614.1,64.7 615.7,65.0 617.2,64.8 618.7,66.2 620.3,68.0 621.8,69.2 623.3,68.8 624.9,67.8 626.4,68.8 627.9,66.6 629.4,65.9 631.0,65.4 632.5,63.5 634.0,65.8 635.6,65.1 637.1,63.6 638.6,63.2 640.1,63.2 641.7,64.4 643.2,63.5 644.7,73.0 646.3,74.4 647.8,75.3 649.3,73.0 650.9,71.6 652.4,71.6 653.9,71.0 655.5,68.6 657.0,68.4 658.5,68.6 660.0,67.2 661.6,67.1 663.1,65.4" stroke="#f7a04a" stroke-opacity="0.14" stroke-width="0.7"/>
<polyline points="479.5,60.9 481.0,60.1 482.6,61.8 484.1,62.7 485.6,62.4 487.1,64.3 488.7,64.9 490.2,63.6 491.7,63.2 493.3,62.9 494.8,61.1 496.3,63.6 497.9,61.6 499.4,62.2 500.9,61.4 502.4,59.3 504.0,60.0 505.5,59.4 507.0,59.0 508.6,71.6 510.1,73.1 511.6,73.2 513.2,73.8 514.7,72.5 516.2,72.3 517.8,73.7 519.3,75.2 520.8,77.0 522.3,77.5 523.9,76.1 525.4,76.9 526.9,75.1 528.5,75.4 530.0,73.9 531.5,73.9 533.0,72.2 534.6,71.8 536.1,71.6 537.6,68.6 539.2,69.5 540.7,67.5 542.2,67.4 543.8,67.6 545.3,65.2 546.8,67.7 548.4,68.3 549.9,68.5 551.4,67.4 552.9,68.7 554.5,70.2 556.0,69.6 557.5,69.5 559.1,68.6 560.6,70.2 562.1,70.8 563.6,60.7 565.2,58.5 566.7,59.2 568.2,62.7 569.8,62.7 571.3,63.1 572.8,62.9 574.4,75.4 575.9,75.5 577.4,73.7 579.0,74.5 580.5,73.9 582.0,74.2 583.5,75.6 585.1,72.8 586.6,71.1 588.1,71.4 589.7,71.5 591.2,69.8 592.7,69.5 594.2,67.2 595.8,67.9 597.3,68.3 598.8,67.9 600.4,68.1 601.9,68.1 603.4,68.5 605.0,69.1 606.5,68.9 608.0,67.9 609.5,67.5 611.1,67.4 612.6,68.0 614.1,68.2 615.7,68.2 617.2,67.2 618.7,66.9 620.3,67.6 621.8,68.6 623.3,68.5 624.9,68.2 626.4,76.2 627.9,75.1 629.4,76.1 631.0,72.7 632.5,71.9 634.0,71.4 635.6,70.3 637.1,68.4 638.6,69.2 640.1,70.7 641.7,70.7 643.2,70.7 644.7,70.2 646.3,70.3 647.8,68.7 649.3,65.6 650.9,64.2 652.4,64.5 653.9,64.8 655.5,64.4 657.0,64.9 658.5,63.2 660.0,62.1 661.6,62.4 663.1,62.4" stroke="#f7a04a" stroke-opacity="0.14" stroke-width="0.7"/>
<polyline points="479.5,68.7 481.0,69.3 482.6,54.2 484.1,56.7 485.6,56.2 487.1,56.1 488.7,57.2 490.2,56.0 491.7,55.8 493.3,58.0 494.8,57.3 496.3,56.4 497.9,55.7 499.4,57.2 500.9,56.7 502.4,57.2 504.0,58.0 505.5,58.1 507.0,59.4 508.6,60.3 510.1,62.7 511.6,63.3 513.2,63.7 514.7,64.2 516.2,63.9 517.8,64.5 519.3,65.5 520.8,66.3 522.3,66.5 523.9,66.5 525.4,66.0 526.9,64.4 528.5,63.0 530.0,62.4 531.5,60.3 533.0,62.4 534.6,61.6 536.1,59.8 537.6,58.4 539.2,59.6 540.7,59.9 542.2,58.8 543.8,59.7 545.3,61.5 546.8,61.4 548.4,59.2 549.9,58.7 551.4,58.8 552.9,57.0 554.5,59.1 556.0,59.1 557.5,58.7 559.1,58.4 560.6,59.1 562.1,59.6 563.6,63.2 565.2,63.2 566.7,63.2 568.2,62.4 569.8,61.7 571.3,72.5 572.8,72.8 574.4,73.0 575.9,73.8 577.4,73.5 579.0,73.1 580.5,73.2 582.0,73.4 583.5,70.9 585.1,70.7 586.6,69.3 588.1,69.6 589.7,69.6 591.2,67.7 592.7,66.0 594.2,64.5 595.8,66.8 597.3,65.3 598.8,67.2 600.4,67.0 601.9,69.7 603.4,70.1 605.0,69.1 606.5,68.7 608.0,69.6 609.5,71.7 611.1,73.5 612.6,62.6 614.1,60.1 615.7,59.3 617.2,59.2 618.7,60.9 620.3,61.4 621.8,62.2 623.3,63.8 624.9,63.8 626.4,66.1 627.9,66.1 629.4,67.8 631.0,67.8 632.5,64.8 634.0,65.4 635.6,64.8 637.1,65.3 638.6,63.8 640.1,66.6 641.7,64.7 643.2,63.7 644.7,50.2 646.3,50.6 647.8,52.5 649.3,54.6 650.9,57.6 652.4,57.3 653.9,55.5 655.5,56.5 657.0,52.7 658.5,55.2 660.0,56.5 661.6,62.9 663.1,61.5" stroke="#f7a04a" stroke-opacity="0.14" stroke-width="0.7"/>
<polyline points="479.5,70.9 481.0,70.5 482.6,72.5 484.1,72.1 485.6,72.1 487.1,73.3 488.7,75.9 490.2,73.8 491.7,74.3 493.3,74.7 494.8,73.7 496.3,73.7 497.9,72.5 499.4,71.7 500.9,70.5 502.4,69.9 504.0,67.6 505.5,68.3 507.0,69.4 508.6,69.0 510.1,69.5 511.6,69.1 513.2,69.4 514.7,69.0 516.2,77.8 517.8,76.5 519.3,75.8 520.8,74.9 522.3,76.3 523.9,77.1 525.4,75.9 526.9,76.3 528.5,76.4 530.0,76.4 531.5,74.1 533.0,75.1 534.6,74.1 536.1,73.4 537.6,72.3 539.2,73.8 540.7,73.0 542.2,73.0 543.8,65.6 545.3,67.2 546.8,67.4 548.4,65.9 549.9,66.0 551.4,66.5 552.9,67.3 554.5,65.6 556.0,65.3 557.5,66.1 559.1,67.2 560.6,66.7 562.1,65.1 563.6,66.6 565.2,66.0 566.7,68.5 568.2,67.5 569.8,69.9 571.3,68.0 572.8,67.4 574.4,69.0 575.9,68.9 577.4,70.7 579.0,70.3 580.5,69.8 582.0,68.8 583.5,68.5 585.1,67.8 586.6,67.4 588.1,69.4 589.7,71.8 591.2,71.1 592.7,70.4 594.2,71.5 595.8,72.0 597.3,70.9 598.8,70.6 600.4,72.7 601.9,72.5 603.4,73.7 605.0,72.7 606.5,73.9 608.0,71.7 609.5,71.7 611.1,72.0 612.6,69.3 614.1,69.3 615.7,68.2 617.2,68.5 618.7,68.4 620.3,69.5 621.8,69.8 623.3,65.4 624.9,64.5 626.4,64.6 627.9,66.2 629.4,66.8 631.0,66.5 632.5,68.1 634.0,67.4 635.6,67.3 637.1,63.9 638.6,64.8 640.1,64.8 641.7,65.2 643.2,63.5 644.7,66.3 646.3,66.7 647.8,64.7 649.3,63.4 650.9,63.1 652.4,63.7 653.9,64.3 655.5,66.2 657.0,64.2 658.5,66.2 660.0,65.9 661.6,65.5 663.1,64.8" stroke="#f7a04a" stroke-opacity="0.14" stroke-width="0.7"/>
<polyline points="479.5,60.8 481.0,61.9 482.6,62.6 484.1,62.0 485.6,63.2 487.1,64.4 488.7,67.3 490.2,66.8 491.7,66.8 493.3,65.5 494.8,66.9 496.3,65.4 497.9,66.9 499.4,66.3 500.9,65.1 502.4,65.8 504.0,65.5 505.5,63.4 507.0,63.0 508.6,65.0 510.1,63.4 511.6,62.9 513.2,62.7 514.7,62.7 516.2,61.3 517.8,60.9 519.3,62.6 520.8,64.3 522.3,66.0 523.9,67.0 525.4,66.7 526.9,65.6 528.5,77.7 530.0,66.0 531.5,64.8 533.0,65.9 534.6,65.5 536.1,66.4 537.6,68.8 539.2,68.6 540.7,68.8 542.2,69.7 543.8,65.1 545.3,63.1 546.8,60.5 548.4,60.7 549.9,63.0 551.4,64.0 552.9,63.9 554.5,64.6 556.0,64.4 557.5,62.4 559.1,62.2 560.6,63.4 562.1,65.3 563.6,67.0 565.2,67.4 566.7,68.2 568.2,67.1 569.8,66.7 571.3,65.5 572.8,65.3 574.4,62.8 575.9,61.3 577.4,60.9 579.0,59.6 580.5,62.9 582.0,64.9 583.5,64.5 585.1,64.9 586.6,63.6 588.1,64.4 589.7,66.1 591.2,66.9 592.7,67.8 594.2,66.6 595.8,67.6 597.3,67.2 598.8,69.4 600.4,68.9 601.9,70.1 603.4,69.8 605.0,69.6 606.5,71.0 608.0,70.8 609.5,72.9 611.1,77.3 612.6,76.5 614.1,73.6 615.7,73.6 617.2,74.6 618.7,73.5 620.3,73.2 621.8,72.5 623.3,69.3 624.9,67.8 626.4,67.5 627.9,67.3 629.4,79.3 631.0,77.6 632.5,77.1 634.0,77.5 635.6,78.0 637.1,75.2 638.6,73.2 640.1,73.1 641.7,72.2 643.2,73.8 644.7,74.6 646.3,75.3 647.8,75.6 649.3,73.0 650.9,71.1 652.4,71.3 653.9,71.6 655.5,70.8 657.0,71.0 658.5,71.6 660.0,69.8 661.6,69.2 663.1,62.1" stroke="#f7a04a" stroke-opacity="0.14" stroke-width="0.7"/>
<polyline points="479.5,65.7 481.0,65.9 482.6,67.0 484.1,66.1 485.6,64.9 487.1,65.9 488.7,64.7 490.2,65.0 491.7,65.7 493.3,64.7 494.8,64.0 496.3,63.6 497.9,63.4 499.4,63.2 500.9,64.7 502.4,67.4 504.0,67.7 505.5,67.6 507.0,65.1 508.6,66.7 510.1,64.7 511.6,54.1 513.2,56.1 514.7,57.5 516.2,56.9 517.8,58.7 519.3,60.7 520.8,60.7 522.3,62.3 523.9,62.0 525.4,63.9 526.9,62.7 528.5,63.8 530.0,64.1 531.5,63.4 533.0,65.4 534.6,65.7 536.1,63.9 537.6,64.3 539.2,65.7 540.7,66.2 542.2,66.1 543.8,67.4 545.3,67.2 546.8,68.6 548.4,68.2 549.9,69.6 551.4,68.7 552.9,68.4 554.5,67.2 556.0,65.6 557.5,66.8 559.1,64.5 560.6,63.8 562.1,63.1 563.6,63.4 565.2,63.4 566.7,65.5 568.2,65.3 569.8,65.4 571.3,65.2 572.8,56.2 574.4,55.4 575.9,54.9 577.4,56.0 579.0,56.9 580.5,56.8 582.0,56.5 583.5,59.2 585.1,57.6 586.6,57.5 588.1,58.5 589.7,57.6 591.2,57.8 592.7,57.0 594.2,56.9 595.8,59.0 597.3,58.5 598.8,58.0 600.4,57.2 601.9,58.9 603.4,59.6 605.0,58.9 606.5,59.4 608.0,60.5 609.5,60.4 611.1,60.0 612.6,61.5 614.1,59.4 615.7,59.5 617.2,60.4 618.7,48.1 620.3,49.1 621.8,48.8 623.3,49.6 624.9,50.0 626.4,50.7 627.9,52.1 629.4,51.9 631.0,56.0 632.5,55.7 634.0,53.7 635.6,53.9 637.1,54.7 638.6,54.5 640.1,54.5 641.7,53.5 643.2,46.2 644.7,47.5 646.3,47.7 647.8,49.9 649.3,51.2 650.9,50.8 652.4,50.8 653.9,52.0 655.5,49.1 657.0,52.3 658.5,54.0 660.0,56.5 661.6,57.1 663.1,57.1" stroke="#f7a04a" stroke-opacity="0.14" stroke-width="0.7"/>
<polyline points="479.5,61.1 481.0,61.7 482.6,61.5 484.1,61.1 485.6,59.5 487.1,60.3 488.7,58.4 490.2,58.0 491.7,59.4 493.3,59.8 494.8,60.8 496.3,60.7 497.9,62.0 499.4,63.2 500.9,64.7 502.4,65.6 504.0,65.0 505.5,64.5 507.0,66.3 508.6,66.2 510.1,65.5 511.6,67.0 513.2,68.8 514.7,62.3 516.2,61.7 517.8,62.1 519.3,61.5 520.8,62.4 522.3,60.6 523.9,60.2 525.4,68.2 526.9,68.4 528.5,68.9 530.0,69.5 531.5,67.9 533.0,69.1 534.6,68.8 536.1,70.3 537.6,68.7 539.2,69.7 540.7,68.9 542.2,69.0 543.8,65.9 545.3,64.6 546.8,63.4 548.4,73.3 549.9,71.6 551.4,62.5 552.9,63.3 554.5,66.2 556.0,63.5 557.5,62.7 559.1,62.4 560.6,53.8 562.1,53.1 563.6,51.8 565.2,54.0 566.7,57.5 568.2,56.8 569.8,54.7 571.3,55.2 572.8,52.5 574.4,50.6 575.9,49.7 577.4,51.0 579.0,50.8 580.5,54.3 582.0,55.0 583.5,55.8 585.1,56.3 586.6,50.2 588.1,51.1 589.7,50.8 591.2,51.1 592.7,52.3 594.2,53.7 595.8,47.0 597.3,48.9 598.8,42.5 600.4,40.4 601.9,40.6 603.4,41.6 605.0,41.9 606.5,42.8 608.0,39.1 609.5,39.6 611.1,39.7 612.6,41.0 614.1,41.9 615.7,41.1 617.2,41.4 618.7,41.5 620.3,43.5 621.8,43.4 623.3,45.4 624.9,46.2 626.4,47.0 627.9,47.2 629.4,46.9 631.0,46.6 632.5,44.5 634.0,46.1 635.6,47.4 637.1,47.2 638.6,48.6 640.1,49.6 641.7,48.8 643.2,47.6 644.7,48.3 646.3,50.8 647.8,51.1 649.3,53.6 650.9,55.1 652.4,53.8 653.9,53.8 655.5,53.1 657.0,51.0 658.5,52.4 660.0,53.1 661.6,53.0 663.1,53.4" stroke="#f7a04a" stroke-opacity="0.14" stroke-width="0.7"/>
<polyline points="479.5,59.4 481.0,57.4 482.6,58.8 484.1,60.4 485.6,62.0 487.1,62.5 488.7,61.3 490.2,60.1 491.7,59.5 493.3,61.5 494.8,61.5 496.3,58.9 497.9,58.5 499.4,56.9 500.9,56.8 502.4,55.1 504.0,56.6 505.5,56.0 507.0,55.8 508.6,57.2 510.1,54.9 511.6,56.2 513.2,56.3 514.7,56.0 516.2,55.8 517.8,55.7 519.3,57.3 520.8,57.0 522.3,55.2 523.9,56.5 525.4,54.4 526.9,56.8 528.5,56.3 530.0,58.5 531.5,60.8 533.0,61.5 534.6,60.6 536.1,59.5 537.6,60.1 539.2,61.9 540.7,62.9 542.2,63.8 543.8,64.3 545.3,61.6 546.8,59.9 548.4,59.4 549.9,57.9 551.4,56.9 552.9,55.9 554.5,55.5 556.0,55.1 557.5,56.8 559.1,60.7 560.6,62.0 562.1,61.3 563.6,62.1 565.2,60.0 566.7,60.7 568.2,60.3 569.8,58.9 571.3,58.3 572.8,59.3 574.4,58.9 575.9,58.0 577.4,59.4 579.0,61.5 580.5,61.8 582.0,62.5 583.5,62.5 585.1,61.8 586.6,63.6 588.1,65.8 589.7,64.8 591.2,63.8 592.7,62.2 594.2,61.4 595.8,54.0 597.3,55.3 598.8,57.1 600.4,57.5 601.9,49.9 603.4,49.6 605.0,49.2 606.5,50.9 608.0,51.9 609.5,51.6 611.1,52.2 612.6,50.0 614.1,51.9 615.7,52.9 617.2,53.4 618.7,53.0 620.3,55.2 621.8,56.1 623.3,64.1 624.9,64.9 626.4,65.6 627.9,55.0 629.4,55.1 631.0,53.9 632.5,46.2 634.0,46.7 635.6,49.2 637.1,50.1 638.6,52.0 640.1,53.2 641.7,54.5 643.2,55.4 644.7,56.0 646.3,57.1 647.8,60.6 649.3,63.1 650.9,64.2 652.4,70.7 653.9,70.7 655.5,71.2 657.0,70.0 658.5,70.2 660.0,69.1 661.6,68.1 663.1,67.6" stroke="#f7a04a" stroke-opacity="0.14" stroke-width="0.7"/>
<polyline points="479.5,59.9 481.0,59.9 482.6,59.5 484.1,59.3 485.6,67.1 487.1,66.9 488.7,67.0 490.2,68.4 491.7,68.1 493.3,68.9 494.8,69.7 496.3,70.7 497.9,70.2 499.4,68.9 500.9,68.4 502.4,68.3 504.0,68.6 505.5,69.5 507.0,67.7 508.6,67.6 510.1,66.8 511.6,65.9 513.2,64.8 514.7,65.0 516.2,66.1 517.8,68.3 519.3,65.9 520.8,61.2 522.3,61.5 523.9,59.7 525.4,61.6 526.9,62.1 528.5,62.2 530.0,62.5 531.5,59.4 533.0,45.5 534.6,47.8 536.1,46.7 537.6,47.5 539.2,48.8 540.7,50.7 542.2,51.3 543.8,51.6 545.3,49.1 546.8,52.4 548.4,50.5 549.9,49.6 551.4,50.5 552.9,53.2 554.5,51.8 556.0,53.1 557.5,53.5 559.1,54.2 560.6,54.3 562.1,57.1 563.6,45.6 565.2,48.0 566.7,50.7 568.2,51.2 569.8,52.7 571.3,54.9 572.8,55.3 574.4,54.6 575.9,55.9 577.4,57.6 579.0,57.9 580.5,60.7 582.0,55.2 583.5,55.9 585.1,57.3 586.6,50.7 588.1,50.7 589.7,52.8 591.2,53.3 592.7,52.8 594.2,52.5 595.8,51.5 597.3,52.2 598.8,53.7 600.4,51.6 601.9,53.8 603.4,53.7 605.0,56.3 606.5,54.7 608.0,55.8 609.5,55.7 611.1,57.1 612.6,55.3 614.1,57.0 615.7,56.1 617.2,57.1 618.7,55.0 620.3,57.3 621.8,60.3 623.3,59.9 624.9,59.7 626.4,60.5 627.9,60.9 629.4,60.0 631.0,60.6 632.5,61.0 634.0,62.0 635.6,64.3 637.1,65.7 638.6,64.0 640.1,63.9 641.7,62.3 643.2,62.7 644.7,63.6 646.3,63.4 647.8,53.8 649.3,54.9 650.9,55.8 652.4,56.6 653.9,56.0 655.5,58.6 657.0,57.5 658.5,54.6 660.0,56.5 661.6,56.7 663.1,58.9" stroke="#f7a04a" stroke-opacity="0.14" stroke-width="0.7"/>
<polyline points="479.5,62.4 481.0,61.4 482.6,62.9 484.1,64.5 485.6,64.9 487.1,63.5 488.7,61.9 490.2,62.5 491.7,65.2 493.3,65.2 494.8,64.2 496.3,63.7 497.9,61.2 499.4,58.9 500.9,59.3 502.4,60.9 504.0,62.6 505.5,66.4 507.0,64.9 508.6,66.3 510.1,68.0 511.6,74.0 513.2,74.6 514.7,75.1 516.2,74.0 517.8,72.7 519.3,71.3 520.8,72.8 522.3,72.2 523.9,71.3 525.4,69.5 526.9,69.1 528.5,70.4 530.0,71.3 531.5,73.0 533.0,73.0 534.6,73.3 536.1,73.1 537.6,73.2 539.2,72.0 540.7,70.4 542.2,69.6 543.8,68.7 545.3,70.0 546.8,71.2 548.4,73.5 549.9,73.7 551.4,74.6 552.9,70.7 554.5,70.8 556.0,71.5 557.5,71.0 559.1,70.7 560.6,70.3 562.1,67.8 563.6,66.4 565.2,65.6 566.7,65.8 568.2,66.8 569.8,67.3 571.3,66.2 572.8,66.9 574.4,68.5 575.9,69.7 577.4,71.5 579.0,70.8 580.5,70.1 582.0,70.3 583.5,72.7 585.1,73.7 586.6,72.5 588.1,72.7 589.7,73.0 591.2,74.8 592.7,74.2 594.2,74.0 595.8,72.7 597.3,73.5 598.8,74.1 600.4,73.4 601.9,70.6 603.4,71.2 605.0,70.4 606.5,67.5 608.0,67.2 609.5,68.1 611.1,67.2 612.6,66.0 614.1,66.8 615.7,68.2 617.2,68.2 618.7,69.1 620.3,67.1 621.8,67.0 623.3,66.3 624.9,65.7 626.4,67.4 627.9,69.4 629.4,70.2 631.0,70.7 632.5,70.4 634.0,73.8 635.6,73.2 637.1,74.1 638.6,73.3 640.1,66.2 641.7,68.1 643.2,69.7 644.7,70.1 646.3,71.3 647.8,69.8 649.3,69.6 650.9,70.1 652.4,69.6 653.9,68.2 655.5,69.0 657.0,68.4 658.5,69.6 660.0,69.8 661.6,69.8 663.1,67.8" stroke="#f7a04a" stroke-opacity="0.14" stroke-width="0.7"/>
<polyline points="479.5,64.3 481.0,63.5 482.6,64.5 484.1,66.2 485.6,64.5 487.1,64.6 488.7,63.8 490.2,66.7 491.7,68.4 493.3,70.3 494.8,69.0 496.3,68.5 497.9,69.8 499.4,68.8 500.9,69.4 502.4,70.5 504.0,69.2 505.5,69.5 507.0,70.5 508.6,69.9 510.1,67.9 511.6,68.6 513.2,68.5 514.7,68.9 516.2,73.8 517.8,74.8 519.3,73.6 520.8,70.4 522.3,70.1 523.9,68.3 525.4,77.5 526.9,77.0 528.5,75.8 530.0,76.4 531.5,75.8 533.0,76.8 534.6,76.0 536.1,74.3 537.6,75.0 539.2,76.4 540.7,74.5 542.2,74.9 543.8,76.7 545.3,77.0 546.8,74.6 548.4,73.6 549.9,72.4 551.4,71.5 552.9,70.1 554.5,69.7 556.0,57.5 557.5,58.2 559.1,58.2 560.6,59.0 562.1,58.8 563.6,58.4 565.2,59.2 566.7,60.2 568.2,60.6 569.8,59.7 571.3,62.2 572.8,62.0 574.4,61.6 575.9,59.7 577.4,58.8 579.0,58.7 580.5,57.6 582.0,58.3 583.5,56.0 585.1,55.9 586.6,56.8 588.1,58.4 589.7,59.0 591.2,59.3 592.7,61.0 594.2,62.8 595.8,61.1 597.3,60.6 598.8,59.8 600.4,60.9 601.9,59.0 603.4,59.9 605.0,60.4 606.5,60.6 608.0,61.0 609.5,63.1 611.1,63.4 612.6,62.7 614.1,61.9 615.7,60.8 617.2,60.6 618.7,60.7 620.3,59.1 621.8,56.8 623.3,57.7 624.9,57.3 626.4,58.0 627.9,60.1 629.4,58.6 631.0,56.2 632.5,51.8 634.0,52.4 635.6,52.4 637.1,53.1 638.6,55.1 640.1,58.2 641.7,59.3 643.2,59.8 644.7,60.6 646.3,59.0 647.8,58.1 649.3,56.7 650.9,56.9 652.4,56.9 653.9,56.9 655.5,58.5 657.0,59.1 658.5,57.9 660.0,65.4 661.6,63.3 663.1,62.5" stroke="#f7a04a" stroke-opacity="0.14" stroke-width="0.7"/>
<polyline points="479.5,70.5 481.0,69.0 482.6,71.5 484.1,71.1 485.6,69.6 487.1,72.1 488.7,71.0 490.2,69.3 491.7,68.3 493.3,68.3 494.8,68.8 496.3,67.0 497.9,65.9 499.4,66.0 500.9,67.6 502.4,60.4 504.0,62.2 505.5,63.2 507.0,64.4 508.6,61.9 510.1,64.1 511.6,62.7 513.2,65.2 514.7,67.9 516.2,66.8 517.8,68.4 519.3,67.1 520.8,67.4 522.3,67.6 523.9,67.6 525.4,65.5 526.9,66.1 528.5,64.8 530.0,64.5 531.5,66.9 533.0,65.4 534.6,64.5 536.1,63.0 537.6,64.9 539.2,65.2 540.7,64.2 542.2,65.0 543.8,68.0 545.3,69.2 546.8,68.5 548.4,67.6 549.9,68.0 551.4,69.2 552.9,68.0 554.5,69.2 556.0,69.3 557.5,68.8 559.1,69.6 560.6,70.9 562.1,71.2 563.6,72.2 565.2,73.7 566.7,74.9 568.2,64.6 569.8,64.3 571.3,64.8 572.8,63.7 574.4,64.9 575.9,55.1 577.4,55.9 579.0,57.2 580.5,59.7 582.0,58.6 583.5,59.6 585.1,58.9 586.6,59.4 588.1,60.2 589.7,60.7 591.2,64.9 592.7,65.2 594.2,65.8 595.8,66.8 597.3,66.1 598.8,65.3 600.4,66.7 601.9,67.4 603.4,67.1 605.0,68.3 606.5,67.7 608.0,67.2 609.5,66.2 611.1,67.1 612.6,68.6 614.1,69.9 615.7,71.3 617.2,72.8 618.7,72.4 620.3,74.5 621.8,72.6 623.3,73.4 624.9,72.6 626.4,74.1 627.9,74.3 629.4,75.7 631.0,76.9 632.5,76.1 634.0,76.7 635.6,78.4 637.1,77.8 638.6,75.8 640.1,76.2 641.7,77.9 643.2,77.5 644.7,76.4 646.3,78.2 647.8,79.3 649.3,78.3 650.9,78.8 652.4,78.6 653.9,78.9 655.5,77.9 657.0,77.7 658.5,76.9 660.0,78.8 661.6,79.4 663.1,77.7" stroke="#f7a04a" stroke-opacity="0.14" stroke-width="0.7"/>
<polyline points="479.5,63.0 481.0,65.0 482.6,65.7 484.1,67.3 485.6,67.0 487.1,67.1 488.7,67.7 490.2,67.1 491.7,65.7 493.3,67.0 494.8,67.7 496.3,68.6 497.9,66.7 499.4,68.5 500.9,68.1 502.4,69.1 504.0,68.9 505.5,68.1 507.0,67.8 508.6,66.2 510.1,63.7 511.6,64.6 513.2,60.0 514.7,62.7 516.2,63.0 517.8,63.8 519.3,63.9 520.8,65.6 522.3,65.2 523.9,64.7 525.4,65.9 526.9,67.7 528.5,65.7 530.0,62.6 531.5,62.8 533.0,63.0 534.6,62.7 536.1,62.3 537.6,62.6 539.2,61.6 540.7,60.8 542.2,61.2 543.8,61.1 545.3,62.4 546.8,64.5 548.4,65.2 549.9,63.8 551.4,64.6 552.9,64.8 554.5,65.7 556.0,62.3 557.5,61.7 559.1,60.9 560.6,62.2 562.1,60.5 563.6,61.7 565.2,61.9 566.7,62.3 568.2,62.5 569.8,61.7 571.3,67.1 572.8,68.0 574.4,68.2 575.9,67.1 577.4,68.0 579.0,70.6 580.5,70.7 582.0,72.2 583.5,73.3 585.1,72.0 586.6,71.9 588.1,71.2 589.7,70.3 591.2,69.4 592.7,67.9 594.2,67.8 595.8,68.3 597.3,68.4 598.8,66.3 600.4,67.1 601.9,66.4 603.4,65.9 605.0,66.0 606.5,62.6 608.0,62.8 609.5,62.1 611.1,63.7 612.6,64.3 614.1,65.3 615.7,65.3 617.2,64.2 618.7,65.0 620.3,65.1 621.8,64.7 623.3,58.3 624.9,59.4 626.4,57.3 627.9,57.5 629.4,58.0 631.0,58.6 632.5,58.3 634.0,57.0 635.6,57.7 637.1,60.9 638.6,60.7 640.1,59.6 641.7,60.1 643.2,60.1 644.7,60.8 646.3,63.2 647.8,63.6 649.3,61.1 650.9,65.7 652.4,64.8 653.9,64.8 655.5,63.3 657.0,63.3 658.5,63.6 660.0,66.2 661.6,65.5 663.1,67.9" stroke="#f7a04a" stroke-opacity="0.14" stroke-width="0.7"/>
<polyline points="479.5,70.3 481.0,70.1 482.6,71.3 484.1,71.3 485.6,69.3 487.1,70.1 488.7,69.7 490.2,69.1 491.7,68.9 493.3,68.3 494.8,69.4 496.3,69.0 497.9,67.0 499.4,66.3 500.9,67.9 502.4,67.9 504.0,73.7 505.5,73.0 507.0,72.8 508.6,72.3 510.1,71.4 511.6,73.9 513.2,73.8 514.7,73.7 516.2,73.3 517.8,72.6 519.3,69.4 520.8,68.5 522.3,69.5 523.9,57.5 525.4,57.8 526.9,56.3 528.5,57.0 530.0,57.3 531.5,57.0 533.0,57.6 534.6,57.9 536.1,56.6 537.6,56.3 539.2,57.3 540.7,55.5 542.2,56.0 543.8,69.0 545.3,69.4 546.8,77.5 548.4,75.8 549.9,73.7 551.4,75.6 552.9,73.7 554.5,72.9 556.0,74.1 557.5,74.2 559.1,74.8 560.6,63.1 562.1,63.6 563.6,63.8 565.2,62.7 566.7,63.8 568.2,63.2 569.8,62.5 571.3,63.1 572.8,62.7 574.4,52.1 575.9,52.2 577.4,52.2 579.0,51.6 580.5,52.5 582.0,52.6 583.5,52.8 585.1,54.4 586.6,56.0 588.1,57.4 589.7,59.2 591.2,60.9 592.7,61.1 594.2,69.3 595.8,68.5 597.3,69.7 598.8,69.1 600.4,68.9 601.9,70.2 603.4,70.7 605.0,69.0 606.5,68.9 608.0,67.5 609.5,66.7 611.1,69.1 612.6,68.6 614.1,66.8 615.7,56.5 617.2,56.4 618.7,57.3 620.3,58.7 621.8,58.2 623.3,57.0 624.9,58.8 626.4,59.4 627.9,61.1 629.4,63.0 631.0,63.1 632.5,61.6 634.0,62.6 635.6,63.5 637.1,64.0 638.6,66.5 640.1,66.8 641.7,68.0 643.2,67.2 644.7,64.7 646.3,65.7 647.8,65.2 649.3,66.2 650.9,64.5 652.4,66.0 653.9,65.4 655.5,64.0 657.0,62.2 658.5,63.4 660.0,64.0 661.6,62.1 663.1,62.8" stroke="#f7a04a" stroke-opacity="0.14" stroke-width="0.7"/>
<polyline points="479.5,65.3 481.0,64.7 482.6,64.8 484.1,64.1 485.6,64.7 487.1,65.1 488.7,64.8 490.2,63.5 491.7,61.9 493.3,62.2 494.8,63.1 496.3,63.7 497.9,61.2 499.4,60.3 500.9,61.9 502.4,61.2 504.0,61.4 505.5,62.5 507.0,62.9 508.6,63.8 510.1,63.2 511.6,63.3 513.2,65.0 514.7,61.9 516.2,61.7 517.8,61.9 519.3,62.8 520.8,63.9 522.3,64.1 523.9,65.1 525.4,64.4 526.9,63.4 528.5,64.5 530.0,63.5 531.5,62.6 533.0,62.9 534.6,62.5 536.1,62.1 537.6,62.9 539.2,64.4 540.7,65.8 542.2,65.4 543.8,65.8 545.3,66.7 546.8,65.8 548.4,65.8 549.9,65.1 551.4,65.4 552.9,57.3 554.5,58.6 556.0,58.6 557.5,61.3 559.1,62.7 560.6,64.3 562.1,62.9 563.6,56.4 565.2,58.5 566.7,59.1 568.2,58.3 569.8,59.2 571.3,59.8 572.8,60.4 574.4,59.2 575.9,59.3 577.4,60.6 579.0,57.8 580.5,56.1 582.0,55.6 583.5,52.5 585.1,53.3 586.6,52.0 588.1,52.8 589.7,44.7 591.2,46.2 592.7,46.0 594.2,47.1 595.8,49.0 597.3,52.4 598.8,52.3 600.4,53.6 601.9,54.5 603.4,54.2 605.0,56.2 606.5,56.0 608.0,55.6 609.5,57.8 611.1,58.7 612.6,58.9 614.1,59.7 615.7,60.1 617.2,60.2 618.7,60.1 620.3,59.9 621.8,61.0 623.3,59.7 624.9,62.1 626.4,48.6 627.9,51.0 629.4,52.3 631.0,54.7 632.5,55.7 634.0,57.5 635.6,59.1 637.1,59.7 638.6,59.2 640.1,57.2 641.7,59.0 643.2,59.1 644.7,60.4 646.3,62.3 647.8,61.8 649.3,59.8 650.9,59.0 652.4,59.9 653.9,60.3 655.5,60.3 657.0,61.8 658.5,64.0 660.0,63.4 661.6,62.3 663.1,64.3" stroke="#f7a04a" stroke-opacity="0.14" stroke-width="0.7"/>
<polyline points="479.5,63.9 481.0,64.2 482.6,63.7 484.1,64.0 485.6,64.4 487.1,70.3 488.7,71.6 490.2,71.7 491.7,72.1 493.3,72.6 494.8,71.2 496.3,58.3 497.9,58.2 499.4,59.8 500.9,61.4 502.4,61.4 504.0,59.4 505.5,59.8 507.0,61.1 508.6,61.7 510.1,61.0 511.6,62.0 513.2,62.0 514.7,63.3 516.2,63.1 517.8,63.4 519.3,61.6 520.8,61.8 522.3,58.6 523.9,58.8 525.4,60.4 526.9,69.7 528.5,71.4 530.0,72.3 531.5,71.0 533.0,71.0 534.6,71.0 536.1,71.5 537.6,68.9 539.2,62.0 540.7,55.3 542.2,55.1 543.8,55.5 545.3,54.8 546.8,54.9 548.4,54.2 549.9,55.0 551.4,54.4 552.9,47.4 554.5,48.4 556.0,48.2 557.5,48.7 559.1,49.0 560.6,50.0 562.1,50.7 563.6,54.1 565.2,56.1 566.7,55.8 568.2,57.3 569.8,58.6 571.3,58.2 572.8,59.5 574.4,59.1 575.9,57.8 577.4,59.3 579.0,58.3 580.5,58.0 582.0,56.8 583.5,58.4 585.1,59.8 586.6,60.6 588.1,61.6 589.7,60.8 591.2,61.7 592.7,61.1 594.2,61.2 595.8,61.5 597.3,59.7 598.8,59.4 600.4,59.6 601.9,60.9 603.4,62.2 605.0,61.9 606.5,62.5 608.0,64.8 609.5,64.8 611.1,65.6 612.6,65.1 614.1,64.7 615.7,63.3 617.2,61.8 618.7,59.4 620.3,59.7 621.8,60.6 623.3,59.3 624.9,50.7 626.4,51.5 627.9,52.5 629.4,52.7 631.0,53.3 632.5,53.9 634.0,54.6 635.6,56.3 637.1,57.4 638.6,57.2 640.1,56.4 641.7,56.1 643.2,54.6 644.7,54.2 646.3,55.5 647.8,57.6 649.3,58.6 650.9,47.5 652.4,37.9 653.9,40.9 655.5,42.0 657.0,43.9 658.5,42.4 660.0,44.5 661.6,46.1 663.1,47.2" stroke="#f7a04a" stroke-opacity="0.14" stroke-width="0.7"/>
<polyline points="479.5,64.7 481.0,67.5 482.6,67.3 484.1,67.5 485.6,66.9 487.1,60.1 488.7,60.2 490.2,61.0 491.7,61.5 493.3,60.0 494.8,61.1 496.3,60.6 497.9,59.8 499.4,60.6 500.9,64.0 502.4,63.5 504.0,61.0 505.5,61.6 507.0,63.8 508.6,62.0 510.1,62.9 511.6,52.4 513.2,52.6 514.7,55.3 516.2,55.5 517.8,55.4 519.3,54.8 520.8,55.3 522.3,57.5 523.9,59.7 525.4,59.4 526.9,59.7 528.5,60.7 530.0,59.6 531.5,61.3 533.0,63.3 534.6,62.1 536.1,62.5 537.6,62.4 539.2,65.2 540.7,66.3 542.2,66.0 543.8,65.4 545.3,63.5 546.8,63.7 548.4,62.6 549.9,62.9 551.4,62.4 552.9,62.2 554.5,61.1 556.0,61.7 557.5,60.2 559.1,59.6 560.6,58.7 562.1,59.2 563.6,59.6 565.2,58.7 566.7,58.8 568.2,60.2 569.8,60.8 571.3,61.5 572.8,61.0 574.4,58.2 575.9,59.4 577.4,60.3 579.0,59.2 580.5,58.3 582.0,58.9 583.5,59.6 585.1,61.3 586.6,62.0 588.1,63.1 589.7,63.0 591.2,62.1 592.7,63.0 594.2,63.8 595.8,63.7 597.3,64.8 598.8,65.2 600.4,68.3 601.9,67.4 603.4,66.3 605.0,65.4 606.5,65.3 608.0,65.9 609.5,65.3 611.1,63.4 612.6,62.6 614.1,62.8 615.7,64.0 617.2,63.9 618.7,65.5 620.3,63.9 621.8,63.4 623.3,64.7 624.9,62.5 626.4,61.3 627.9,60.2 629.4,67.1 631.0,64.7 632.5,66.3 634.0,65.0 635.6,66.3 637.1,64.0 638.6,63.7 640.1,62.1 641.7,62.7 643.2,62.4 644.7,63.6 646.3,63.6 647.8,63.5 649.3,58.3 650.9,60.1 652.4,60.1 653.9,59.7 655.5,60.6 657.0,72.7 658.5,71.7 660.0,72.0 661.6,72.8 663.1,73.6" stroke="#f7a04a" stroke-opacity="0.14" stroke-width="0.7"/>
<polyline points="479.5,69.4 481.0,68.5 482.6,67.8 484.1,67.5 485.6,67.0 487.1,66.4 488.7,65.8 490.2,67.6 491.7,67.6 493.3,67.0 494.8,65.1 496.3,64.0 497.9,65.6 499.4,66.0 500.9,67.2 502.4,65.4 504.0,66.3 505.5,68.0 507.0,68.3 508.6,68.6 510.1,67.7 511.6,66.8 513.2,56.7 514.7,58.8 516.2,58.7 517.8,59.7 519.3,58.2 520.8,58.3 522.3,59.1 523.9,61.4 525.4,61.0 526.9,61.1 528.5,61.4 530.0,62.0 531.5,63.2 533.0,63.7 534.6,66.1 536.1,65.1 537.6,66.0 539.2,66.6 540.7,66.2 542.2,67.0 543.8,65.0 545.3,65.5 546.8,64.7 548.4,65.2 549.9,65.8 551.4,66.6 552.9,66.0 554.5,65.1 556.0,64.9 557.5,64.9 559.1,65.2 560.6,65.8 562.1,65.4 563.6,66.1 565.2,69.9 566.7,66.8 568.2,67.7 569.8,67.1 571.3,67.9 572.8,68.1 574.4,70.4 575.9,70.4 577.4,67.8 579.0,66.5 580.5,65.9 582.0,66.0 583.5,63.9 585.1,63.1 586.6,61.2 588.1,62.0 589.7,61.7 591.2,61.5 592.7,62.8 594.2,63.4 595.8,63.5 597.3,60.8 598.8,63.0 600.4,61.6 601.9,59.8 603.4,60.0 605.0,60.5 606.5,60.5 608.0,61.7 609.5,52.4 611.1,53.7 612.6,54.5 614.1,54.5 615.7,55.5 617.2,58.3 618.7,59.8 620.3,60.8 621.8,62.5 623.3,63.8 624.9,62.4 626.4,63.5 627.9,62.2 629.4,61.6 631.0,59.5 632.5,59.2 634.0,59.0 635.6,57.6 637.1,59.9 638.6,63.8 640.1,63.1 641.7,63.9 643.2,65.4 644.7,66.2 646.3,68.1 647.8,67.4 649.3,65.6 650.9,67.3 652.4,67.7 653.9,67.4 655.5,67.1 657.0,69.2 658.5,67.5 660.0,63.7 661.6,63.6 663.1,63.5" stroke="#f7a04a" stroke-opacity="0.14" stroke-width="0.7"/>
<polyline points="479.5,59.3 481.0,59.0 482.6,60.6 484.1,60.1 485.6,62.4 487.1,63.4 488.7,64.1 490.2,62.3 491.7,63.6 493.3,64.1 494.8,63.6 496.3,56.6 497.9,57.4 499.4,58.0 500.9,57.8 502.4,58.9 504.0,69.8 505.5,78.4 507.0,77.7 508.6,76.6 510.1,74.6 511.6,77.4 513.2,75.8 514.7,74.3 516.2,72.4 517.8,73.3 519.3,70.3 520.8,71.2 522.3,70.1 523.9,68.9 525.4,67.5 526.9,68.4 528.5,69.0 530.0,67.9 531.5,70.3 533.0,70.4 534.6,69.9 536.1,70.7 537.6,69.4 539.2,68.8 540.7,69.7 542.2,69.3 543.8,69.3 545.3,69.6 546.8,71.7 548.4,70.9 549.9,69.3 551.4,71.4 552.9,70.3 554.5,69.3 556.0,67.5 557.5,67.2 559.1,66.3 560.6,66.2 562.1,67.1 563.6,69.1 565.2,65.8 566.7,63.9 568.2,64.5 569.8,65.2 571.3,65.3 572.8,64.5 574.4,63.7 575.9,62.7 577.4,64.2 579.0,63.3 580.5,62.0 582.0,61.2 583.5,64.3 585.1,63.8 586.6,64.8 588.1,65.4 589.7,67.2 591.2,66.5 592.7,65.8 594.2,64.6 595.8,64.4 597.3,65.6 598.8,63.3 600.4,62.7 601.9,60.6 603.4,60.5 605.0,59.3 606.5,58.2 608.0,56.7 609.5,57.1 611.1,53.8 612.6,51.5 614.1,51.5 615.7,54.2 617.2,54.4 618.7,55.6 620.3,56.1 621.8,56.7 623.3,56.9 624.9,59.3 626.4,58.8 627.9,59.4 629.4,71.9 631.0,70.3 632.5,69.8 634.0,69.2 635.6,69.6 637.1,70.5 638.6,59.7 640.1,62.8 641.7,62.6 643.2,64.3 644.7,63.0 646.3,64.4 647.8,66.4 649.3,66.8 650.9,65.4 652.4,64.4 653.9,65.8 655.5,65.9 657.0,57.0 658.5,57.8 660.0,60.6 661.6,60.1 663.1,57.3" stroke="#f7a04a" stroke-opacity="0.14" stroke-width="0.7"/>
<polyline points="479.5,56.8 481.0,57.3 482.6,56.8 484.1,56.2 485.6,57.2 487.1,56.3 488.7,54.4 490.2,52.9 491.7,53.4 493.3,52.3 494.8,54.2 496.3,54.7 497.9,55.8 499.4,56.2 500.9,46.4 502.4,48.0 504.0,47.6 505.5,50.1 507.0,51.7 508.6,53.6 510.1,52.5 511.6,52.2 513.2,53.9 514.7,54.1 516.2,54.8 517.8,44.3 519.3,44.9 520.8,45.3 522.3,44.6 523.9,46.8 525.4,48.7 526.9,49.3 528.5,50.0 530.0,51.2 531.5,53.4 533.0,52.7 534.6,53.7 536.1,56.5 537.6,57.1 539.2,55.5 540.7,55.2 542.2,56.6 543.8,54.4 545.3,55.0 546.8,55.9 548.4,56.5 549.9,57.2 551.4,58.4 552.9,48.3 554.5,47.1 556.0,45.8 557.5,45.1 559.1,46.3 560.6,45.9 562.1,44.9 563.6,41.7 565.2,43.0 566.7,45.3 568.2,45.6 569.8,47.4 571.3,49.1 572.8,51.6 574.4,52.1 575.9,52.0 577.4,52.0 579.0,55.1 580.5,54.9 582.0,54.9 583.5,55.1 585.1,54.3 586.6,53.6 588.1,52.6 589.7,51.7 591.2,52.6 592.7,51.7 594.2,53.8 595.8,54.8 597.3,54.4 598.8,54.5 600.4,55.1 601.9,55.3 603.4,55.6 605.0,55.7 606.5,57.9 608.0,58.3 609.5,60.7 611.1,60.7 612.6,61.2 614.1,63.1 615.7,64.6 617.2,64.9 618.7,66.8 620.3,64.9 621.8,63.9 623.3,54.2 624.9,55.0 626.4,57.1 627.9,58.1 629.4,58.5 631.0,59.3 632.5,59.2 634.0,59.7 635.6,60.7 637.1,59.3 638.6,57.6 640.1,58.4 641.7,59.7 643.2,59.0 644.7,59.4 646.3,59.2 647.8,58.8 649.3,57.8 650.9,58.7 652.4,57.2 653.9,58.0 655.5,56.8 657.0,57.6 658.5,57.4 660.0,59.9 661.6,59.1 663.1,53.0" stroke="#f7a04a" stroke-opacity="0.14" stroke-width="0.7"/>
<polyline points="479.5,63.6 481.0,64.5 482.6,63.8 484.1,64.5 485.6,63.1 487.1,64.4 488.7,63.8 490.2,62.9 491.7,63.8 493.3,65.0 494.8,64.9 496.3,65.0 497.9,65.3 499.4,64.0 500.9,64.2 502.4,65.2 504.0,64.6 505.5,65.3 507.0,64.6 508.6,64.8 510.1,65.5 511.6,65.6 513.0,65.4 513.2,65.3 514.7,64.6 516.2,63.7 517.8,62.9 519.3,62.3 519.8,62.5 519.9,62.8 520.7,42.0 520.8,39.1 522.3,42.2 523.7,44.6 523.9,44.6 525.4,47.1 526.9,49.7 528.5,52.0 530.0,55.6 531.4,58.0 531.5,57.9 533.0,58.8 534.6,59.5 536.1,59.9 537.6,61.4 539.2,60.9 540.7,61.5 542.2,62.4 543.8,61.8 545.2,64.1 545.3,63.6 545.3,64.3 546.8,62.9 548.4,63.3 549.9,62.2 551.4,61.9 552.9,63.8 554.5,62.1 556.0,62.8 557.5,63.1 559.1,63.5 560.6,62.5 562.1,62.9 563.6,62.4 565.2,63.8 566.7,62.5 568.2,62.0 569.8,63.4 571.3,63.0 572.8,63.1 574.4,62.8 575.9,62.1 577.4,62.5 579.0,62.4 580.5,62.6 582.0,62.5 583.5,61.4 585.1,63.1 586.6,62.4 588.1,61.6 589.7,62.7 591.2,63.0 592.7,62.3 594.2,62.6 595.8,62.2 597.3,61.3 598.8,63.0 600.4,62.2 601.9,61.5 603.4,62.4 605.0,62.6 606.5,63.5 608.0,62.3 609.5,61.5 611.1,61.3 612.6,62.4 614.1,62.4 615.7,61.8 617.2,61.7 618.7,62.3 620.3,62.5 621.8,61.7 623.3,62.3 624.9,62.4 626.4,62.5 627.9,61.3 629.4,62.4 631.0,62.3 632.5,61.8 634.0,62.5 635.6,62.7 637.1,62.6 638.6,61.4 640.1,60.6 641.7,61.2 643.2,61.5 644.7,62.4 646.3,61.8 647.8,61.7 649.3,62.0 650.9,62.4 652.4,62.3 653.9,61.6 655.5,61.7 657.0,62.0 658.5,61.1 660.0,61.6 661.6,62.8 663.0,61.5 663.1,62.3" stroke="#f7a04a" stroke-opacity="0.16" stroke-width="0.7"/>
<polyline points="479.5,65.5 481.0,66.3 482.6,64.9 484.1,65.8 485.6,65.5 487.1,66.0 488.7,66.2 490.2,66.0 491.7,65.9 493.3,65.3 494.8,66.1 496.3,67.5 497.9,66.5 499.4,66.8 500.9,66.5 502.4,67.1 504.0,66.7 505.5,66.6 507.0,66.9 508.6,66.0 510.1,66.9 511.6,65.8 513.2,66.5 514.7,66.6 516.2,66.5 517.8,67.3 519.3,66.7 520.8,67.4 522.3,67.0 523.9,66.8 525.4,67.5 526.9,66.7 528.5,66.8 529.9,67.6 530.0,67.1 530.0,66.9 531.5,66.3 533.0,65.9 534.6,66.0 536.1,64.0 536.6,65.1 536.7,64.5 537.5,47.2 537.6,43.3 537.6,43.9 539.2,46.8 540.6,48.5 540.7,48.7 542.2,51.8 543.8,53.7 545.3,56.7 546.8,58.4 548.2,60.6 548.4,61.2 549.9,61.8 551.4,62.0 552.9,62.6 554.5,63.1 556.0,64.2 557.5,64.3 559.1,63.9 560.6,64.9 562.0,65.7 562.1,65.2 563.6,66.0 565.2,65.9 566.7,64.9 568.2,64.9 569.8,65.9 571.3,66.7 572.8,66.1 574.4,65.8 575.9,65.9 577.4,66.2 579.0,65.2 580.5,65.4 582.0,66.4 583.5,64.7 585.1,66.1 586.6,66.1 588.1,66.3 589.7,66.2 591.2,65.8 592.7,65.8 594.2,66.4 595.8,65.7 597.3,67.0 598.8,66.0 600.4,65.9 601.9,67.1 603.4,66.6 605.0,66.5 606.5,66.3 608.0,65.3 609.5,66.4 611.1,66.6 612.6,66.2 614.1,66.1 615.7,65.5 617.2,65.9 618.7,66.9 620.3,66.5 621.8,65.7 623.3,66.3 624.9,67.0 626.4,66.8 627.9,67.0 629.4,65.7 631.0,66.8 632.5,66.2 634.0,66.4 635.6,66.4 637.1,66.4 638.6,66.6 640.1,65.5 641.7,66.9 643.2,66.1 644.7,67.4 646.3,66.4 647.8,66.7 649.3,66.3 650.9,66.6 652.4,66.9 653.9,67.3 655.5,66.8 657.0,67.0 658.5,66.9 660.0,66.2 661.6,67.6 663.0,67.4 663.1,66.8" stroke="#f7a04a" stroke-opacity="0.16" stroke-width="0.7"/>
<polyline points="479.5,63.0 481.0,61.8 482.6,62.0 484.1,62.1 485.6,62.3 487.1,62.0 488.7,62.5 490.2,62.0 491.7,63.8 493.3,61.4 494.8,62.3 496.3,62.6 497.9,62.6 499.4,62.3 500.9,62.1 502.4,61.9 504.0,62.9 505.5,62.8 507.0,63.0 508.6,60.9 510.1,62.5 511.6,62.6 513.2,62.2 514.7,62.4 516.2,62.1 517.8,61.9 519.3,62.1 520.8,63.2 522.3,61.9 523.9,61.5 525.4,62.3 526.9,61.6 528.5,61.8 530.0,62.1 531.5,62.3 533.0,61.7 534.6,61.2 536.1,61.6 537.6,62.1 539.2,62.5 540.7,62.1 542.2,62.1 543.8,61.4 545.2,62.6 545.3,62.2 546.8,62.2 548.4,62.2 549.9,61.2 551.4,61.8 551.9,60.7 552.0,61.3 552.8,44.4 552.9,40.1 552.9,40.2 554.5,44.5 555.9,45.3 556.0,45.3 557.5,49.4 559.1,51.0 560.6,53.8 562.1,55.4 563.5,58.5 563.6,57.4 565.2,58.1 566.7,58.5 568.2,60.1 569.8,59.6 571.3,60.6 572.8,60.4 574.4,61.6 575.9,61.1 577.3,62.3 577.4,62.3 579.0,63.0 580.5,63.0 582.0,62.3 583.5,61.7 585.1,62.2 586.6,62.5 588.1,62.0 589.7,61.6 591.2,62.6 592.7,62.4 594.2,61.7 595.8,61.7 597.3,62.0 598.8,62.2 600.4,62.0 601.9,62.2 603.4,62.1 605.0,61.1 606.5,61.5 608.0,62.3 609.5,61.9 611.1,62.2 612.6,61.7 614.1,62.1 615.7,61.2 617.2,61.8 618.7,61.0 620.3,60.6 621.8,61.7 623.3,61.0 624.9,60.8 626.4,60.8 627.9,61.3 629.4,62.0 631.0,61.0 632.5,61.1 634.0,61.5 635.6,61.4 637.1,60.8 638.6,59.9 640.1,61.2 641.7,61.7 643.2,60.8 644.7,60.8 646.3,61.0 647.8,60.3 649.3,60.7 650.9,61.6 652.4,61.3 653.9,61.4 655.5,60.1 657.0,62.0 658.5,60.6 660.0,60.7 661.6,59.8 663.0,60.1 663.1,60.4" stroke="#f7a04a" stroke-opacity="0.16" stroke-width="0.7"/>
<polyline points="479.5,62.7 481.0,62.6 482.6,62.3 484.1,62.7 485.6,62.0 487.1,63.3 488.7,62.5 490.2,62.1 491.7,62.7 493.3,62.6 494.8,63.3 496.3,63.2 497.9,61.5 499.4,62.1 500.9,62.9 502.4,63.1 504.0,62.5 505.5,62.1 507.0,62.5 508.6,62.9 510.1,62.3 511.6,62.4 513.2,62.1 514.7,62.4 516.2,62.4 517.8,62.7 519.3,62.2 520.8,61.9 522.3,62.7 523.9,62.8 525.4,61.6 526.9,61.7 528.5,62.2 530.0,62.5 531.5,61.4 533.0,62.6 534.6,61.3 536.1,62.6 537.6,61.9 539.2,62.5 540.7,61.9 542.2,63.1 543.8,62.3 545.3,62.2 546.8,63.1 548.4,62.9 549.9,61.6 551.4,61.3 552.9,62.3 554.5,61.6 556.0,62.2 557.5,61.5 559.1,62.5 560.6,62.4 562.1,60.7 563.5,61.6 563.6,62.2 565.2,62.9 566.7,61.5 568.2,60.9 569.8,62.6 570.3,60.9 570.4,61.1 571.2,48.2 571.3,46.3 572.8,48.8 574.2,52.0 574.4,53.0 575.9,52.5 577.4,54.5 579.0,55.2 580.5,57.6 581.9,58.9 582.0,59.3 583.5,59.7 585.1,59.4 586.6,59.5 588.1,60.7 589.7,61.4 591.2,61.4 592.7,62.4 594.2,62.4 595.7,62.0 595.8,63.9 595.8,63.2 597.3,62.9 598.8,63.4 600.4,63.9 601.9,63.1 603.4,63.6 605.0,63.3 606.5,63.5 608.0,62.8 609.5,62.2 611.1,64.1 612.6,63.8 614.1,63.4 615.7,64.9 617.2,64.5 618.7,62.1 620.3,64.1 621.8,64.6 623.3,63.6 624.9,64.5 626.4,63.4 627.9,65.0 629.4,64.9 631.0,63.4 632.5,64.0 634.0,64.0 635.6,64.8 637.1,64.5 638.6,64.6 640.1,65.3 641.7,64.0 643.2,64.4 644.7,64.3 646.3,64.4 647.8,65.1 649.3,65.7 650.9,65.1 652.4,65.0 653.9,65.7 655.5,64.8 657.0,65.0 658.5,65.8 660.0,67.0 661.6,66.1 663.0,65.9 663.1,66.4" stroke="#f7a04a" stroke-opacity="0.16" stroke-width="0.7"/>
<polyline points="479.5,66.8 481.0,66.8 482.6,64.6 484.1,65.4 485.6,65.9 487.1,65.0 488.7,65.9 490.2,65.1 491.7,66.4 493.3,65.8 494.8,65.7 496.3,65.3 497.9,65.4 499.4,65.3 500.9,66.2 502.4,65.9 504.0,65.3 505.5,65.6 507.0,65.6 508.6,65.4 510.1,66.5 511.6,66.1 513.2,66.3 514.7,65.2 516.2,65.9 517.8,66.8 519.3,64.8 520.8,65.6 522.3,65.1 523.9,66.3 525.4,66.0 526.9,66.3 528.5,65.5 530.0,65.9 531.5,65.8 533.0,66.4 534.6,65.0 536.1,65.9 537.6,65.9 539.2,65.3 540.7,66.2 542.2,65.4 543.8,65.4 545.3,65.1 546.8,65.4 548.4,65.5 549.9,65.4 551.4,66.2 552.9,66.0 554.5,65.3 556.0,65.0 557.5,65.7 559.1,65.6 560.6,66.0 562.1,65.3 563.6,65.6 565.2,65.7 566.7,65.3 568.2,65.3 569.8,65.5 571.3,65.5 572.8,65.2 574.4,66.2 575.9,65.8 577.4,65.8 579.0,66.2 580.5,66.5 582.0,65.8 583.5,66.3 585.1,65.6 586.6,66.0 588.1,65.9 589.7,65.1 591.2,64.7 592.7,66.3 594.2,65.8 595.8,66.0 597.3,67.1 598.8,65.6 600.4,66.0 601.9,66.1 603.3,65.3 603.4,66.8 605.0,65.2 606.5,65.1 608.0,64.9 609.5,64.2 610.0,65.4 610.2,65.9 611.0,42.3 611.1,39.1 612.6,43.2 614.0,45.0 614.1,44.2 614.1,44.7 615.7,47.8 617.2,51.3 618.7,55.2 620.3,57.8 621.7,61.0 621.8,61.0 621.8,60.7 623.3,62.0 624.9,63.6 626.4,61.8 627.9,63.4 629.4,63.5 631.0,64.0 632.5,64.9 634.0,66.4 635.4,65.3 635.6,66.5 635.6,64.7 637.1,66.9 638.6,66.2 640.1,66.6 641.7,66.8 643.2,66.6 644.7,67.9 646.3,66.9 647.8,67.0 649.3,67.0 650.9,68.1 652.4,67.4 653.9,67.4 655.5,68.4 657.0,67.2 658.5,67.0 660.0,67.6 661.6,68.1 663.0,67.9 663.1,68.7" stroke="#f7a04a" stroke-opacity="0.16" stroke-width="0.7"/>
<polyline points="479.5,67.1 481.0,67.2 482.6,66.6 484.1,67.5 485.6,66.0 487.1,66.8 488.7,66.3 490.2,65.8 491.7,66.5 493.3,67.6 494.8,65.6 496.3,66.7 497.9,67.3 499.4,66.1 500.9,67.0 502.4,66.3 504.0,65.7 505.5,66.7 507.0,67.7 508.6,66.1 510.1,66.8 511.6,65.9 513.2,66.1 514.7,66.2 516.2,66.0 517.8,66.4 519.3,66.3 520.8,65.5 522.3,66.9 523.9,66.8 525.4,65.9 526.9,65.5 528.5,66.4 530.0,64.8 531.5,66.5 533.0,65.8 534.6,66.7 536.1,65.6 537.6,65.8 539.2,66.2 540.7,66.7 542.2,65.3 543.8,66.5 545.3,65.2 546.8,66.3 548.4,66.5 549.9,66.5 551.4,66.3 552.9,66.7 554.5,66.3 556.0,66.4 557.5,64.8 559.1,65.9 560.6,66.4 562.1,65.2 563.6,65.3 565.2,66.3 566.7,65.9 568.2,65.0 569.8,65.6 571.3,65.8 572.8,66.0 574.4,65.8 575.9,65.9 577.4,65.4 579.0,66.2 580.5,65.6 582.0,64.9 583.5,65.8 585.1,64.6 586.6,66.0 588.1,64.5 589.7,65.3 591.2,65.3 592.7,64.7 594.2,65.7 595.8,65.5 597.3,66.3 598.8,64.1 600.4,64.9 601.9,64.7 603.4,65.4 605.0,65.2 606.5,65.7 608.0,64.8 609.5,64.9 611.1,65.0 612.6,64.5 614.1,65.4 615.7,65.9 617.1,64.7 617.2,64.7 618.7,65.7 620.3,65.4 621.8,65.2 623.3,66.7 623.8,66.1 623.9,66.4 624.7,42.9 624.9,40.8 626.4,43.9 627.8,45.2 627.9,44.8 627.9,46.1 629.4,50.8 631.0,53.6 632.5,55.3 634.0,59.0 635.4,61.8 635.6,62.0 635.6,63.2 637.1,63.1 638.6,62.5 640.1,63.4 641.7,64.5 643.2,64.3 644.7,64.9 646.3,66.1 647.8,66.4 649.2,66.6 649.3,66.4 649.3,66.1 650.9,66.1 652.4,66.8 653.9,66.7 655.5,66.4 657.0,66.1 658.5,65.8 660.0,66.4 661.6,66.3 663.0,66.0 663.1,66.1" stroke="#f7a04a" stroke-opacity="0.16" stroke-width="0.7"/>
<polyline points="479.5,59.8 481.0,60.3 482.6,60.0 484.1,59.4 485.6,60.2 487.1,59.7 488.7,59.7 490.2,59.7 491.7,59.4 493.3,59.7 494.8,60.5 496.3,59.4 497.9,59.5 499.4,59.2 500.9,60.0 502.4,58.9 504.0,59.5 505.5,59.1 507.0,58.1 508.6,59.0 510.1,59.2 511.6,58.0 513.2,59.6 514.7,58.6 516.2,59.8 517.8,58.6 519.3,58.1 520.8,58.8 522.3,57.8 523.9,58.5 525.4,58.5 526.9,59.4 528.5,58.3 530.0,59.1 531.5,58.7 533.0,58.9 534.6,58.2 536.1,58.7 537.6,58.9 539.2,59.2 540.7,58.4 542.2,59.3 543.8,59.5 545.3,58.8 546.8,59.4 548.4,58.6 549.9,58.8 551.4,59.3 552.9,58.7 554.5,58.7 556.0,59.2 557.5,59.1 559.1,58.9 560.6,58.9 562.1,58.1 563.6,58.7 565.2,58.5 566.7,58.2 568.2,58.6 569.8,58.5 571.3,57.2 572.8,58.6 574.4,57.7 575.9,58.1 577.4,58.8 579.0,58.1 580.5,58.3 582.0,59.3 583.5,58.4 585.1,58.9 586.6,58.2 588.1,57.9 589.7,58.9 591.2,58.8 592.7,57.8 594.2,59.9 595.8,58.1 597.3,58.4 598.8,59.0 600.4,58.3 601.9,57.5 603.4,57.9 605.0,58.6 606.5,57.7 608.0,59.1 609.5,57.7 611.1,58.2 612.6,57.5 614.1,58.8 615.7,57.8 617.2,58.0 618.7,58.2 620.3,57.3 621.8,58.0 623.3,57.6 624.9,58.5 626.4,57.3 627.9,58.6 629.4,58.6 630.8,57.3 631.0,59.0 632.5,56.8 634.0,57.8 635.6,57.8 637.1,58.6 637.6,58.3 637.7,58.3 638.5,43.8 638.6,42.0 640.1,44.5 641.6,46.8 641.7,46.9 641.7,47.6 643.2,48.4 644.7,49.5 646.3,52.2 647.8,54.8 649.2,55.0 649.3,54.2 649.3,55.7 650.9,54.4 652.4,56.9 653.9,56.4 655.5,56.6 657.0,57.8 658.5,57.6 660.0,58.7 661.6,59.2 663.0,59.0 663.1,55.6" stroke="#f7a04a" stroke-opacity="0.16" stroke-width="0.7"/>
<polyline points="479.5,63.6 481.0,64.5 482.6,64.2 484.1,64.8 485.6,65.9 487.1,65.7 488.7,65.9 490.1,65.4 490.2,66.8 490.2,66.1 491.7,64.4 493.3,63.9 494.8,63.3 496.3,63.0 496.8,62.3 496.9,62.5 497.7,47.2 497.9,46.6 497.9,46.6 499.4,48.8 500.8,51.7 500.9,51.9 500.9,50.2 502.4,53.2 504.0,54.3 505.5,55.7 507.0,57.0 508.4,59.0 508.6,59.4 508.6,59.1 510.1,59.0 511.6,60.1 513.2,60.9 514.7,60.6 516.2,61.7 517.8,62.8 519.3,63.0 520.8,63.0 522.2,62.9 522.3,62.4 522.3,63.1 523.9,62.4 525.4,63.6 526.9,63.6 528.5,63.0 530.0,63.0 531.5,63.8 533.0,62.9 534.6,63.6 536.1,63.6 537.6,64.2 539.2,65.3 540.7,64.2 542.2,64.4 543.8,63.0 545.3,63.5 546.8,64.5 548.4,62.6 549.9,63.6 551.4,63.9 552.9,64.1 554.5,64.3 556.0,63.8 557.5,64.6 559.1,64.0 560.6,63.2 562.1,63.8 563.6,63.4 565.2,64.9 566.7,63.7 568.2,64.0 569.8,63.8 571.3,63.1 572.8,63.6 574.4,64.2 575.9,64.5 577.4,63.8 579.0,64.2 580.5,64.1 582.0,63.4 583.5,65.1 585.1,63.7 586.6,63.9 588.1,63.6 589.7,63.6 591.2,64.2 592.7,63.7 594.2,64.3 595.8,64.7 597.3,63.9 598.8,63.4 600.4,63.4 601.9,63.9 603.4,64.8 605.0,64.9 606.5,63.7 608.0,65.0 609.5,64.7 611.1,63.9 612.6,64.7 614.1,65.2 615.7,64.3 617.2,64.8 618.7,64.5 620.3,64.6 621.8,64.0 623.3,64.8 624.9,64.9 626.4,65.2 627.9,64.8 629.4,64.2 631.0,64.6 632.5,64.5 634.0,64.3 635.6,66.0 637.1,63.9 638.6,65.3 640.1,64.4 641.7,64.2 643.2,64.6 644.7,65.5 646.3,64.5 647.8,65.7 649.3,64.9 650.9,65.0 652.4,64.7 653.9,64.2 655.5,64.7 657.0,64.9 658.5,64.6 660.0,65.2 661.6,65.6 663.0,64.8 663.1,65.5" stroke="#f7a04a" stroke-opacity="0.16" stroke-width="0.7"/>
<polyline points="479.5,59.1 481.0,60.5 482.6,60.4 484.1,60.4 485.6,60.9 487.1,60.3 488.7,60.2 490.2,61.3 491.7,60.1 493.3,60.3 494.8,61.3 496.3,60.6 497.9,60.9 499.4,60.3 500.9,60.8 502.4,60.0 504.0,59.9 505.5,59.8 507.0,60.7 508.6,60.3 510.1,60.5 511.6,60.2 513.2,60.3 514.7,60.3 516.2,60.8 517.8,60.8 519.3,60.3 520.8,60.4 522.3,60.0 523.9,60.1 525.4,60.6 526.9,59.9 528.5,59.5 530.0,59.9 531.5,59.7 533.0,60.7 534.6,60.1 536.1,60.2 537.6,60.1 539.2,60.7 540.7,60.2 542.2,60.7 543.8,61.3 545.3,60.1 546.8,60.2 548.4,60.2 549.9,60.1 551.4,60.3 552.9,61.1 554.5,60.3 556.0,61.0 557.5,60.0 559.1,60.7 560.6,60.9 562.1,60.5 563.6,60.2 565.2,61.3 566.7,60.5 568.2,59.9 569.8,60.9 571.3,60.3 572.8,60.6 574.4,60.6 575.9,61.0 577.4,60.7 579.0,60.8 580.5,60.0 581.9,61.2 582.0,60.7 583.5,61.1 585.1,59.9 586.6,60.3 588.1,59.9 588.6,59.7 588.7,59.1 589.5,47.0 589.7,44.7 591.2,46.8 592.6,49.3 592.7,51.0 594.2,50.5 595.8,52.7 597.3,52.2 598.8,55.0 600.2,55.8 600.4,56.3 601.9,56.7 603.4,56.8 605.0,57.8 606.5,57.8 608.0,58.3 609.5,58.6 611.1,59.5 612.6,59.8 614.0,60.3 614.1,61.4 615.7,60.5 617.2,60.1 618.7,60.3 620.3,60.7 621.8,59.6 623.3,60.1 624.9,60.7 626.4,60.2 627.9,61.0 629.4,60.5 631.0,60.4 632.5,60.0 634.0,59.0 635.6,58.4 637.1,60.3 638.6,59.7 640.1,59.5 641.7,59.3 643.2,59.1 644.7,60.2 646.3,59.2 647.8,58.8 649.3,59.6 650.9,58.9 652.4,59.1 653.9,59.4 655.5,58.3 657.0,59.2 658.5,58.7 660.0,59.4 661.6,59.1 663.0,58.2 663.1,58.1" stroke="#f7a04a" stroke-opacity="0.16" stroke-width="0.7"/>
<polyline points="479.5,53.8 481.0,53.9 482.6,53.8 484.1,54.7 485.2,54.9 485.3,54.3 485.6,57.6 485.8,59.5 485.9,61.4 486.4,70.1 486.5,72.5 487.1,73.4 487.6,73.9 487.8,74.2 488.7,73.5 489.2,73.6 489.3,73.9 490.2,72.9 491.6,71.9 491.7,72.6 493.3,71.2 494.8,70.5 495.0,70.4 495.1,70.7 496.3,70.7 497.4,70.0 497.6,70.0 497.9,70.5 498.3,72.0 498.5,72.3 499.0,73.0 499.1,73.0 499.4,72.7 500.8,72.0 500.9,72.0 500.9,72.1 502.4,71.7 504.0,70.8 504.2,71.4 504.3,70.5 505.5,70.9 507.0,71.0 507.5,70.3 507.7,70.3 508.6,70.3 510.1,70.7 511.6,71.4 512.1,71.2 512.2,71.7 513.2,70.9 514.3,70.8 514.4,70.6 514.7,70.3 516.2,70.2 517.8,69.2 518.9,68.5 519.0,69.3 519.3,69.3 520.8,69.5 522.3,68.8 523.4,68.8 523.6,68.7 523.9,70.3 524.7,73.4 524.8,73.8 525.4,73.9 525.9,75.1 526.0,74.8 526.9,74.2 528.5,73.3 529.3,73.0 529.4,72.4 530.0,72.3 531.5,70.8 533.0,69.6 534.6,69.5 535.1,68.7 535.2,68.8 536.1,68.8 537.6,68.0 539.2,66.9 540.6,66.0 540.7,66.3 542.2,65.3 543.8,64.8 545.3,63.9 546.8,63.7 547.6,63.5 547.7,62.9 548.4,62.9 549.9,61.7 550.4,61.0 550.5,60.6 551.4,60.9 552.9,60.8 553.1,61.0 553.2,60.3 554.5,63.2 555.0,64.0 555.1,64.2 556.0,71.5 556.5,75.7 556.6,76.9 557.5,76.5 559.1,74.7 560.6,73.0 562.1,72.1 563.6,71.3 565.2,69.3 566.7,68.1 566.9,67.9 567.0,67.6 568.2,67.3 569.8,65.8 571.3,64.9 572.8,63.6 574.2,63.5 574.4,63.1 575.9,61.9 577.4,61.2 579.0,60.7 580.4,59.6 580.5,59.6 580.5,59.7 582.0,59.2 583.5,58.2 585.1,58.2 586.2,57.9 586.3,57.6 586.6,58.2 588.1,57.5 589.5,56.8 589.7,56.7 590.8,50.9 590.9,50.1 591.2,50.5 592.7,51.3 594.1,51.5 594.2,51.7 595.8,52.2 597.3,52.0 598.8,52.2 599.9,52.2 600.1,52.5 600.4,52.5 601.9,52.2 603.4,51.3 605.0,50.5 606.5,50.9 606.7,50.3 606.8,50.6 608.0,51.1 609.5,51.3 611.1,51.9 612.6,51.8 614.0,52.9 614.1,52.6 615.7,53.7 617.2,55.0 618.7,55.4 620.1,56.3 620.3,56.5 620.3,56.9 621.8,56.8 623.3,57.7 624.9,58.9 626.4,59.5 627.2,59.9 627.3,60.4 627.9,59.5 629.4,60.7 631.0,60.5 632.4,60.2 632.5,60.3 634.0,60.5 635.6,60.8 637.1,60.3 638.5,61.2 638.6,61.0 640.1,61.0 641.7,60.9 643.2,60.8 644.6,61.4 644.7,61.6 646.3,61.5 647.8,61.7 649.3,61.9 649.8,61.4 649.9,61.9 650.9,51.7 652.4,34.9 652.9,29.6 653.0,27.7 653.9,30.3 654.7,32.1 654.8,31.9 655.5,32.4 657.0,34.9 658.5,36.3 660.0,38.6 661.6,41.0 662.1,41.3 662.2,41.3" stroke="#f08a20" stroke-width="1.1"/>
<polyline points="479.5,61.0 481.0,61.3 482.6,60.8 484.1,61.6 484.6,61.8 484.7,61.2 485.6,61.2 487.1,61.9 488.7,62.0 489.2,61.1 489.3,62.2 490.2,62.1 491.7,61.6 493.3,61.7 494.8,61.5 495.0,61.7 495.1,62.0 496.2,66.5 496.3,67.1 496.8,69.5 496.9,70.2 497.9,70.6 499.4,69.9 500.8,70.1 500.9,69.8 500.9,69.9 502.4,68.8 504.0,68.7 505.4,66.9 505.5,67.4 505.5,66.7 507.0,66.2 508.6,64.9 510.0,63.9 510.1,63.5 511.6,61.9 513.2,60.7 514.3,59.8 514.4,59.6 514.7,59.5 516.2,58.5 517.8,57.8 517.9,57.5 518.1,57.0 519.3,57.0 520.8,57.6 522.3,57.0 523.4,56.8 523.6,57.0 523.9,57.1 525.4,57.0 526.9,56.9 528.5,57.0 529.3,57.4 529.4,57.2 530.0,57.3 531.5,56.9 533.0,56.8 534.6,56.8 535.1,56.5 535.2,56.2 536.1,56.0 537.6,56.4 539.2,56.1 540.6,56.6 540.7,56.8 542.2,57.3 543.8,56.9 545.3,58.0 545.5,58.3 545.6,57.9 546.8,58.7 548.4,59.1 549.1,60.0 549.3,59.4 549.9,60.3 551.0,62.4 551.1,62.8 551.4,62.3 552.8,61.1 552.9,61.5 552.9,61.4 554.5,61.8 556.0,62.8 557.1,63.6 557.2,63.5 557.5,63.6 559.1,64.0 560.6,64.1 561.1,64.9 561.2,64.1 562.1,63.9 563.6,64.0 565.2,64.3 566.7,63.7 566.9,63.8 567.0,64.4 567.5,73.6 567.6,76.1 568.2,75.9 569.8,74.6 571.3,73.8 572.8,73.5 574.4,72.5 575.9,71.5 577.4,70.9 579.0,69.8 580.5,69.1 582.0,68.3 583.5,68.1 584.6,66.7 584.8,67.6 585.1,65.1 585.6,61.8 585.7,61.3 586.6,61.6 588.1,61.5 589.7,61.7 590.5,61.0 590.6,61.2 591.2,61.7 592.7,61.1 594.2,62.0 595.0,61.8 595.2,62.4 595.8,61.9 597.3,61.7 598.8,61.9 599.9,62.2 600.1,61.6 600.4,62.4 601.9,62.7 603.4,64.0 604.5,64.7 604.7,64.6 605.0,65.0 606.4,66.3 606.5,66.9 608.0,66.2 609.1,64.7 609.2,65.0 609.5,64.8 611.1,64.6 612.6,64.3 613.7,63.8 613.8,64.2 614.1,64.3 614.9,64.4 615.1,64.4 615.7,70.2 616.2,74.8 616.3,76.0 617.2,75.7 618.7,76.3 620.1,75.3 620.3,75.3 620.3,76.1 621.8,74.1 623.3,73.4 624.9,72.8 626.4,71.2 627.9,70.6 629.3,69.4 629.4,69.1 631.0,68.1 632.5,67.3 634.0,66.8 635.4,66.6 635.6,66.1 635.6,65.8 637.1,65.2 638.6,65.0 640.1,64.9 641.6,64.3 641.7,64.5 641.7,64.2 643.2,64.4 644.7,63.6 646.3,63.1 647.7,63.4 647.8,62.7 649.3,63.2 650.7,61.8 650.9,62.3 650.9,62.0 652.0,49.2 652.1,47.7 652.4,48.7 653.9,49.9 655.3,52.1 655.5,51.7 657.0,53.1 658.5,54.3 660.0,55.9 661.6,57.0 662.1,57.7 662.2,57.4" stroke="#f08a20" stroke-width="1.1"/>
</g>
<line x1="479.50" y1="5.80" x2="479.50" y2="120.00" stroke="#999" stroke-width="1"/>
<line x1="479.00" y1="119.50" x2="663.60" y2="119.50" stroke="#999" stroke-width="1"/>
<line x1="479.50" y1="117.80" x2="479.50" y2="119.40" stroke="#888" stroke-width="0.7"/>
<line x1="485.62" y1="118.50" x2="485.62" y2="119.40" stroke="#888" stroke-width="0.7"/>
<line x1="491.74" y1="118.50" x2="491.74" y2="119.40" stroke="#888" stroke-width="0.7"/>
<line x1="497.86" y1="118.50" x2="497.86" y2="119.40" stroke="#888" stroke-width="0.7"/>
<line x1="503.98" y1="118.50" x2="503.98" y2="119.40" stroke="#888" stroke-width="0.7"/>
<line x1="510.10" y1="117.80" x2="510.10" y2="119.40" stroke="#888" stroke-width="0.7"/>
<line x1="516.22" y1="118.50" x2="516.22" y2="119.40" stroke="#888" stroke-width="0.7"/>
<line x1="522.34" y1="118.50" x2="522.34" y2="119.40" stroke="#888" stroke-width="0.7"/>
<line x1="528.46" y1="118.50" x2="528.46" y2="119.40" stroke="#888" stroke-width="0.7"/>
<line x1="534.58" y1="118.50" x2="534.58" y2="119.40" stroke="#888" stroke-width="0.7"/>
<line x1="540.70" y1="117.80" x2="540.70" y2="119.40" stroke="#888" stroke-width="0.7"/>
<line x1="546.82" y1="118.50" x2="546.82" y2="119.40" stroke="#888" stroke-width="0.7"/>
<line x1="552.94" y1="118.50" x2="552.94" y2="119.40" stroke="#888" stroke-width="0.7"/>
<line x1="559.06" y1="118.50" x2="559.06" y2="119.40" stroke="#888" stroke-width="0.7"/>
<line x1="565.18" y1="118.50" x2="565.18" y2="119.40" stroke="#888" stroke-width="0.7"/>
<line x1="571.30" y1="117.80" x2="571.30" y2="119.40" stroke="#888" stroke-width="0.7"/>
<line x1="577.42" y1="118.50" x2="577.42" y2="119.40" stroke="#888" stroke-width="0.7"/>
<line x1="583.54" y1="118.50" x2="583.54" y2="119.40" stroke="#888" stroke-width="0.7"/>
<line x1="589.66" y1="118.50" x2="589.66" y2="119.40" stroke="#888" stroke-width="0.7"/>
<line x1="595.78" y1="118.50" x2="595.78" y2="119.40" stroke="#888" stroke-width="0.7"/>
<line x1="601.90" y1="117.80" x2="601.90" y2="119.40" stroke="#888" stroke-width="0.7"/>
<line x1="608.02" y1="118.50" x2="608.02" y2="119.40" stroke="#888" stroke-width="0.7"/>
<line x1="614.14" y1="118.50" x2="614.14" y2="119.40" stroke="#888" stroke-width="0.7"/>
<line x1="620.26" y1="118.50" x2="620.26" y2="119.40" stroke="#888" stroke-width="0.7"/>
<line x1="626.38" y1="118.50" x2="626.38" y2="119.40" stroke="#888" stroke-width="0.7"/>
<line x1="632.50" y1="117.80" x2="632.50" y2="119.40" stroke="#888" stroke-width="0.7"/>
<line x1="638.62" y1="118.50" x2="638.62" y2="119.40" stroke="#888" stroke-width="0.7"/>
<line x1="644.74" y1="118.50" x2="644.74" y2="119.40" stroke="#888" stroke-width="0.7"/>
<line x1="650.86" y1="118.50" x2="650.86" y2="119.40" stroke="#888" stroke-width="0.7"/>
<line x1="656.98" y1="118.50" x2="656.98" y2="119.40" stroke="#888" stroke-width="0.7"/>
<line x1="663.10" y1="117.80" x2="663.10" y2="119.40" stroke="#888" stroke-width="0.7"/>
<line x1="479.50" y1="119.40" x2="481.10" y2="119.40" stroke="#888" stroke-width="0.7"/>
<line x1="479.50" y1="113.77" x2="480.40" y2="113.77" stroke="#888" stroke-width="0.7"/>
<line x1="479.50" y1="108.13" x2="480.40" y2="108.13" stroke="#888" stroke-width="0.7"/>
<line x1="479.50" y1="102.50" x2="480.40" y2="102.50" stroke="#888" stroke-width="0.7"/>
<line x1="479.50" y1="96.86" x2="480.40" y2="96.86" stroke="#888" stroke-width="0.7"/>
<line x1="479.50" y1="91.23" x2="481.10" y2="91.23" stroke="#888" stroke-width="0.7"/>
<line x1="479.50" y1="85.59" x2="480.40" y2="85.59" stroke="#888" stroke-width="0.7"/>
<line x1="479.50" y1="79.95" x2="480.40" y2="79.95" stroke="#888" stroke-width="0.7"/>
<line x1="479.50" y1="74.32" x2="480.40" y2="74.32" stroke="#888" stroke-width="0.7"/>
<line x1="479.50" y1="68.69" x2="480.40" y2="68.69" stroke="#888" stroke-width="0.7"/>
<line x1="479.50" y1="63.05" x2="481.10" y2="63.05" stroke="#888" stroke-width="0.7"/>
<line x1="479.50" y1="57.41" x2="480.40" y2="57.41" stroke="#888" stroke-width="0.7"/>
<line x1="479.50" y1="51.78" x2="480.40" y2="51.78" stroke="#888" stroke-width="0.7"/>
<line x1="479.50" y1="46.14" x2="480.40" y2="46.14" stroke="#888" stroke-width="0.7"/>
<line x1="479.50" y1="40.51" x2="480.40" y2="40.51" stroke="#888" stroke-width="0.7"/>
<line x1="479.50" y1="34.88" x2="481.10" y2="34.88" stroke="#888" stroke-width="0.7"/>
<line x1="479.50" y1="29.24" x2="480.40" y2="29.24" stroke="#888" stroke-width="0.7"/>
<line x1="479.50" y1="23.60" x2="480.40" y2="23.60" stroke="#888" stroke-width="0.7"/>
<line x1="479.50" y1="17.97" x2="480.40" y2="17.97" stroke="#888" stroke-width="0.7"/>
<line x1="479.50" y1="12.33" x2="480.40" y2="12.33" stroke="#888" stroke-width="0.7"/>
<line x1="479.50" y1="6.70" x2="481.10" y2="6.70" stroke="#888" stroke-width="0.7"/>
<text x="479.50" y="127.20" font-size="6.7" text-anchor="middle" fill="#222" font-weight="normal" stroke="#222" stroke-width="0.12">0</text>
<text x="510.10" y="127.20" font-size="6.7" text-anchor="middle" fill="#222" font-weight="normal" stroke="#222" stroke-width="0.12">1</text>
<text x="540.70" y="127.20" font-size="6.7" text-anchor="middle" fill="#222" font-weight="normal" stroke="#222" stroke-width="0.12">2</text>
<text x="571.30" y="127.20" font-size="6.7" text-anchor="middle" fill="#222" font-weight="normal" stroke="#222" stroke-width="0.12">3</text>
<text x="601.90" y="127.20" font-size="6.7" text-anchor="middle" fill="#222" font-weight="normal" stroke="#222" stroke-width="0.12">4</text>
<text x="632.50" y="127.20" font-size="6.7" text-anchor="middle" fill="#222" font-weight="normal" stroke="#222" stroke-width="0.12">5</text>
<text x="663.10" y="127.20" font-size="6.7" text-anchor="middle" fill="#222" font-weight="normal" stroke="#222" stroke-width="0.12">6</text>
<text x="478.30" y="121.80" font-size="6.7" text-anchor="end" fill="#222" font-weight="normal" stroke="#222" stroke-width="0.12">0.0</text>
<text x="478.30" y="93.63" font-size="6.7" text-anchor="end" fill="#222" font-weight="normal" stroke="#222" stroke-width="0.12">0.5</text>
<text x="478.30" y="65.45" font-size="6.7" text-anchor="end" fill="#222" font-weight="normal" stroke="#222" stroke-width="0.12">1.0</text>
<text x="478.30" y="37.27" font-size="6.7" text-anchor="end" fill="#222" font-weight="normal" stroke="#222" stroke-width="0.12">1.5</text>
<text x="478.30" y="9.10" font-size="6.7" text-anchor="end" fill="#222" font-weight="normal" stroke="#222" stroke-width="0.12">2.0</text>
<text x="574.00" y="134.50" font-size="8.1" text-anchor="middle" fill="#111" font-weight="normal" stroke="#111" stroke-width="0.15">Time (h)</text>
<text transform="translate(456.4,55.6) rotate(-90)" font-size="8.05" text-anchor="middle" fill="#111" stroke="#111" stroke-width="0.12">Normalized Metabolite</text>
<text transform="translate(466.0,55.9) rotate(-90)" font-size="8.12" text-anchor="middle" fill="#111" stroke="#111" stroke-width="0.12">Concentration (arb. units)</text>
<g>
<rect x="34.02" y="261.59" width="3.62" height="0.91" fill="#ffb3b3" stroke="#c99a9a" stroke-width="0.5"/>
<rect x="37.63" y="261.79" width="3.62" height="0.71" fill="#ffb3b3" stroke="#c99a9a" stroke-width="0.5"/>
<rect x="48.49" y="261.99" width="3.62" height="0.51" fill="#ffb3b3" stroke="#c99a9a" stroke-width="0.5"/>
<rect x="52.10" y="261.99" width="3.62" height="0.51" fill="#ffb3b3" stroke="#c99a9a" stroke-width="0.5"/>
<rect x="55.72" y="261.99" width="3.62" height="0.51" fill="#ffb3b3" stroke="#c99a9a" stroke-width="0.5"/>
<rect x="70.19" y="254.07" width="3.62" height="8.43" fill="#ffb3b3" stroke="#c99a9a" stroke-width="0.5"/>
<rect x="73.81" y="245.85" width="3.62" height="16.65" fill="#ffb3b3" stroke="#c99a9a" stroke-width="0.5"/>
<rect x="77.43" y="249.00" width="3.62" height="13.50" fill="#ffb3b3" stroke="#c99a9a" stroke-width="0.5"/>
<rect x="81.04" y="225.35" width="3.62" height="37.15" fill="#ffb3b3" stroke="#c99a9a" stroke-width="0.5"/>
<rect x="84.66" y="218.14" width="3.62" height="44.36" fill="#ffb3b3" stroke="#c99a9a" stroke-width="0.5"/>
<rect x="88.28" y="201.09" width="3.62" height="61.41" fill="#ffb3b3" stroke="#c99a9a" stroke-width="0.5"/>
<rect x="91.90" y="187.69" width="3.62" height="74.81" fill="#ffb3b3" stroke="#c99a9a" stroke-width="0.5"/>
<rect x="95.51" y="188.71" width="3.62" height="73.79" fill="#ffb3b3" stroke="#c99a9a" stroke-width="0.5"/>
<rect x="99.13" y="158.06" width="3.62" height="104.44" fill="#ffb3b3" stroke="#c99a9a" stroke-width="0.5"/>
<rect x="102.75" y="182.42" width="3.62" height="80.08" fill="#ffb3b3" stroke="#c99a9a" stroke-width="0.5"/>
<rect x="106.37" y="209.31" width="3.62" height="53.19" fill="#ffb3b3" stroke="#c99a9a" stroke-width="0.5"/>
<rect x="109.98" y="191.85" width="3.62" height="70.65" fill="#ffb3b3" stroke="#c99a9a" stroke-width="0.5"/>
<rect x="113.60" y="232.56" width="3.62" height="29.94" fill="#ffb3b3" stroke="#c99a9a" stroke-width="0.5"/>
<rect x="117.22" y="227.28" width="3.62" height="35.22" fill="#ffb3b3" stroke="#c99a9a" stroke-width="0.5"/>
<rect x="120.84" y="230.22" width="3.62" height="32.28" fill="#ffb3b3" stroke="#c99a9a" stroke-width="0.5"/>
<rect x="124.45" y="244.94" width="3.62" height="17.56" fill="#ffb3b3" stroke="#c99a9a" stroke-width="0.5"/>
<rect x="128.07" y="253.06" width="3.62" height="9.44" fill="#ffb3b3" stroke="#c99a9a" stroke-width="0.5"/>
<rect x="131.69" y="244.84" width="3.62" height="17.66" fill="#ffb3b3" stroke="#c99a9a" stroke-width="0.5"/>
<rect x="135.31" y="259.25" width="3.62" height="3.25" fill="#ffb3b3" stroke="#c99a9a" stroke-width="0.5"/>
<rect x="138.92" y="258.03" width="3.62" height="4.47" fill="#ffb3b3" stroke="#c99a9a" stroke-width="0.5"/>
<rect x="142.54" y="255.09" width="3.62" height="7.41" fill="#ffb3b3" stroke="#c99a9a" stroke-width="0.5"/>
<rect x="146.16" y="261.59" width="3.62" height="0.91" fill="#ffb3b3" stroke="#c99a9a" stroke-width="0.5"/>
<rect x="149.78" y="261.79" width="3.62" height="0.71" fill="#ffb3b3" stroke="#c99a9a" stroke-width="0.5"/>
<rect x="178.72" y="261.99" width="3.62" height="0.51" fill="#ffb3b3" stroke="#c99a9a" stroke-width="0.5"/>
<rect x="182.34" y="261.99" width="3.62" height="0.51" fill="#ffb3b3" stroke="#c99a9a" stroke-width="0.5"/>
</g>
<line x1="28.50" y1="152.00" x2="28.50" y2="264.60" stroke="#aaa" stroke-width="1"/>
<line x1="28.50" y1="262.50" x2="214.50" y2="262.50" stroke="#aaa" stroke-width="1"/>
<line x1="28.50" y1="257.53" x2="29.50" y2="257.53" stroke="#999" stroke-width="0.6"/>
<line x1="28.50" y1="252.45" x2="29.50" y2="252.45" stroke="#999" stroke-width="0.6"/>
<line x1="28.50" y1="247.38" x2="29.50" y2="247.38" stroke="#999" stroke-width="0.6"/>
<line x1="28.50" y1="242.30" x2="29.50" y2="242.30" stroke="#999" stroke-width="0.6"/>
<line x1="28.50" y1="237.23" x2="29.50" y2="237.23" stroke="#999" stroke-width="0.6"/>
<line x1="28.50" y1="232.15" x2="29.50" y2="232.15" stroke="#999" stroke-width="0.6"/>
<line x1="28.50" y1="227.08" x2="29.50" y2="227.08" stroke="#999" stroke-width="0.6"/>
<line x1="28.50" y1="222.00" x2="29.50" y2="222.00" stroke="#999" stroke-width="0.6"/>
<line x1="28.50" y1="216.93" x2="29.50" y2="216.93" stroke="#999" stroke-width="0.6"/>
<line x1="28.50" y1="211.85" x2="29.50" y2="211.85" stroke="#999" stroke-width="0.6"/>
<line x1="28.50" y1="206.78" x2="29.50" y2="206.78" stroke="#999" stroke-width="0.6"/>
<line x1="28.50" y1="201.70" x2="29.50" y2="201.70" stroke="#999" stroke-width="0.6"/>
<line x1="28.50" y1="196.63" x2="29.50" y2="196.63" stroke="#999" stroke-width="0.6"/>
<line x1="28.50" y1="191.55" x2="29.50" y2="191.55" stroke="#999" stroke-width="0.6"/>
<line x1="28.50" y1="186.48" x2="29.50" y2="186.48" stroke="#999" stroke-width="0.6"/>
<line x1="28.50" y1="181.40" x2="29.50" y2="181.40" stroke="#999" stroke-width="0.6"/>
<line x1="28.50" y1="176.33" x2="29.50" y2="176.33" stroke="#999" stroke-width="0.6"/>
<line x1="28.50" y1="171.25" x2="29.50" y2="171.25" stroke="#999" stroke-width="0.6"/>
<line x1="28.50" y1="166.18" x2="29.50" y2="166.18" stroke="#999" stroke-width="0.6"/>
<line x1="28.50" y1="161.10" x2="29.50" y2="161.10" stroke="#999" stroke-width="0.6"/>
<line x1="28.50" y1="156.03" x2="29.50" y2="156.03" stroke="#999" stroke-width="0.6"/>
<line x1="28.50" y1="262.60" x2="30.30" y2="262.60" stroke="#999" stroke-width="0.7"/>
<text x="27.00" y="265.10" font-size="7" text-anchor="end" fill="#222" font-weight="normal" stroke="#222" stroke-width="0.12">0</text>
<line x1="28.50" y1="242.30" x2="30.30" y2="242.30" stroke="#999" stroke-width="0.7"/>
<text x="27.00" y="244.80" font-size="7" text-anchor="end" fill="#222" font-weight="normal" stroke="#222" stroke-width="0.12">20</text>
<line x1="28.50" y1="222.00" x2="30.30" y2="222.00" stroke="#999" stroke-width="0.7"/>
<text x="27.00" y="224.50" font-size="7" text-anchor="end" fill="#222" font-weight="normal" stroke="#222" stroke-width="0.12">40</text>
<line x1="28.50" y1="201.70" x2="30.30" y2="201.70" stroke="#999" stroke-width="0.7"/>
<text x="27.00" y="204.20" font-size="7" text-anchor="end" fill="#222" font-weight="normal" stroke="#222" stroke-width="0.12">60</text>
<line x1="28.50" y1="181.40" x2="30.30" y2="181.40" stroke="#999" stroke-width="0.7"/>
<text x="27.00" y="183.90" font-size="7" text-anchor="end" fill="#222" font-weight="normal" stroke="#222" stroke-width="0.12">80</text>
<line x1="28.50" y1="161.10" x2="30.30" y2="161.10" stroke="#999" stroke-width="0.7"/>
<text x="27.00" y="163.60" font-size="7" text-anchor="end" fill="#222" font-weight="normal" stroke="#222" stroke-width="0.12">100</text>
<line x1="30.40" y1="260.70" x2="30.40" y2="262.50" stroke="#999" stroke-width="0.6"/>
<line x1="37.63" y1="261.50" x2="37.63" y2="262.50" stroke="#999" stroke-width="0.6"/>
<line x1="44.87" y1="261.50" x2="44.87" y2="262.50" stroke="#999" stroke-width="0.6"/>
<line x1="52.11" y1="261.50" x2="52.11" y2="262.50" stroke="#999" stroke-width="0.6"/>
<line x1="59.34" y1="261.50" x2="59.34" y2="262.50" stroke="#999" stroke-width="0.6"/>
<line x1="66.57" y1="260.70" x2="66.57" y2="262.50" stroke="#999" stroke-width="0.6"/>
<line x1="73.81" y1="261.50" x2="73.81" y2="262.50" stroke="#999" stroke-width="0.6"/>
<line x1="81.05" y1="261.50" x2="81.05" y2="262.50" stroke="#999" stroke-width="0.6"/>
<line x1="88.28" y1="261.50" x2="88.28" y2="262.50" stroke="#999" stroke-width="0.6"/>
<line x1="95.51" y1="261.50" x2="95.51" y2="262.50" stroke="#999" stroke-width="0.6"/>
<line x1="102.75" y1="260.70" x2="102.75" y2="262.50" stroke="#999" stroke-width="0.6"/>
<line x1="109.98" y1="261.50" x2="109.98" y2="262.50" stroke="#999" stroke-width="0.6"/>
<line x1="117.22" y1="261.50" x2="117.22" y2="262.50" stroke="#999" stroke-width="0.6"/>
<line x1="124.45" y1="261.50" x2="124.45" y2="262.50" stroke="#999" stroke-width="0.6"/>
<line x1="131.69" y1="261.50" x2="131.69" y2="262.50" stroke="#999" stroke-width="0.6"/>
<line x1="138.92" y1="260.70" x2="138.92" y2="262.50" stroke="#999" stroke-width="0.6"/>
<line x1="146.16" y1="261.50" x2="146.16" y2="262.50" stroke="#999" stroke-width="0.6"/>
<line x1="153.40" y1="261.50" x2="153.40" y2="262.50" stroke="#999" stroke-width="0.6"/>
<line x1="160.63" y1="261.50" x2="160.63" y2="262.50" stroke="#999" stroke-width="0.6"/>
<line x1="167.87" y1="261.50" x2="167.87" y2="262.50" stroke="#999" stroke-width="0.6"/>
<line x1="175.10" y1="260.70" x2="175.10" y2="262.50" stroke="#999" stroke-width="0.6"/>
<line x1="182.34" y1="261.50" x2="182.34" y2="262.50" stroke="#999" stroke-width="0.6"/>
<line x1="189.57" y1="261.50" x2="189.57" y2="262.50" stroke="#999" stroke-width="0.6"/>
<line x1="196.81" y1="261.50" x2="196.81" y2="262.50" stroke="#999" stroke-width="0.6"/>
<line x1="204.04" y1="261.50" x2="204.04" y2="262.50" stroke="#999" stroke-width="0.6"/>
<line x1="211.28" y1="260.70" x2="211.28" y2="262.50" stroke="#999" stroke-width="0.6"/>
<text x="66.57" y="269.90" font-size="7" text-anchor="middle" fill="#222" font-weight="normal" stroke="#222" stroke-width="0.12">0.5</text>
<text x="102.75" y="269.90" font-size="7" text-anchor="middle" fill="#222" font-weight="normal" stroke="#222" stroke-width="0.12">1.0</text>
<text x="138.92" y="269.90" font-size="7" text-anchor="middle" fill="#222" font-weight="normal" stroke="#222" stroke-width="0.12">1.5</text>
<text x="175.10" y="269.90" font-size="7" text-anchor="middle" fill="#222" font-weight="normal" stroke="#222" stroke-width="0.12">2.0</text>
<text x="211.28" y="269.90" font-size="7" text-anchor="middle" fill="#222" font-weight="normal" stroke="#222" stroke-width="0.12">2.5</text>
<text x="127.20" y="278.30" font-size="8.2" text-anchor="middle" fill="#111" font-weight="normal" stroke="#111" stroke-width="0.12">Normalized Protein Concentration (arb. units)</text>
<polyline points="46.32,262.50 47.15,262.50 47.97,262.50 48.80,262.50 49.63,262.50 50.46,262.50 51.29,262.50 52.12,262.50 52.95,262.50 53.78,262.50 54.61,262.50 55.44,262.47 56.26,262.41 57.09,262.34 57.92,262.24 58.75,262.11 59.58,261.94 60.41,261.72 61.24,261.46 62.07,261.12 62.90,260.72 63.72,260.23 64.55,259.65 65.38,258.96 66.21,258.15 67.04,257.22 67.87,256.15 68.70,254.93 69.53,253.56 70.36,252.02 71.19,250.32 72.01,248.44 72.84,246.39 73.67,244.16 74.50,241.77 75.33,239.21 76.16,236.49 76.99,233.62 77.82,230.62 78.65,227.49 79.47,224.25 80.30,220.93 81.13,217.53 81.96,214.08 82.79,210.61 83.62,207.13 84.45,203.67 85.28,200.25 86.11,196.89 86.93,193.62 87.76,190.47 88.59,187.44 89.42,184.56 90.25,181.85 91.08,179.33 91.91,177.01 92.74,174.90 93.57,173.02 94.40,171.37 95.22,169.97 96.05,168.81 96.88,167.91 97.71,167.25 98.54,166.84 99.37,166.69 100.20,166.77 101.03,167.09 101.86,167.64 102.68,168.40 103.51,169.38 104.34,170.55 105.17,171.91 106.00,173.44 106.83,175.13 107.66,176.96 108.49,178.92 109.32,181.00 110.14,183.18 110.97,185.45 111.80,187.79 112.63,190.19 113.46,192.64 114.29,195.13 115.12,197.64 115.95,200.16 116.78,202.68 117.61,205.19 118.43,207.68 119.26,210.15 120.09,212.58 120.92,214.97 121.75,217.31 122.58,219.60 123.41,221.83 124.24,224.00 125.07,226.10 125.89,228.14 126.72,230.10 127.55,232.00 128.38,233.81 129.21,235.56 130.04,237.23 130.87,238.82 131.70,240.35 132.53,241.80 133.36,243.17 134.18,244.48 135.01,245.72 135.84,246.89 136.67,247.99 137.50,249.03 138.33,250.01 139.16,250.94 139.99,251.80 140.82,252.61 141.64,253.37 142.47,254.08 143.30,254.74 144.13,255.36 144.96,255.94 145.79,256.47 146.62,256.97 147.45,257.43 148.28,257.86 149.10,258.26 149.93,258.62 150.76,258.96 151.59,259.27 152.42,259.56 153.25,259.83 154.08,260.07 154.91,260.30 155.74,260.50 156.57,260.69 157.39,260.87 158.22,261.02 159.05,261.17 159.88,261.30 160.71,261.42 161.54,261.54 162.37,261.64 163.20,261.73 164.03,261.81 164.85,261.89 165.68,261.96 166.51,262.02 167.34,262.08 168.17,262.13 169.00,262.18 169.83,262.22 170.66,262.26 171.49,262.29 172.32,262.32 173.14,262.35 173.97,262.38 174.80,262.40 175.63,262.42 176.46,262.44 177.29,262.46 178.12,262.47 178.95,262.49 179.78,262.50 180.60,262.50 181.43,262.50 182.26,262.50 183.09,262.50 183.92,262.50 184.75,262.50 185.58,262.50 186.41,262.50 187.24,262.50 188.06,262.50 188.89,262.50 189.72,262.50 190.55,262.50 191.38,262.50 192.21,262.50 193.04,262.50 193.87,262.50 194.70,262.50 195.53,262.50 196.35,262.50 197.18,262.50 198.01,262.50 198.84,262.50 199.67,262.50 200.50,262.50 201.33,262.50 202.16,262.50 202.99,262.50 203.81,262.50 204.64,262.50 205.47,262.50 206.30,262.50 207.13,262.50 207.96,262.50 208.79,262.50 209.62,262.50 210.45,262.50 211.28,262.50" fill="none" stroke="#ff0000" stroke-width="1.3" stroke-linejoin="round"/>
<g>
<rect x="281.70" y="264.53" width="3.80" height="-1.03" fill="#ffffb8" stroke="#c8c090" stroke-width="0.5"/>
<rect x="289.30" y="264.53" width="3.80" height="-1.03" fill="#ffffb8" stroke="#c8c090" stroke-width="0.5"/>
<rect x="296.90" y="264.53" width="3.80" height="-1.03" fill="#ffffb8" stroke="#c8c090" stroke-width="0.5"/>
<rect x="304.50" y="261.63" width="3.80" height="1.87" fill="#ffffb8" stroke="#c8c090" stroke-width="0.5"/>
<rect x="308.30" y="259.18" width="3.80" height="4.32" fill="#ffffb8" stroke="#c8c090" stroke-width="0.5"/>
<rect x="312.10" y="244.48" width="3.80" height="19.02" fill="#ffffb8" stroke="#c8c090" stroke-width="0.5"/>
<rect x="315.90" y="240.19" width="3.80" height="23.31" fill="#ffffb8" stroke="#c8c090" stroke-width="0.5"/>
<rect x="319.70" y="235.45" width="3.80" height="28.05" fill="#ffffb8" stroke="#c8c090" stroke-width="0.5"/>
<rect x="323.50" y="202.99" width="3.80" height="60.51" fill="#ffffb8" stroke="#c8c090" stroke-width="0.5"/>
<rect x="327.30" y="191.05" width="3.80" height="72.45" fill="#ffffb8" stroke="#c8c090" stroke-width="0.5"/>
<rect x="331.10" y="180.33" width="3.80" height="83.17" fill="#ffffb8" stroke="#c8c090" stroke-width="0.5"/>
<rect x="334.90" y="195.64" width="3.80" height="67.86" fill="#ffffb8" stroke="#c8c090" stroke-width="0.5"/>
<rect x="338.70" y="185.08" width="3.80" height="78.42" fill="#ffffb8" stroke="#c8c090" stroke-width="0.5"/>
<rect x="342.50" y="168.39" width="3.80" height="95.11" fill="#ffffb8" stroke="#c8c090" stroke-width="0.5"/>
<rect x="346.30" y="172.67" width="3.80" height="90.83" fill="#ffffb8" stroke="#c8c090" stroke-width="0.5"/>
<rect x="350.10" y="188.29" width="3.80" height="75.21" fill="#ffffb8" stroke="#c8c090" stroke-width="0.5"/>
<rect x="353.90" y="198.85" width="3.80" height="64.65" fill="#ffffb8" stroke="#c8c090" stroke-width="0.5"/>
<rect x="357.70" y="204.06" width="3.80" height="59.44" fill="#ffffb8" stroke="#c8c090" stroke-width="0.5"/>
<rect x="361.50" y="223.96" width="3.80" height="39.54" fill="#ffffb8" stroke="#c8c090" stroke-width="0.5"/>
<rect x="365.30" y="246.01" width="3.80" height="17.49" fill="#ffffb8" stroke="#c8c090" stroke-width="0.5"/>
<rect x="369.10" y="243.25" width="3.80" height="20.25" fill="#ffffb8" stroke="#c8c090" stroke-width="0.5"/>
<rect x="372.90" y="261.78" width="3.80" height="1.72" fill="#ffffb8" stroke="#c8c090" stroke-width="0.5"/>
<rect x="376.70" y="260.55" width="3.80" height="2.95" fill="#ffffb8" stroke="#c8c090" stroke-width="0.5"/>
<rect x="380.50" y="260.09" width="3.80" height="3.41" fill="#ffffb8" stroke="#c8c090" stroke-width="0.5"/>
</g>
<line x1="260.50" y1="152.20" x2="260.50" y2="268.00" stroke="#aaa" stroke-width="1"/>
<line x1="262.30" y1="263.50" x2="458.00" y2="263.50" stroke="#aaa" stroke-width="1"/>
<line x1="260.50" y1="262.24" x2="261.50" y2="262.24" stroke="#999" stroke-width="0.6"/>
<line x1="260.50" y1="259.18" x2="261.50" y2="259.18" stroke="#999" stroke-width="0.6"/>
<line x1="260.50" y1="256.11" x2="261.50" y2="256.11" stroke="#999" stroke-width="0.6"/>
<line x1="260.50" y1="253.05" x2="261.50" y2="253.05" stroke="#999" stroke-width="0.6"/>
<line x1="260.50" y1="249.99" x2="261.50" y2="249.99" stroke="#999" stroke-width="0.6"/>
<line x1="260.50" y1="246.93" x2="261.50" y2="246.93" stroke="#999" stroke-width="0.6"/>
<line x1="260.50" y1="243.87" x2="261.50" y2="243.87" stroke="#999" stroke-width="0.6"/>
<line x1="260.50" y1="240.80" x2="261.50" y2="240.80" stroke="#999" stroke-width="0.6"/>
<line x1="260.50" y1="237.74" x2="261.50" y2="237.74" stroke="#999" stroke-width="0.6"/>
<line x1="260.50" y1="234.68" x2="261.50" y2="234.68" stroke="#999" stroke-width="0.6"/>
<line x1="260.50" y1="231.62" x2="261.50" y2="231.62" stroke="#999" stroke-width="0.6"/>
<line x1="260.50" y1="228.56" x2="261.50" y2="228.56" stroke="#999" stroke-width="0.6"/>
<line x1="260.50" y1="225.49" x2="261.50" y2="225.49" stroke="#999" stroke-width="0.6"/>
<line x1="260.50" y1="222.43" x2="261.50" y2="222.43" stroke="#999" stroke-width="0.6"/>
<line x1="260.50" y1="219.37" x2="261.50" y2="219.37" stroke="#999" stroke-width="0.6"/>
<line x1="260.50" y1="216.31" x2="261.50" y2="216.31" stroke="#999" stroke-width="0.6"/>
<line x1="260.50" y1="213.25" x2="261.50" y2="213.25" stroke="#999" stroke-width="0.6"/>
<line x1="260.50" y1="210.18" x2="261.50" y2="210.18" stroke="#999" stroke-width="0.6"/>
<line x1="260.50" y1="207.12" x2="261.50" y2="207.12" stroke="#999" stroke-width="0.6"/>
<line x1="260.50" y1="204.06" x2="261.50" y2="204.06" stroke="#999" stroke-width="0.6"/>
<line x1="260.50" y1="201.00" x2="261.50" y2="201.00" stroke="#999" stroke-width="0.6"/>
<line x1="260.50" y1="197.94" x2="261.50" y2="197.94" stroke="#999" stroke-width="0.6"/>
<line x1="260.50" y1="194.87" x2="261.50" y2="194.87" stroke="#999" stroke-width="0.6"/>
<line x1="260.50" y1="191.81" x2="261.50" y2="191.81" stroke="#999" stroke-width="0.6"/>
<line x1="260.50" y1="188.75" x2="261.50" y2="188.75" stroke="#999" stroke-width="0.6"/>
<line x1="260.50" y1="185.69" x2="261.50" y2="185.69" stroke="#999" stroke-width="0.6"/>
<line x1="260.50" y1="182.63" x2="261.50" y2="182.63" stroke="#999" stroke-width="0.6"/>
<line x1="260.50" y1="179.56" x2="261.50" y2="179.56" stroke="#999" stroke-width="0.6"/>
<line x1="260.50" y1="176.50" x2="261.50" y2="176.50" stroke="#999" stroke-width="0.6"/>
<line x1="260.50" y1="173.44" x2="261.50" y2="173.44" stroke="#999" stroke-width="0.6"/>
<line x1="260.50" y1="170.38" x2="261.50" y2="170.38" stroke="#999" stroke-width="0.6"/>
<line x1="260.50" y1="167.32" x2="261.50" y2="167.32" stroke="#999" stroke-width="0.6"/>
<line x1="260.50" y1="164.25" x2="261.50" y2="164.25" stroke="#999" stroke-width="0.6"/>
<line x1="260.50" y1="161.19" x2="261.50" y2="161.19" stroke="#999" stroke-width="0.6"/>
<line x1="260.50" y1="158.13" x2="261.50" y2="158.13" stroke="#999" stroke-width="0.6"/>
<line x1="260.50" y1="155.07" x2="261.50" y2="155.07" stroke="#999" stroke-width="0.6"/>
<line x1="260.50" y1="265.30" x2="262.30" y2="265.30" stroke="#999" stroke-width="0.7"/>
<text x="259.00" y="267.80" font-size="7" text-anchor="end" fill="#222" font-weight="normal" stroke="#222" stroke-width="0.12">0</text>
<line x1="260.50" y1="249.99" x2="262.30" y2="249.99" stroke="#999" stroke-width="0.7"/>
<text x="259.00" y="252.49" font-size="7" text-anchor="end" fill="#222" font-weight="normal" stroke="#222" stroke-width="0.12">10</text>
<line x1="260.50" y1="234.68" x2="262.30" y2="234.68" stroke="#999" stroke-width="0.7"/>
<text x="259.00" y="237.18" font-size="7" text-anchor="end" fill="#222" font-weight="normal" stroke="#222" stroke-width="0.12">20</text>
<line x1="260.50" y1="219.37" x2="262.30" y2="219.37" stroke="#999" stroke-width="0.7"/>
<text x="259.00" y="221.87" font-size="7" text-anchor="end" fill="#222" font-weight="normal" stroke="#222" stroke-width="0.12">30</text>
<line x1="260.50" y1="204.06" x2="262.30" y2="204.06" stroke="#999" stroke-width="0.7"/>
<text x="259.00" y="206.56" font-size="7" text-anchor="end" fill="#222" font-weight="normal" stroke="#222" stroke-width="0.12">40</text>
<line x1="260.50" y1="188.75" x2="262.30" y2="188.75" stroke="#999" stroke-width="0.7"/>
<text x="259.00" y="191.25" font-size="7" text-anchor="end" fill="#222" font-weight="normal" stroke="#222" stroke-width="0.12">50</text>
<line x1="260.50" y1="173.44" x2="262.30" y2="173.44" stroke="#999" stroke-width="0.7"/>
<text x="259.00" y="175.94" font-size="7" text-anchor="end" fill="#222" font-weight="normal" stroke="#222" stroke-width="0.12">60</text>
<line x1="260.50" y1="158.13" x2="262.30" y2="158.13" stroke="#999" stroke-width="0.7"/>
<text x="259.00" y="160.63" font-size="7" text-anchor="end" fill="#222" font-weight="normal" stroke="#222" stroke-width="0.12">70</text>
<line x1="266.50" y1="261.70" x2="266.50" y2="263.50" stroke="#999" stroke-width="0.6"/>
<line x1="274.10" y1="262.50" x2="274.10" y2="263.50" stroke="#999" stroke-width="0.6"/>
<line x1="281.70" y1="262.50" x2="281.70" y2="263.50" stroke="#999" stroke-width="0.6"/>
<line x1="289.30" y1="262.50" x2="289.30" y2="263.50" stroke="#999" stroke-width="0.6"/>
<line x1="296.90" y1="262.50" x2="296.90" y2="263.50" stroke="#999" stroke-width="0.6"/>
<line x1="304.50" y1="261.70" x2="304.50" y2="263.50" stroke="#999" stroke-width="0.6"/>
<line x1="312.10" y1="262.50" x2="312.10" y2="263.50" stroke="#999" stroke-width="0.6"/>
<line x1="319.70" y1="262.50" x2="319.70" y2="263.50" stroke="#999" stroke-width="0.6"/>
<line x1="327.30" y1="262.50" x2="327.30" y2="263.50" stroke="#999" stroke-width="0.6"/>
<line x1="334.90" y1="262.50" x2="334.90" y2="263.50" stroke="#999" stroke-width="0.6"/>
<line x1="342.50" y1="261.70" x2="342.50" y2="263.50" stroke="#999" stroke-width="0.6"/>
<line x1="350.10" y1="262.50" x2="350.10" y2="263.50" stroke="#999" stroke-width="0.6"/>
<line x1="357.70" y1="262.50" x2="357.70" y2="263.50" stroke="#999" stroke-width="0.6"/>
<line x1="365.30" y1="262.50" x2="365.30" y2="263.50" stroke="#999" stroke-width="0.6"/>
<line x1="372.90" y1="262.50" x2="372.90" y2="263.50" stroke="#999" stroke-width="0.6"/>
<line x1="380.50" y1="261.70" x2="380.50" y2="263.50" stroke="#999" stroke-width="0.6"/>
<line x1="388.10" y1="262.50" x2="388.10" y2="263.50" stroke="#999" stroke-width="0.6"/>
<line x1="395.70" y1="262.50" x2="395.70" y2="263.50" stroke="#999" stroke-width="0.6"/>
<line x1="403.30" y1="262.50" x2="403.30" y2="263.50" stroke="#999" stroke-width="0.6"/>
<line x1="410.90" y1="262.50" x2="410.90" y2="263.50" stroke="#999" stroke-width="0.6"/>
<line x1="418.50" y1="261.70" x2="418.50" y2="263.50" stroke="#999" stroke-width="0.6"/>
<line x1="426.10" y1="262.50" x2="426.10" y2="263.50" stroke="#999" stroke-width="0.6"/>
<line x1="433.70" y1="262.50" x2="433.70" y2="263.50" stroke="#999" stroke-width="0.6"/>
<line x1="441.30" y1="262.50" x2="441.30" y2="263.50" stroke="#999" stroke-width="0.6"/>
<line x1="448.90" y1="262.50" x2="448.90" y2="263.50" stroke="#999" stroke-width="0.6"/>
<line x1="456.50" y1="261.70" x2="456.50" y2="263.50" stroke="#999" stroke-width="0.6"/>
<text x="304.50" y="270.90" font-size="7" text-anchor="middle" fill="#222" font-weight="normal" stroke="#222" stroke-width="0.12">0.5</text>
<text x="342.50" y="270.90" font-size="7" text-anchor="middle" fill="#222" font-weight="normal" stroke="#222" stroke-width="0.12">1.0</text>
<text x="380.50" y="270.90" font-size="7" text-anchor="middle" fill="#222" font-weight="normal" stroke="#222" stroke-width="0.12">1.5</text>
<text x="418.50" y="270.90" font-size="7" text-anchor="middle" fill="#222" font-weight="normal" stroke="#222" stroke-width="0.12">2.0</text>
<text x="456.50" y="270.90" font-size="7" text-anchor="middle" fill="#222" font-weight="normal" stroke="#222" stroke-width="0.12">2.5</text>
<text x="365.40" y="279.30" font-size="8.2" text-anchor="middle" fill="#111" font-weight="normal" stroke="#111" stroke-width="0.12">Normalized Metabolite Concentration (arb. units)</text>
<polyline points="266.50,263.50 267.37,263.50 268.24,263.50 269.10,263.50 269.97,263.50 270.84,263.50 271.71,263.50 272.57,263.50 273.44,263.50 274.31,263.50 275.18,263.50 276.04,263.50 276.91,263.50 277.78,263.50 278.65,263.50 279.51,263.50 280.38,263.50 281.25,263.50 282.12,263.50 282.98,263.50 283.85,263.50 284.72,263.50 285.59,263.50 286.45,263.50 287.32,263.50 288.19,263.50 289.06,263.50 289.92,263.50 290.79,263.50 291.66,263.50 292.53,263.50 293.39,263.50 294.26,263.50 295.13,263.50 296.00,263.50 296.87,263.50 297.73,263.50 298.60,263.50 299.47,263.50 300.34,263.50 301.20,263.50 302.07,263.26 302.94,262.89 303.81,262.47 304.67,261.98 305.54,261.42 306.41,260.79 307.28,260.06 308.14,259.25 309.01,258.33 309.88,257.30 310.75,256.16 311.61,254.89 312.48,253.48 313.35,251.93 314.22,250.23 315.08,248.38 315.95,246.37 316.82,244.20 317.69,241.86 318.55,239.36 319.42,236.70 320.29,233.87 321.16,230.89 322.03,227.76 322.89,224.50 323.76,221.11 324.63,217.61 325.50,214.02 326.36,210.36 327.23,206.65 328.10,202.92 328.97,199.19 329.83,195.48 330.70,191.84 331.57,188.28 332.44,184.84 333.30,181.55 334.17,178.44 335.04,175.54 335.91,172.88 336.77,170.48 337.64,168.37 338.51,166.57 339.38,165.09 340.24,163.97 341.11,163.20 341.98,162.79 342.85,162.75 343.71,163.09 344.58,163.78 345.45,164.84 346.32,166.25 347.18,167.98 348.05,170.03 348.92,172.38 349.79,174.99 350.66,177.84 351.52,180.91 352.39,184.17 353.26,187.58 354.13,191.12 354.99,194.75 355.86,198.44 356.73,202.17 357.60,205.91 358.46,209.62 359.33,213.30 360.20,216.90 361.07,220.42 361.93,223.83 362.80,227.12 363.67,230.28 364.54,233.29 365.40,236.14 366.27,238.84 367.14,241.38 368.01,243.75 368.87,245.95 369.74,247.99 370.61,249.88 371.48,251.60 372.34,253.18 373.21,254.62 374.08,255.91 374.95,257.08 375.82,258.14 376.68,259.07 377.55,259.91 378.42,260.65 379.29,261.30 380.15,261.88 381.02,262.38 381.89,262.81 382.76,263.19 383.62,263.50 384.49,263.50 385.36,263.50 386.23,263.50 387.09,263.50 387.96,263.50 388.83,263.50 389.70,263.50 390.56,263.50 391.43,263.50 392.30,263.50 393.17,263.50 394.03,263.50 394.90,263.50 395.77,263.50 396.64,263.50 397.50,263.50 398.37,263.50 399.24,263.50 400.11,263.50 400.97,263.50 401.84,263.50 402.71,263.50 403.58,263.50 404.45,263.50 405.31,263.50 406.18,263.50 407.05,263.50 407.92,263.50 408.78,263.50 409.65,263.50 410.52,263.50 411.39,263.50 412.25,263.50 413.12,263.50 413.99,263.50 414.86,263.50 415.72,263.50 416.59,263.50 417.46,263.50 418.33,263.50 419.19,263.50 420.06,263.50 420.93,263.50 421.80,263.50 422.66,263.50 423.53,263.50 424.40,263.50 425.27,263.50 426.13,263.50 427.00,263.50 427.87,263.50 428.74,263.50 429.61,263.50 430.47,263.50 431.34,263.50 432.21,263.50 433.08,263.50 433.94,263.50 434.81,263.50 435.68,263.50 436.55,263.50 437.41,263.50 438.28,263.50 439.15,263.50 440.02,263.50 440.88,263.50 441.75,263.50 442.62,263.50 443.49,263.50 444.35,263.50 445.22,263.50 446.09,263.50 446.96,263.50 447.82,263.50 448.69,263.50 449.56,263.50 450.43,263.50 451.29,263.50 452.16,263.50 453.03,263.50 453.90,263.50 454.76,263.50 455.63,263.50 456.50,263.50" fill="none" stroke="#ffab1c" stroke-width="1.3" stroke-linejoin="round"/>
<text transform="translate(16.1,205.2) rotate(-90)" font-size="8.1" text-anchor="middle" fill="#111" stroke="#111" stroke-width="0.12">Frequency</text>
<text transform="translate(242.6,202.6) rotate(-90)" font-size="8.1" text-anchor="middle" fill="#111" stroke="#111" stroke-width="0.12">Frequency</text>
<rect x="158.5" y="195.7" width="17.6" height="4.8" fill="#ffb3b3" stroke="#7a5a5a" stroke-width="0.6"/>
<rect x="158.3" y="207.5" width="17.8" height="4.4" fill="#ff0000"/>
<text x="182.80" y="201.40" font-size="8.2" text-anchor="start" fill="#222" font-weight="normal" >Microfluidics</text>
<text x="184.00" y="213.30" font-size="8.2" text-anchor="start" fill="#222" font-weight="normal" >Model</text>
<rect x="400.4" y="202.4" width="17.7" height="4.4" fill="#ffffb8" stroke="#707060" stroke-width="0.6"/>
<rect x="400.2" y="214.2" width="17.9" height="4.3" fill="#ffab1c"/>
<text x="424.10" y="208.00" font-size="8.2" text-anchor="start" fill="#222" font-weight="normal" >Microfluidics</text>
<text x="426.00" y="220.60" font-size="8.2" text-anchor="start" fill="#222" font-weight="normal" >Model</text>
<polyline points="22.30,372.40 23.47,372.44 24.90,372.50 26.58,372.57 28.46,372.64 30.51,372.73 32.69,372.81 34.98,372.90 37.33,372.99 39.72,373.07 42.11,373.15 44.46,373.23 46.75,373.30 49.04,373.36 51.41,373.41 53.84,373.47 56.33,373.52 58.85,373.57 61.39,373.61 63.93,373.66 66.45,373.71 68.95,373.75 71.40,373.80 73.78,373.85 76.09,373.89 78.35,373.94 80.61,373.99 82.86,374.04 85.09,374.08 87.29,374.13 89.45,374.18 91.55,374.22 93.60,374.27 95.59,374.32 97.49,374.38 99.31,374.43 101.03,374.49 102.67,374.56 104.25,374.62 105.77,374.68 107.22,374.75 108.61,374.82 109.92,374.89 111.16,374.96 112.33,375.04 113.42,375.12 114.43,375.20 115.35,375.29 116.19,375.39 116.89,375.48 117.44,375.57 117.85,375.65 118.15,375.73 118.38,375.82 118.56,375.91 118.71,376.02 118.87,376.14 119.06,376.29 119.31,376.46 119.65,376.65 120.10,376.88 120.65,377.16 121.25,377.46 121.90,377.80 122.59,378.17 123.31,378.56 124.06,378.96 124.82,379.37 125.60,379.79 126.37,380.20 127.15,380.61 127.91,381.00 128.66,381.37 129.39,381.74 130.14,382.13 130.88,382.54 131.64,382.94 132.39,383.35 133.15,383.74 133.91,384.12 134.67,384.48 135.43,384.81 136.19,385.10 136.95,385.35 137.70,385.56 138.45,385.71 139.17,385.83 139.89,385.91 140.59,385.95 141.30,385.97 142.01,385.97 142.74,385.94 143.48,385.89 144.25,385.82 145.04,385.74 145.88,385.65 146.75,385.56 147.68,385.44 148.67,385.30 149.71,385.14 150.78,384.96 151.88,384.76 152.99,384.55 154.09,384.32 155.19,384.09 156.26,383.86 157.30,383.62 158.29,383.39 159.22,383.16 160.07,382.94 160.85,382.71 161.57,382.47 162.25,382.23 162.91,381.99 163.56,381.74 164.22,381.49 164.91,381.24 165.64,380.98 166.43,380.71 167.30,380.45 168.27,380.17 169.33,379.89 170.47,379.59 171.69,379.28 172.96,378.96 174.27,378.63 175.62,378.31 176.98,377.98 178.35,377.67 179.72,377.37 181.07,377.09 182.39,376.82 183.67,376.59 184.90,376.37 186.10,376.18 187.27,376.00 188.43,375.84 189.59,375.70 190.75,375.56 191.92,375.43 193.11,375.30 194.35,375.18 195.62,375.05 196.95,374.93 198.34,374.79 199.86,374.65 201.54,374.51 203.34,374.36 205.22,374.22 207.13,374.07 209.04,373.93 210.89,373.80 212.65,373.67 214.27,373.56 215.72,373.46 216.94,373.37 217.90,373.30" fill="none" stroke="#ff4d4d" stroke-width="2.1" stroke-linejoin="round"/>
<polyline points="22.30,370.31 23.47,370.33 24.90,370.36 26.58,370.39 28.46,370.43 30.51,370.47 32.69,370.51 34.98,370.56 37.33,370.62 39.72,370.68 42.11,370.75 44.46,370.82 46.75,370.90 49.02,371.00 51.34,371.11 53.70,371.23 56.10,371.36 58.54,371.49 61.01,371.63 63.50,371.77 66.00,371.91 68.52,372.05 71.04,372.18 73.57,372.29 76.09,372.40 78.68,372.50 81.39,372.58 84.18,372.67 87.02,372.74 89.87,372.82 92.70,372.89 95.47,372.95 98.14,373.02 100.68,373.09 103.05,373.15 105.22,373.22 107.14,373.30 108.84,373.36 110.34,373.41 111.68,373.44 112.87,373.47 113.93,373.50 114.87,373.54 115.72,373.59 116.49,373.65 117.19,373.74 117.86,373.85 118.49,374.00 119.12,374.19 119.68,374.41 120.12,374.64 120.46,374.88 120.72,375.15 120.91,375.43 121.06,375.75 121.20,376.09 121.33,376.46 121.49,376.88 121.69,377.33 121.95,377.83 122.30,378.38 122.72,379.01 123.18,379.75 123.67,380.56 124.19,381.44 124.74,382.35 125.30,383.28 125.87,384.20 126.44,385.09 127.01,385.93 127.58,386.71 128.13,387.38 128.66,387.95 129.17,388.41 129.66,388.82 130.13,389.16 130.60,389.45 131.07,389.70 131.55,389.89 132.03,390.05 132.52,390.16 133.04,390.25 133.58,390.30 134.16,390.33 134.77,390.34 135.42,390.32 136.11,390.25 136.82,390.13 137.56,389.99 138.32,389.80 139.09,389.59 139.88,389.36 140.67,389.10 141.47,388.83 142.26,388.54 143.04,388.25 143.82,387.95 144.58,387.63 145.35,387.29 146.13,386.92 146.90,386.53 147.68,386.12 148.46,385.71 149.24,385.28 150.02,384.85 150.80,384.42 151.57,383.99 152.34,383.57 153.11,383.16 153.88,382.76 154.66,382.35 155.46,381.93 156.25,381.50 157.04,381.08 157.83,380.66 158.61,380.25 159.36,379.84 160.10,379.45 160.82,379.07 161.50,378.72 162.15,378.38 162.74,378.06 163.24,377.76 163.67,377.48 164.06,377.21 164.44,376.95 164.81,376.70 165.21,376.46 165.65,376.23 166.15,376.01 166.74,375.80 167.44,375.59 168.27,375.39 169.16,375.20 170.08,375.01 171.02,374.84 172.02,374.68 173.07,374.53 174.21,374.38 175.45,374.24 176.80,374.11 178.28,373.97 179.91,373.85 181.70,373.72 183.67,373.60 185.97,373.47 188.68,373.35 191.71,373.23 194.95,373.11 198.33,372.99 201.75,372.89 205.11,372.78 208.33,372.69 211.31,372.60 213.96,372.52 216.19,372.46 217.90,372.40" fill="none" stroke="#ffdd00" stroke-width="2.1" stroke-linejoin="round"/>
<polyline points="21.57,370.90 22.16,370.94 22.90,371.01 23.76,371.09 24.74,371.18 25.79,371.28 26.91,371.37 28.08,371.46 29.26,371.53 30.45,371.57 31.61,371.59 32.73,371.57 33.79,371.50 34.81,371.39 35.83,371.24 36.85,371.05 37.87,370.84 38.89,370.60 39.90,370.34 40.92,370.08 41.94,369.81 42.96,369.54 43.98,369.28 45.00,369.04 46.02,368.81 47.04,368.60 48.05,368.40 49.07,368.19 50.09,367.99 51.11,367.79 52.13,367.60 53.15,367.40 54.17,367.21 55.19,367.01 56.20,366.82 57.22,366.62 58.24,366.42 59.26,366.22 60.28,366.01 61.30,365.81 62.32,365.60 63.34,365.39 64.35,365.19 65.37,364.98 66.39,364.78 67.41,364.58 68.43,364.39 69.45,364.21 70.47,364.03 71.50,363.86 72.54,363.71 73.60,363.57 74.66,363.43 75.72,363.30 76.78,363.17 77.82,363.04 78.85,362.90 79.86,362.75 80.84,362.60 81.78,362.42 82.69,362.23 83.56,362.03 84.38,361.83 85.17,361.63 85.93,361.41 86.67,361.19 87.40,360.96 88.11,360.72 88.82,360.46 89.53,360.19 90.25,359.89 90.99,359.58 91.74,359.24 92.50,358.88 93.28,358.51 94.05,358.11 94.83,357.69 95.60,357.26 96.38,356.81 97.16,356.35 97.94,355.88 98.72,355.39 99.49,354.89 100.26,354.38 101.03,353.86 101.80,353.33 102.58,352.78 103.38,352.21 104.17,351.63 104.96,351.03 105.75,350.42 106.53,349.81 107.29,349.19 108.03,348.56 108.74,347.94 109.43,347.31 110.08,346.69 110.69,346.05 111.29,345.41 111.86,344.75 112.41,344.08 112.94,343.41 113.45,342.74 113.95,342.08 114.42,341.41 114.88,340.76 115.33,340.13 115.77,339.51 116.19,338.91 116.59,338.29 116.95,337.60 117.29,336.87 117.60,336.13 117.90,335.40 118.19,334.71 118.48,334.07 118.77,333.52 119.07,333.07 119.39,332.76 119.73,332.61 120.10,332.63 120.49,332.86 120.90,333.26 121.32,333.82 121.76,334.52 122.20,335.32 122.65,336.20 123.11,337.15 123.58,338.13 124.05,339.12 124.52,340.09 125.00,341.03 125.48,341.90 125.96,342.76 126.46,343.66 126.96,344.60 127.46,345.56 127.97,346.52 128.49,347.49 129.01,348.44 129.53,349.38 130.05,350.28 130.56,351.13 131.08,351.93 131.59,352.67 132.09,353.33 132.58,353.94 133.05,354.50 133.52,355.01 133.99,355.50 134.46,355.95 134.95,356.40 135.45,356.83 135.97,357.26 136.52,357.70 137.09,358.16 137.70,358.65 138.34,359.15 139.00,359.66 139.68,360.17 140.38,360.68 141.09,361.20 141.83,361.71 142.59,362.22 143.37,362.72 144.18,363.22 145.01,363.70 145.87,364.17 146.75,364.63 147.66,365.08 148.60,365.53 149.56,365.98 150.55,366.43 151.57,366.87 152.60,367.30 153.66,367.71 154.74,368.10 155.83,368.47 156.95,368.82 158.08,369.13 159.22,369.41 160.38,369.66 161.57,369.89 162.79,370.10 164.02,370.28 165.27,370.45 166.54,370.59 167.82,370.70 169.12,370.79 170.42,370.86 171.74,370.90 173.06,370.92 174.38,370.90 175.72,370.84 177.10,370.72 178.50,370.54 179.91,370.32 181.34,370.08 182.77,369.82 184.19,369.57 185.61,369.33 187.00,369.13 188.37,368.96 189.71,368.85 191.00,368.81 192.26,368.84 193.49,368.93 194.70,369.07 195.89,369.24 197.05,369.45 198.20,369.67 199.34,369.91 200.47,370.14 201.59,370.37 202.71,370.58 203.82,370.76 204.94,370.90 206.10,371.02 207.31,371.13 208.55,371.23 209.81,371.33 211.07,371.41 212.29,371.48 213.47,371.55 214.58,371.61 215.59,371.67 216.50,371.72 217.28,371.76 217.90,371.80" fill="none" stroke="#00e000" stroke-width="2.1" stroke-linejoin="round"/>
<line x1="119.70" y1="312.10" x2="119.70" y2="432.70" stroke="#888" stroke-width="1.0"/>
<line x1="21.80" y1="372.40" x2="218.40" y2="372.40" stroke="#888" stroke-width="1.0"/>
<line x1="119.70" y1="432.20" x2="121.90" y2="432.20" stroke="#777" stroke-width="0.8"/>
<line x1="119.70" y1="426.22" x2="121.00" y2="426.22" stroke="#777" stroke-width="0.8"/>
<line x1="119.70" y1="420.24" x2="121.00" y2="420.24" stroke="#777" stroke-width="0.8"/>
<line x1="119.70" y1="414.26" x2="121.00" y2="414.26" stroke="#777" stroke-width="0.8"/>
<line x1="119.70" y1="408.28" x2="121.00" y2="408.28" stroke="#777" stroke-width="0.8"/>
<line x1="119.70" y1="402.30" x2="121.90" y2="402.30" stroke="#777" stroke-width="0.8"/>
<line x1="119.70" y1="396.32" x2="121.00" y2="396.32" stroke="#777" stroke-width="0.8"/>
<line x1="119.70" y1="390.34" x2="121.00" y2="390.34" stroke="#777" stroke-width="0.8"/>
<line x1="119.70" y1="384.36" x2="121.00" y2="384.36" stroke="#777" stroke-width="0.8"/>
<line x1="119.70" y1="378.38" x2="121.00" y2="378.38" stroke="#777" stroke-width="0.8"/>
<line x1="119.70" y1="372.40" x2="121.90" y2="372.40" stroke="#777" stroke-width="0.8"/>
<line x1="119.70" y1="366.42" x2="121.00" y2="366.42" stroke="#777" stroke-width="0.8"/>
<line x1="119.70" y1="360.44" x2="121.00" y2="360.44" stroke="#777" stroke-width="0.8"/>
<line x1="119.70" y1="354.46" x2="121.00" y2="354.46" stroke="#777" stroke-width="0.8"/>
<line x1="119.70" y1="348.48" x2="121.00" y2="348.48" stroke="#777" stroke-width="0.8"/>
<line x1="119.70" y1="342.50" x2="121.90" y2="342.50" stroke="#777" stroke-width="0.8"/>
<line x1="119.70" y1="336.52" x2="121.00" y2="336.52" stroke="#777" stroke-width="0.8"/>
<line x1="119.70" y1="330.54" x2="121.00" y2="330.54" stroke="#777" stroke-width="0.8"/>
<line x1="119.70" y1="324.56" x2="121.00" y2="324.56" stroke="#777" stroke-width="0.8"/>
<line x1="119.70" y1="318.58" x2="121.00" y2="318.58" stroke="#777" stroke-width="0.8"/>
<line x1="119.70" y1="312.60" x2="121.90" y2="312.60" stroke="#777" stroke-width="0.8"/>
<line x1="22.30" y1="370.20" x2="22.30" y2="372.40" stroke="#777" stroke-width="0.8"/>
<line x1="34.52" y1="371.10" x2="34.52" y2="372.40" stroke="#777" stroke-width="0.8"/>
<line x1="46.75" y1="371.10" x2="46.75" y2="372.40" stroke="#777" stroke-width="0.8"/>
<line x1="58.97" y1="371.10" x2="58.97" y2="372.40" stroke="#777" stroke-width="0.8"/>
<line x1="71.20" y1="370.20" x2="71.20" y2="372.40" stroke="#777" stroke-width="0.8"/>
<line x1="83.42" y1="371.10" x2="83.42" y2="372.40" stroke="#777" stroke-width="0.8"/>
<line x1="95.65" y1="371.10" x2="95.65" y2="372.40" stroke="#777" stroke-width="0.8"/>
<line x1="107.88" y1="371.10" x2="107.88" y2="372.40" stroke="#777" stroke-width="0.8"/>
<line x1="120.10" y1="370.20" x2="120.10" y2="372.40" stroke="#777" stroke-width="0.8"/>
<line x1="132.32" y1="371.10" x2="132.32" y2="372.40" stroke="#777" stroke-width="0.8"/>
<line x1="144.55" y1="371.10" x2="144.55" y2="372.40" stroke="#777" stroke-width="0.8"/>
<line x1="156.77" y1="371.10" x2="156.77" y2="372.40" stroke="#777" stroke-width="0.8"/>
<line x1="169.00" y1="370.20" x2="169.00" y2="372.40" stroke="#777" stroke-width="0.8"/>
<line x1="181.22" y1="371.10" x2="181.22" y2="372.40" stroke="#777" stroke-width="0.8"/>
<line x1="193.45" y1="371.10" x2="193.45" y2="372.40" stroke="#777" stroke-width="0.8"/>
<line x1="205.68" y1="371.10" x2="205.68" y2="372.40" stroke="#777" stroke-width="0.8"/>
<line x1="217.90" y1="370.20" x2="217.90" y2="372.40" stroke="#777" stroke-width="0.8"/>
<text x="118.10" y="316.70" font-size="11.1" text-anchor="end" fill="#1a1a1a" font-weight="normal" stroke="#1a1a1a" stroke-width="0.25">1.0</text>
<text x="118.10" y="346.60" font-size="11.1" text-anchor="end" fill="#1a1a1a" font-weight="normal" stroke="#1a1a1a" stroke-width="0.25">0.5</text>
<text x="118.10" y="406.40" font-size="11.1" text-anchor="end" fill="#1a1a1a" font-weight="normal" stroke="#1a1a1a" stroke-width="0.25">&#8722;<tspan dx="1.3">0.5</tspan></text>
<text x="118.10" y="436.30" font-size="11.1" text-anchor="end" fill="#1a1a1a" font-weight="normal" stroke="#1a1a1a" stroke-width="0.25">&#8722;<tspan dx="1.3">1.0</tspan></text>
<text x="22.30" y="384.80" font-size="11.1" text-anchor="middle" fill="#1a1a1a" font-weight="normal" stroke="#1a1a1a" stroke-width="0.25">&#8722;<tspan dx="0.8">4</tspan></text>
<text x="71.20" y="384.80" font-size="11.1" text-anchor="middle" fill="#1a1a1a" font-weight="normal" stroke="#1a1a1a" stroke-width="0.25">&#8722;<tspan dx="0.8">2</tspan></text>
<text x="169.00" y="384.80" font-size="11.1" text-anchor="middle" fill="#1a1a1a" font-weight="normal" stroke="#1a1a1a" stroke-width="0.25">2</text>
<text x="217.90" y="384.80" font-size="11.1" text-anchor="middle" fill="#1a1a1a" font-weight="normal" stroke="#1a1a1a" stroke-width="0.25">4</text>
<line x1="175.40" y1="399.10" x2="186.90" y2="399.10" stroke="#ff4d4d" stroke-width="1.8"/>
<text x="191.20" y="401.90" font-size="8.3" text-anchor="start" fill="#2a2a2a" font-weight="normal" ><tspan font-style="italic">&#956;</tspan><tspan dx="0.7">-</tspan><tspan dx="0.5">p</tspan></text>
<line x1="175.40" y1="413.35" x2="186.90" y2="413.35" stroke="#ffdd00" stroke-width="1.8"/>
<text x="191.20" y="416.15" font-size="8.3" text-anchor="start" fill="#2a2a2a" font-weight="normal" ><tspan font-style="italic">&#956;</tspan><tspan dx="0.7">-</tspan><tspan dx="0.5">m</tspan></text>
<line x1="175.40" y1="427.60" x2="186.90" y2="427.60" stroke="#00e000" stroke-width="1.8"/>
<text x="191.20" y="430.40" font-size="8.3" text-anchor="start" fill="#2a2a2a" font-weight="normal" >p<tspan dx="0.7">-</tspan><tspan dx="0.5">m</tspan></text>
<polyline points="171.10,318.30 171.10,306.10 208.30,306.10 208.30,319.00" fill="none" stroke="#1a1a1a" stroke-width="0.9"/>
<line x1="168.00" y1="318.30" x2="174.40" y2="318.30" stroke="#1a1a1a" stroke-width="1"/>
<polygon points="161.20,320.30 179.00,320.30 183.00,325.50 179.00,330.70 161.20,330.70" fill="#ffaaaa" stroke="#a88" stroke-width="0.5"/>
<text x="171.10" y="329.30" font-size="10.0" text-anchor="middle" fill="#1a1a1a" font-weight="normal" >P</text>
<circle cx="211.30" cy="325.30" r="5.20" fill="#f8cbad" stroke="#888" stroke-width="0.5"/>
<text x="211.40" y="327.30" font-size="10.0" text-anchor="middle" fill="#1a1a1a" font-weight="normal" >&#956;</text>
<polyline points="172.30,332.30 172.30,348.50 179.00,348.50" fill="none" stroke="#1a1a1a" stroke-width="0.9"/>
<polygon points="181.50,348.50 178.50,347.10 178.50,349.90" fill="#1a1a1a"/>
<polygon points="183.50,343.30 192.00,343.30 193.90,353.70 181.50,353.70" fill="#ffd966" stroke="#998" stroke-width="0.5"/>
<text x="187.70" y="352.30" font-size="10.0" text-anchor="middle" fill="#1a1a1a" font-weight="normal" >M</text>
<polyline points="208.30,332.00 208.30,348.50 195.10,348.50" fill="none" stroke="#1a1a1a" stroke-width="0.9"/>
<line x1="195.10" y1="346.20" x2="195.10" y2="350.80" stroke="#1a1a1a" stroke-width="1"/>
<polyline points="254.50,372.40 291.18,372.40 309.76,372.40 320.27,373.89 328.09,374.61 338.61,374.97 345.21,376.59 351.81,379.40 357.19,376.59 362.32,371.92 367.70,368.39 372.10,366.72 376.75,370.61 380.66,373.89 384.57,375.87 389.95,373.89 395.09,371.32 399.73,370.01 407.56,373.24 425.65,372.40 450.10,372.40" fill="none" stroke="#ff4d4d" stroke-width="2.1" stroke-linejoin="round"/>
<polyline points="254.50,373.00 255.73,372.99 257.29,372.97 259.13,372.95 261.20,372.92 263.44,372.90 265.81,372.87 268.24,372.85 270.70,372.83 273.12,372.81 275.46,372.81 277.67,372.81 279.68,372.82 281.59,372.84 283.50,372.86 285.40,372.88 287.28,372.91 289.13,372.94 290.93,372.98 292.68,373.03 294.36,373.09 295.97,373.15 297.49,373.23 298.91,373.32 300.22,373.42 301.41,373.53 302.47,373.66 303.42,373.80 304.28,373.96 305.06,374.12 305.78,374.29 306.46,374.47 307.11,374.65 307.75,374.83 308.39,375.02 309.06,375.21 309.76,375.39 310.46,375.57 311.14,375.73 311.80,375.89 312.44,376.05 313.06,376.21 313.68,376.37 314.30,376.55 314.93,376.75 315.56,376.96 316.21,377.21 316.88,377.48 317.58,377.78 318.32,378.13 319.10,378.53 319.92,378.96 320.75,379.42 321.60,379.90 322.44,380.40 323.27,380.90 324.08,381.39 324.86,381.87 325.59,382.34 326.26,382.77 326.87,383.16 327.41,383.53 327.88,383.87 328.30,384.19 328.68,384.49 329.03,384.79 329.35,385.07 329.65,385.35 329.95,385.62 330.25,385.90 330.57,386.17 330.90,386.46 331.27,386.75 331.66,387.04 332.05,387.31 332.45,387.56 332.85,387.82 333.25,388.07 333.66,388.32 334.07,388.59 334.48,388.88 334.89,389.19 335.31,389.53 335.74,389.92 336.16,390.34 336.58,390.80 337.00,391.27 337.40,391.77 337.81,392.29 338.22,392.83 338.64,393.40 339.07,394.01 339.51,394.64 339.98,395.30 340.47,396.00 340.99,396.74 341.54,397.52 342.14,398.37 342.78,399.31 343.47,400.32 344.18,401.39 344.91,402.49 345.65,403.61 346.40,404.72 347.14,405.80 347.86,406.84 348.56,407.81 349.23,408.69 349.86,409.48 350.44,410.18 351.00,410.84 351.53,411.47 352.04,412.05 352.53,412.58 353.02,413.06 353.50,413.50 353.98,413.88 354.46,414.21 354.95,414.49 355.45,414.70 355.97,414.86 356.49,414.96 357.00,415.01 357.50,415.00 358.00,414.95 358.50,414.84 359.01,414.67 359.53,414.45 360.08,414.17 360.65,413.83 361.25,413.44 361.89,412.98 362.57,412.47 363.30,411.85 364.07,411.13 364.88,410.31 365.72,409.41 366.59,408.45 367.47,407.46 368.37,406.44 369.28,405.42 370.18,404.42 371.08,403.45 371.97,402.54 372.84,401.70 373.71,400.91 374.62,400.11 375.55,399.33 376.49,398.56 377.43,397.80 378.35,397.07 379.26,396.36 380.14,395.68 380.97,395.03 381.75,394.42 382.47,393.85 383.11,393.33 383.66,392.87 384.13,392.48 384.52,392.14 384.85,391.85 385.15,391.59 385.41,391.35 385.67,391.12 385.92,390.89 386.20,390.65 386.50,390.39 386.85,390.09 387.26,389.74 387.73,389.35 388.23,388.93 388.76,388.48 389.31,388.01 389.88,387.54 390.46,387.05 391.04,386.57 391.63,386.09 392.21,385.62 392.78,385.17 393.33,384.75 393.87,384.36 394.37,384.00 394.86,383.65 395.34,383.32 395.80,383.00 396.26,382.69 396.72,382.40 397.19,382.11 397.66,381.84 398.15,381.56 398.65,381.30 399.18,381.03 399.73,380.77 400.30,380.51 400.87,380.27 401.44,380.02 402.02,379.79 402.62,379.56 403.23,379.34 403.87,379.12 404.53,378.91 405.23,378.70 405.96,378.49 406.74,378.29 407.56,378.08 408.42,377.88 409.30,377.68 410.22,377.48 411.17,377.29 412.15,377.10 413.17,376.91 414.21,376.73 415.30,376.55 416.42,376.37 417.58,376.20 418.78,376.03 420.03,375.87 421.34,375.71 422.76,375.55 424.24,375.39 425.79,375.23 427.37,375.08 428.97,374.93 430.56,374.79 432.14,374.65 433.68,374.52 435.16,374.40 436.57,374.29 437.88,374.19 439.13,374.10 440.38,374.03 441.61,373.95 442.82,373.89 443.99,373.84 445.10,373.79 446.16,373.75 447.14,373.71 448.04,373.68 448.84,373.65 449.53,373.62 450.10,373.60" fill="none" stroke="#ffdd00" stroke-width="2.1" stroke-linejoin="round"/>
<polyline points="254.50,371.80 278.95,372.40 289.95,372.10 298.27,370.79 304.62,372.40 309.76,374.97 315.14,375.21 319.05,370.61 322.96,367.08 327.61,366.00 331.52,371.92 336.16,379.16 339.34,383.16 343.99,379.82 347.90,368.03 351.57,354.22 353.28,355.48 356.46,358.83 359.63,367.32 363.06,375.21 367.70,377.90 371.62,373.89 376.26,368.69 380.91,364.69 384.82,366.72 388.73,371.92 393.87,374.61 399.73,373.30 407.56,370.79 415.87,371.80 425.65,372.40 450.10,372.40" fill="none" stroke="#00e000" stroke-width="2.1" stroke-linejoin="round"/>
<line x1="352.50" y1="312.10" x2="352.50" y2="432.70" stroke="#888" stroke-width="1.0"/>
<line x1="254.00" y1="372.40" x2="450.60" y2="372.40" stroke="#888" stroke-width="1.0"/>
<line x1="352.50" y1="432.20" x2="354.70" y2="432.20" stroke="#777" stroke-width="0.8"/>
<line x1="352.50" y1="426.22" x2="353.80" y2="426.22" stroke="#777" stroke-width="0.8"/>
<line x1="352.50" y1="420.24" x2="353.80" y2="420.24" stroke="#777" stroke-width="0.8"/>
<line x1="352.50" y1="414.26" x2="353.80" y2="414.26" stroke="#777" stroke-width="0.8"/>
<line x1="352.50" y1="408.28" x2="353.80" y2="408.28" stroke="#777" stroke-width="0.8"/>
<line x1="352.50" y1="402.30" x2="354.70" y2="402.30" stroke="#777" stroke-width="0.8"/>
<line x1="352.50" y1="396.32" x2="353.80" y2="396.32" stroke="#777" stroke-width="0.8"/>
<line x1="352.50" y1="390.34" x2="353.80" y2="390.34" stroke="#777" stroke-width="0.8"/>
<line x1="352.50" y1="384.36" x2="353.80" y2="384.36" stroke="#777" stroke-width="0.8"/>
<line x1="352.50" y1="378.38" x2="353.80" y2="378.38" stroke="#777" stroke-width="0.8"/>
<line x1="352.50" y1="372.40" x2="354.70" y2="372.40" stroke="#777" stroke-width="0.8"/>
<line x1="352.50" y1="366.42" x2="353.80" y2="366.42" stroke="#777" stroke-width="0.8"/>
<line x1="352.50" y1="360.44" x2="353.80" y2="360.44" stroke="#777" stroke-width="0.8"/>
<line x1="352.50" y1="354.46" x2="353.80" y2="354.46" stroke="#777" stroke-width="0.8"/>
<line x1="352.50" y1="348.48" x2="353.80" y2="348.48" stroke="#777" stroke-width="0.8"/>
<line x1="352.50" y1="342.50" x2="354.70" y2="342.50" stroke="#777" stroke-width="0.8"/>
<line x1="352.50" y1="336.52" x2="353.80" y2="336.52" stroke="#777" stroke-width="0.8"/>
<line x1="352.50" y1="330.54" x2="353.80" y2="330.54" stroke="#777" stroke-width="0.8"/>
<line x1="352.50" y1="324.56" x2="353.80" y2="324.56" stroke="#777" stroke-width="0.8"/>
<line x1="352.50" y1="318.58" x2="353.80" y2="318.58" stroke="#777" stroke-width="0.8"/>
<line x1="352.50" y1="312.60" x2="354.70" y2="312.60" stroke="#777" stroke-width="0.8"/>
<line x1="254.50" y1="370.20" x2="254.50" y2="372.40" stroke="#777" stroke-width="0.8"/>
<line x1="266.73" y1="371.10" x2="266.73" y2="372.40" stroke="#777" stroke-width="0.8"/>
<line x1="278.95" y1="371.10" x2="278.95" y2="372.40" stroke="#777" stroke-width="0.8"/>
<line x1="291.18" y1="371.10" x2="291.18" y2="372.40" stroke="#777" stroke-width="0.8"/>
<line x1="303.40" y1="370.20" x2="303.40" y2="372.40" stroke="#777" stroke-width="0.8"/>
<line x1="315.62" y1="371.10" x2="315.62" y2="372.40" stroke="#777" stroke-width="0.8"/>
<line x1="327.85" y1="371.10" x2="327.85" y2="372.40" stroke="#777" stroke-width="0.8"/>
<line x1="340.07" y1="371.10" x2="340.07" y2="372.40" stroke="#777" stroke-width="0.8"/>
<line x1="352.30" y1="370.20" x2="352.30" y2="372.40" stroke="#777" stroke-width="0.8"/>
<line x1="364.53" y1="371.10" x2="364.53" y2="372.40" stroke="#777" stroke-width="0.8"/>
<line x1="376.75" y1="371.10" x2="376.75" y2="372.40" stroke="#777" stroke-width="0.8"/>
<line x1="388.98" y1="371.10" x2="388.98" y2="372.40" stroke="#777" stroke-width="0.8"/>
<line x1="401.20" y1="370.20" x2="401.20" y2="372.40" stroke="#777" stroke-width="0.8"/>
<line x1="413.43" y1="371.10" x2="413.43" y2="372.40" stroke="#777" stroke-width="0.8"/>
<line x1="425.65" y1="371.10" x2="425.65" y2="372.40" stroke="#777" stroke-width="0.8"/>
<line x1="437.88" y1="371.10" x2="437.88" y2="372.40" stroke="#777" stroke-width="0.8"/>
<line x1="450.10" y1="370.20" x2="450.10" y2="372.40" stroke="#777" stroke-width="0.8"/>
<text x="350.90" y="316.70" font-size="11.1" text-anchor="end" fill="#1a1a1a" font-weight="normal" stroke="#1a1a1a" stroke-width="0.25">1.0</text>
<text x="350.90" y="346.60" font-size="11.1" text-anchor="end" fill="#1a1a1a" font-weight="normal" stroke="#1a1a1a" stroke-width="0.25">0.5</text>
<text x="350.90" y="406.40" font-size="11.1" text-anchor="end" fill="#1a1a1a" font-weight="normal" stroke="#1a1a1a" stroke-width="0.25">&#8722;<tspan dx="1.3">0.5</tspan></text>
<text x="350.90" y="436.30" font-size="11.1" text-anchor="end" fill="#1a1a1a" font-weight="normal" stroke="#1a1a1a" stroke-width="0.25">&#8722;<tspan dx="1.3">1.0</tspan></text>
<text x="254.50" y="384.80" font-size="11.1" text-anchor="middle" fill="#1a1a1a" font-weight="normal" stroke="#1a1a1a" stroke-width="0.25">&#8722;<tspan dx="0.8">4</tspan></text>
<text x="303.40" y="384.80" font-size="11.1" text-anchor="middle" fill="#1a1a1a" font-weight="normal" stroke="#1a1a1a" stroke-width="0.25">&#8722;<tspan dx="0.8">2</tspan></text>
<text x="401.20" y="384.80" font-size="11.1" text-anchor="middle" fill="#1a1a1a" font-weight="normal" stroke="#1a1a1a" stroke-width="0.25">2</text>
<text x="450.10" y="384.80" font-size="11.1" text-anchor="middle" fill="#1a1a1a" font-weight="normal" stroke="#1a1a1a" stroke-width="0.25">4</text>
<line x1="402.10" y1="399.10" x2="414.00" y2="399.10" stroke="#ff4d4d" stroke-width="1.8"/>
<text x="418.20" y="401.90" font-size="8.3" text-anchor="start" fill="#2a2a2a" font-weight="normal" ><tspan font-style="italic">&#956;</tspan><tspan dx="0.7">-</tspan><tspan dx="0.5">p</tspan></text>
<line x1="402.10" y1="413.85" x2="414.00" y2="413.85" stroke="#ffdd00" stroke-width="1.8"/>
<text x="418.20" y="416.65" font-size="8.3" text-anchor="start" fill="#2a2a2a" font-weight="normal" ><tspan font-style="italic">&#956;</tspan><tspan dx="0.7">-</tspan><tspan dx="0.5">m</tspan></text>
<line x1="402.10" y1="428.60" x2="414.00" y2="428.60" stroke="#00e000" stroke-width="1.8"/>
<text x="418.20" y="431.40" font-size="8.3" text-anchor="start" fill="#2a2a2a" font-weight="normal" >p<tspan dx="0.7">-</tspan><tspan dx="0.5">m</tspan></text>
<polyline points="397.60,317.54 397.60,304.97 435.91,304.97 435.91,318.26" fill="none" stroke="#1a1a1a" stroke-width="0.9"/>
<line x1="394.40" y1="317.54" x2="401.00" y2="317.54" stroke="#1a1a1a" stroke-width="1"/>
<polygon points="387.40,319.60 405.73,319.60 409.85,324.96 405.73,330.31 387.40,330.31" fill="#ffaaaa" stroke="#a88" stroke-width="0.5"/>
<text x="397.60" y="328.87" font-size="10.3" text-anchor="middle" fill="#1a1a1a" font-weight="normal" >P</text>
<circle cx="439.00" cy="324.75" r="5.36" fill="#f8cbad" stroke="#888" stroke-width="0.5"/>
<text x="439.11" y="326.81" font-size="10.3" text-anchor="middle" fill="#1a1a1a" font-weight="normal" >&#956;</text>
<polyline points="398.83,331.96 398.83,348.65 405.73,348.65" fill="none" stroke="#1a1a1a" stroke-width="0.9"/>
<polygon points="408.31,348.65 405.22,347.20 405.22,350.09" fill="#1a1a1a"/>
<polygon points="410.37,343.29 419.12,343.29 421.08,354.00 408.31,354.00" fill="#ffd966" stroke="#998" stroke-width="0.5"/>
<text x="414.69" y="352.56" font-size="10.3" text-anchor="middle" fill="#1a1a1a" font-weight="normal" >M</text>
<polyline points="435.91,331.65 435.91,348.65 422.32,348.65" fill="none" stroke="#1a1a1a" stroke-width="0.9"/>
<line x1="422.32" y1="346.28" x2="422.32" y2="351.02" stroke="#1a1a1a" stroke-width="1"/>
<g stroke="#c00000" stroke-width="1.9" stroke-linecap="butt"><line x1="394.4" y1="337.70000000000005" x2="402.79999999999995" y2="346.1"/><line x1="394.4" y1="346.1" x2="402.79999999999995" y2="337.70000000000005"/></g>
<polyline points="486.70,372.39 489.14,371.91 491.59,371.96 494.03,372.58 496.48,372.51 498.93,372.59 501.37,372.19 503.81,372.42 506.26,372.12 508.70,373.07 511.15,371.82 513.60,372.45 516.04,372.10 518.49,372.47 520.93,372.43 523.38,372.27 525.82,371.93 528.26,372.54 530.71,372.19 533.15,372.25 535.60,372.35 538.04,373.07 540.49,371.80 542.94,372.79 545.38,372.55 547.83,372.86 550.27,371.96 552.72,373.01 555.16,372.27 557.61,372.57 560.05,371.35 562.50,372.61 564.94,371.82 567.38,372.24 569.83,371.07 572.27,372.20 574.72,370.79 577.16,371.36 579.61,370.71 582.06,371.75 584.50,370.36 586.95,371.37 589.39,370.24 591.84,372.19 594.28,371.22 596.73,372.40 599.17,371.95 601.62,372.33 604.06,371.36 606.50,372.79 608.95,371.17 611.39,372.29 613.84,371.51 616.28,372.44 618.73,371.45 621.17,373.05 623.62,371.64 626.07,372.33 628.51,372.58 630.96,372.40 633.40,372.13 635.85,372.21 638.29,372.29 640.74,372.47 643.18,372.10 645.62,372.76 648.07,372.08 650.51,372.46 652.96,372.17 655.40,372.60 657.85,371.99 660.30,372.19 662.74,372.46 665.19,372.17 667.63,371.95 670.08,371.76 672.52,372.96 674.97,372.08 677.41,372.23 679.86,372.43 682.30,372.76" fill="none" stroke="#ff4d4d" stroke-width="2.1" stroke-linejoin="round"/>
<polyline points="486.70,372.98 489.14,372.99 491.59,373.07 494.03,373.08 496.48,373.48 498.93,373.16 501.37,373.30 503.81,373.10 506.26,373.23 508.70,373.03 511.15,372.90 513.60,373.18 516.04,373.00 518.49,373.40 520.93,373.12 523.38,373.79 525.82,373.29 528.26,373.90 530.71,373.20 533.15,374.11 535.60,373.07 538.04,374.79 540.49,372.86 542.94,374.69 545.38,373.10 547.83,375.01 550.27,372.16 552.72,375.17 555.16,373.45 557.61,375.65 560.05,373.15 562.50,376.26 564.94,372.90 567.38,375.28 569.83,373.20 572.27,374.75 574.72,373.02 577.16,375.29 579.61,373.38 582.06,375.58 584.50,372.66 586.95,375.77 589.39,372.97 591.84,375.96 594.28,372.81 596.73,375.21 599.17,373.01 601.62,375.66 604.06,372.07 606.50,375.40 608.95,373.23 611.39,375.85 613.84,372.47 616.28,375.95 618.73,372.20 621.17,374.53 623.62,372.67 626.07,375.03 628.51,373.38 630.96,374.66 633.40,373.29 635.85,375.04 638.29,372.84 640.74,374.32 643.18,373.12 645.62,373.91 648.07,373.38 650.51,373.58 652.96,372.94 655.40,372.84 657.85,373.11 660.30,372.90 662.74,373.18 665.19,373.59 667.63,373.08 670.08,373.02 672.52,373.22 674.97,373.05 677.41,372.98 679.86,373.32 682.30,373.47" fill="none" stroke="#ffdd00" stroke-width="2.1" stroke-linejoin="round"/>
<polyline points="486.70,374.19 487.29,374.25 488.03,374.33 488.90,374.42 489.87,374.53 490.93,374.64 492.05,374.75 493.21,374.87 494.40,374.99 495.58,375.11 496.75,375.21 497.87,375.31 498.93,375.39 499.94,375.46 500.96,375.54 501.98,375.61 503.00,375.68 504.02,375.74 505.04,375.80 506.06,375.85 507.07,375.90 508.09,375.94 509.11,375.96 510.13,375.98 511.15,375.99 512.17,375.98 513.19,375.97 514.21,375.95 515.23,375.92 516.24,375.88 517.26,375.84 518.28,375.78 519.30,375.72 520.32,375.65 521.34,375.57 522.36,375.49 523.38,375.39 524.39,375.29 525.41,375.17 526.43,375.05 527.45,374.92 528.47,374.79 529.49,374.64 530.51,374.49 531.52,374.33 532.54,374.16 533.56,373.98 534.58,373.79 535.60,373.60 536.62,373.39 537.64,373.17 538.66,372.95 539.67,372.71 540.69,372.47 541.71,372.21 542.73,371.95 543.75,371.69 544.77,371.42 545.79,371.15 546.81,370.88 547.83,370.61 548.84,370.35 549.86,370.11 550.88,369.89 551.90,369.68 552.92,369.46 553.94,369.22 554.96,368.97 555.98,368.68 556.99,368.35 558.01,367.97 559.03,367.53 560.05,367.02 561.08,366.45 562.14,365.83 563.22,365.17 564.31,364.47 565.39,363.73 566.47,362.94 567.53,362.12 568.56,361.26 569.56,360.36 570.52,359.43 571.43,358.45 572.27,357.45 573.07,356.39 573.81,355.26 574.51,354.08 575.17,352.84 575.80,351.57 576.40,350.27 576.97,348.96 577.53,347.64 578.06,346.32 578.59,345.02 579.10,343.74 579.61,342.50 580.10,341.20 580.57,339.78 581.00,338.27 581.42,336.72 581.82,335.18 582.21,333.68 582.59,332.27 582.96,331.01 583.33,329.91 583.71,329.04 584.10,328.44 584.50,328.15 584.90,328.17 585.29,328.48 585.67,329.03 586.04,329.79 586.41,330.73 586.79,331.81 587.18,333.01 587.58,334.28 588.00,335.60 588.43,336.94 588.90,338.25 589.39,339.51 589.90,340.79 590.41,342.19 590.94,343.67 591.47,345.22 592.03,346.82 592.60,348.44 593.20,350.07 593.83,351.67 594.49,353.23 595.19,354.73 595.93,356.14 596.73,357.45 597.57,358.68 598.48,359.87 599.44,361.03 600.44,362.15 601.47,363.22 602.53,364.25 603.61,365.24 604.69,366.18 605.78,367.06 606.86,367.90 607.92,368.68 608.95,369.41 609.97,370.07 610.99,370.66 612.01,371.19 613.02,371.67 614.04,372.09 615.06,372.47 616.08,372.82 617.10,373.13 618.12,373.42 619.14,373.69 620.16,373.94 621.17,374.19 622.19,374.42 623.21,374.61 624.23,374.77 625.25,374.90 626.27,375.01 627.29,375.09 628.31,375.16 629.33,375.21 630.34,375.26 631.36,375.30 632.38,375.34 633.40,375.39 634.42,375.43 635.44,375.45 636.46,375.46 637.48,375.46 638.49,375.44 639.51,375.43 640.53,375.41 641.55,375.39 642.57,375.38 643.59,375.37 644.61,375.37 645.62,375.39 646.64,375.43 647.66,375.48 648.68,375.55 649.70,375.63 650.72,375.72 651.74,375.80 652.76,375.88 653.77,375.94 654.79,375.99 655.81,376.02 656.83,376.02 657.85,375.99 658.87,375.92 659.89,375.83 660.91,375.71 661.92,375.57 662.94,375.41 663.96,375.24 664.98,375.06 666.00,374.88 667.02,374.70 668.04,374.52 669.06,374.35 670.08,374.19 671.13,374.04 672.25,373.87 673.42,373.70 674.60,373.53 675.79,373.36 676.95,373.18 678.07,373.02 679.13,372.87 680.10,372.72 680.97,372.60 681.71,372.49 682.30,372.40" fill="none" stroke="#00e000" stroke-width="2.1" stroke-linejoin="round"/>
<line x1="584.50" y1="312.10" x2="584.50" y2="432.70" stroke="#888" stroke-width="1.0"/>
<line x1="486.20" y1="372.40" x2="682.80" y2="372.40" stroke="#888" stroke-width="1.0"/>
<line x1="584.50" y1="432.20" x2="586.70" y2="432.20" stroke="#777" stroke-width="0.8"/>
<line x1="584.50" y1="426.22" x2="585.80" y2="426.22" stroke="#777" stroke-width="0.8"/>
<line x1="584.50" y1="420.24" x2="585.80" y2="420.24" stroke="#777" stroke-width="0.8"/>
<line x1="584.50" y1="414.26" x2="585.80" y2="414.26" stroke="#777" stroke-width="0.8"/>
<line x1="584.50" y1="408.28" x2="585.80" y2="408.28" stroke="#777" stroke-width="0.8"/>
<line x1="584.50" y1="402.30" x2="586.70" y2="402.30" stroke="#777" stroke-width="0.8"/>
<line x1="584.50" y1="396.32" x2="585.80" y2="396.32" stroke="#777" stroke-width="0.8"/>
<line x1="584.50" y1="390.34" x2="585.80" y2="390.34" stroke="#777" stroke-width="0.8"/>
<line x1="584.50" y1="384.36" x2="585.80" y2="384.36" stroke="#777" stroke-width="0.8"/>
<line x1="584.50" y1="378.38" x2="585.80" y2="378.38" stroke="#777" stroke-width="0.8"/>
<line x1="584.50" y1="372.40" x2="586.70" y2="372.40" stroke="#777" stroke-width="0.8"/>
<line x1="584.50" y1="366.42" x2="585.80" y2="366.42" stroke="#777" stroke-width="0.8"/>
<line x1="584.50" y1="360.44" x2="585.80" y2="360.44" stroke="#777" stroke-width="0.8"/>
<line x1="584.50" y1="354.46" x2="585.80" y2="354.46" stroke="#777" stroke-width="0.8"/>
<line x1="584.50" y1="348.48" x2="585.80" y2="348.48" stroke="#777" stroke-width="0.8"/>
<line x1="584.50" y1="342.50" x2="586.70" y2="342.50" stroke="#777" stroke-width="0.8"/>
<line x1="584.50" y1="336.52" x2="585.80" y2="336.52" stroke="#777" stroke-width="0.8"/>
<line x1="584.50" y1="330.54" x2="585.80" y2="330.54" stroke="#777" stroke-width="0.8"/>
<line x1="584.50" y1="324.56" x2="585.80" y2="324.56" stroke="#777" stroke-width="0.8"/>
<line x1="584.50" y1="318.58" x2="585.80" y2="318.58" stroke="#777" stroke-width="0.8"/>
<line x1="584.50" y1="312.60" x2="586.70" y2="312.60" stroke="#777" stroke-width="0.8"/>
<line x1="486.70" y1="370.20" x2="486.70" y2="372.40" stroke="#777" stroke-width="0.8"/>
<line x1="498.93" y1="371.10" x2="498.93" y2="372.40" stroke="#777" stroke-width="0.8"/>
<line x1="511.15" y1="371.10" x2="511.15" y2="372.40" stroke="#777" stroke-width="0.8"/>
<line x1="523.38" y1="371.10" x2="523.38" y2="372.40" stroke="#777" stroke-width="0.8"/>
<line x1="535.60" y1="370.20" x2="535.60" y2="372.40" stroke="#777" stroke-width="0.8"/>
<line x1="547.83" y1="371.10" x2="547.83" y2="372.40" stroke="#777" stroke-width="0.8"/>
<line x1="560.05" y1="371.10" x2="560.05" y2="372.40" stroke="#777" stroke-width="0.8"/>
<line x1="572.27" y1="371.10" x2="572.27" y2="372.40" stroke="#777" stroke-width="0.8"/>
<line x1="584.50" y1="370.20" x2="584.50" y2="372.40" stroke="#777" stroke-width="0.8"/>
<line x1="596.73" y1="371.10" x2="596.73" y2="372.40" stroke="#777" stroke-width="0.8"/>
<line x1="608.95" y1="371.10" x2="608.95" y2="372.40" stroke="#777" stroke-width="0.8"/>
<line x1="621.17" y1="371.10" x2="621.17" y2="372.40" stroke="#777" stroke-width="0.8"/>
<line x1="633.40" y1="370.20" x2="633.40" y2="372.40" stroke="#777" stroke-width="0.8"/>
<line x1="645.62" y1="371.10" x2="645.62" y2="372.40" stroke="#777" stroke-width="0.8"/>
<line x1="657.85" y1="371.10" x2="657.85" y2="372.40" stroke="#777" stroke-width="0.8"/>
<line x1="670.08" y1="371.10" x2="670.08" y2="372.40" stroke="#777" stroke-width="0.8"/>
<line x1="682.30" y1="370.20" x2="682.30" y2="372.40" stroke="#777" stroke-width="0.8"/>
<text x="582.90" y="316.70" font-size="11.1" text-anchor="end" fill="#1a1a1a" font-weight="normal" stroke="#1a1a1a" stroke-width="0.25">1.0</text>
<text x="582.90" y="346.60" font-size="11.1" text-anchor="end" fill="#1a1a1a" font-weight="normal" stroke="#1a1a1a" stroke-width="0.25">0.5</text>
<text x="582.90" y="406.40" font-size="11.1" text-anchor="end" fill="#1a1a1a" font-weight="normal" stroke="#1a1a1a" stroke-width="0.25">&#8722;<tspan dx="1.3">0.5</tspan></text>
<text x="582.90" y="436.30" font-size="11.1" text-anchor="end" fill="#1a1a1a" font-weight="normal" stroke="#1a1a1a" stroke-width="0.25">&#8722;<tspan dx="1.3">1.0</tspan></text>
<text x="486.70" y="384.80" font-size="11.1" text-anchor="middle" fill="#1a1a1a" font-weight="normal" stroke="#1a1a1a" stroke-width="0.25">&#8722;<tspan dx="0.8">4</tspan></text>
<text x="535.60" y="384.80" font-size="11.1" text-anchor="middle" fill="#1a1a1a" font-weight="normal" stroke="#1a1a1a" stroke-width="0.25">&#8722;<tspan dx="0.8">2</tspan></text>
<text x="633.40" y="384.80" font-size="11.1" text-anchor="middle" fill="#1a1a1a" font-weight="normal" stroke="#1a1a1a" stroke-width="0.25">2</text>
<text x="682.30" y="384.80" font-size="11.1" text-anchor="middle" fill="#1a1a1a" font-weight="normal" stroke="#1a1a1a" stroke-width="0.25">4</text>
<line x1="636.90" y1="399.10" x2="648.80" y2="399.10" stroke="#ff4d4d" stroke-width="1.8"/>
<text x="653.60" y="401.90" font-size="8.3" text-anchor="start" fill="#2a2a2a" font-weight="normal" ><tspan font-style="italic">&#956;</tspan><tspan dx="0.7">-</tspan><tspan dx="0.5">p</tspan></text>
<line x1="636.90" y1="413.95" x2="648.80" y2="413.95" stroke="#ffdd00" stroke-width="1.8"/>
<text x="653.60" y="416.75" font-size="8.3" text-anchor="start" fill="#2a2a2a" font-weight="normal" ><tspan font-style="italic">&#956;</tspan><tspan dx="0.7">-</tspan><tspan dx="0.5">m</tspan></text>
<line x1="636.90" y1="428.80" x2="648.80" y2="428.80" stroke="#00e000" stroke-width="1.8"/>
<text x="653.60" y="431.60" font-size="8.3" text-anchor="start" fill="#2a2a2a" font-weight="normal" >p<tspan dx="0.7">-</tspan><tspan dx="0.5">m</tspan></text>
<polyline points="629.25,318.35 629.25,305.84 667.38,305.84 667.38,319.07" fill="none" stroke="#1a1a1a" stroke-width="0.9"/>
<line x1="626.07" y1="318.35" x2="632.63" y2="318.35" stroke="#1a1a1a" stroke-width="1"/>
<polygon points="619.10,320.40 637.35,320.40 641.45,325.73 637.35,331.06 619.10,331.06" fill="#ffaaaa" stroke="#a88" stroke-width="0.5"/>
<text x="629.25" y="329.62" font-size="10.25" text-anchor="middle" fill="#1a1a1a" font-weight="normal" >P</text>
<circle cx="670.45" cy="325.52" r="5.33" fill="#f8cbad" stroke="#888" stroke-width="0.5"/>
<text x="670.56" y="327.57" font-size="10.25" text-anchor="middle" fill="#1a1a1a" font-weight="normal" >&#956;</text>
<polyline points="630.48,332.70 630.48,349.30 637.35,349.30" fill="none" stroke="#1a1a1a" stroke-width="0.9"/>
<polygon points="639.91,349.30 636.83,347.87 636.83,350.74" fill="#1a1a1a"/>
<polygon points="641.96,343.97 650.67,343.97 652.62,354.63 639.91,354.63" fill="#ffd966" stroke="#998" stroke-width="0.5"/>
<text x="646.26" y="353.20" font-size="10.25" text-anchor="middle" fill="#1a1a1a" font-weight="normal" >M</text>
<polyline points="667.38,332.39 667.38,349.30 653.85,349.30" fill="none" stroke="#1a1a1a" stroke-width="0.9"/>
<line x1="653.85" y1="346.95" x2="653.85" y2="351.66" stroke="#1a1a1a" stroke-width="1"/>
<g stroke="#c00000" stroke-width="1.9" stroke-linecap="butt"><line x1="663.3" y1="339.2" x2="671.7" y2="347.59999999999997"/><line x1="663.3" y1="347.59999999999997" x2="671.7" y2="339.2"/></g>
</svg>
</body></html>
